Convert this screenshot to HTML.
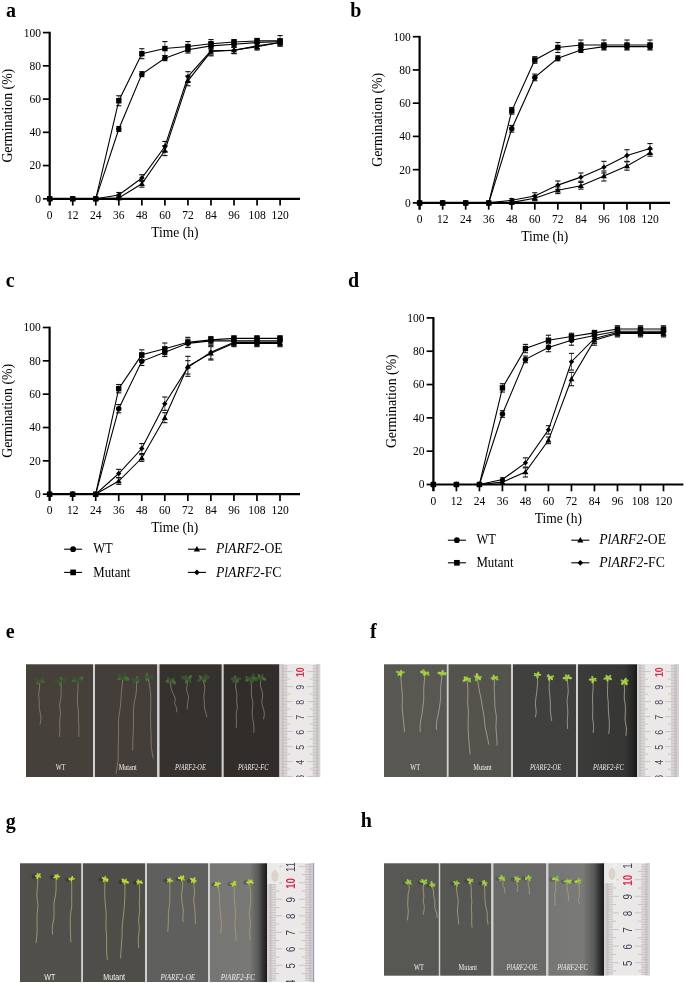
<!DOCTYPE html>
<html><head><meta charset="utf-8"><style>
html,body{margin:0;padding:0;background:#fff;}
body{width:685px;height:983px;overflow:hidden;}
svg{display:block;will-change:transform;}
.tk,.al,.lg,.pn{font-family:"Liberation Serif",serif;fill:#000;}
.tk{font-size:11.5px;}
.al{font-size:13.5px;}
.lg{font-size:13.5px;}
.pn{font-size:20px;font-weight:bold;}
.pl{font-size:6px;fill:#eee;}
</style></head><body>
<svg width="685" height="983" viewBox="0 0 685 983">
<defs><linearGradient id="g1" x1="0" y1="0" x2="1" y2="0"><stop offset="0" stop-color="#3b3b39"/><stop offset="0.8" stop-color="#363634"/><stop offset="0.93" stop-color="#262626"/><stop offset="1" stop-color="#1a1a1a"/></linearGradient><linearGradient id="g2" x1="0" y1="0" x2="1" y2="0"><stop offset="0" stop-color="#767674"/><stop offset="0.7" stop-color="#787876"/><stop offset="0.85" stop-color="#585857"/><stop offset="0.94" stop-color="#2e2e2e"/><stop offset="1" stop-color="#1a1a1a"/></linearGradient><linearGradient id="g3" x1="0" y1="0" x2="1" y2="0"><stop offset="0" stop-color="#767674"/><stop offset="0.62" stop-color="#7a7a78"/><stop offset="0.82" stop-color="#5a5a59"/><stop offset="0.93" stop-color="#2e2e2e"/><stop offset="1" stop-color="#1b1b1b"/></linearGradient></defs>
<text transform="translate(6.0,16.9) scale(1,1.08)" class="pn">a</text>
<text transform="translate(350.2,17.2) scale(1,1.08)" class="pn">b</text>
<text transform="translate(5.800000000000001,286.9) scale(1,1.08)" class="pn">c</text>
<text transform="translate(348.0,286.8) scale(1,1.08)" class="pn">d</text>
<text transform="translate(5.800000000000001,638.0) scale(1,1.08)" class="pn">e</text>
<text transform="translate(369.9,637.8) scale(1,1.08)" class="pn">f</text>
<text transform="translate(5.800000000000001,827.8) scale(1,1.08)" class="pn">g</text>
<text transform="translate(360.79999999999995,827.2) scale(1,1.08)" class="pn">h</text>
<line x1="118.82" y1="126.50" x2="118.82" y2="131.49" stroke="#666" stroke-width="1"/>
<line x1="116.22" y1="126.50" x2="121.42" y2="126.50" stroke="#111" stroke-width="1.1"/>
<line x1="116.22" y1="131.49" x2="121.42" y2="131.49" stroke="#111" stroke-width="1.1"/>
<line x1="141.86" y1="71.66" x2="141.86" y2="76.64" stroke="#666" stroke-width="1"/>
<line x1="139.26" y1="71.66" x2="144.46" y2="71.66" stroke="#111" stroke-width="1.1"/>
<line x1="139.26" y1="76.64" x2="144.46" y2="76.64" stroke="#111" stroke-width="1.1"/>
<line x1="164.90" y1="55.70" x2="164.90" y2="60.69" stroke="#666" stroke-width="1"/>
<line x1="162.30" y1="55.70" x2="167.50" y2="55.70" stroke="#111" stroke-width="1.1"/>
<line x1="162.30" y1="60.69" x2="167.50" y2="60.69" stroke="#111" stroke-width="1.1"/>
<line x1="187.94" y1="46.39" x2="187.94" y2="53.04" stroke="#666" stroke-width="1"/>
<line x1="185.34" y1="46.39" x2="190.54" y2="46.39" stroke="#111" stroke-width="1.1"/>
<line x1="185.34" y1="53.04" x2="190.54" y2="53.04" stroke="#111" stroke-width="1.1"/>
<line x1="210.98" y1="42.57" x2="210.98" y2="49.22" stroke="#666" stroke-width="1"/>
<line x1="208.38" y1="42.57" x2="213.58" y2="42.57" stroke="#111" stroke-width="1.1"/>
<line x1="208.38" y1="49.22" x2="213.58" y2="49.22" stroke="#111" stroke-width="1.1"/>
<line x1="234.02" y1="40.91" x2="234.02" y2="47.56" stroke="#666" stroke-width="1"/>
<line x1="231.42" y1="40.91" x2="236.62" y2="40.91" stroke="#111" stroke-width="1.1"/>
<line x1="231.42" y1="47.56" x2="236.62" y2="47.56" stroke="#111" stroke-width="1.1"/>
<line x1="257.06" y1="40.08" x2="257.06" y2="45.07" stroke="#666" stroke-width="1"/>
<line x1="254.46" y1="40.08" x2="259.66" y2="40.08" stroke="#111" stroke-width="1.1"/>
<line x1="254.46" y1="45.07" x2="259.66" y2="45.07" stroke="#111" stroke-width="1.1"/>
<line x1="280.10" y1="39.25" x2="280.10" y2="44.23" stroke="#666" stroke-width="1"/>
<line x1="277.50" y1="39.25" x2="282.70" y2="39.25" stroke="#111" stroke-width="1.1"/>
<line x1="277.50" y1="44.23" x2="282.70" y2="44.23" stroke="#111" stroke-width="1.1"/>
<line x1="118.82" y1="95.76" x2="118.82" y2="105.73" stroke="#666" stroke-width="1"/>
<line x1="116.22" y1="95.76" x2="121.42" y2="95.76" stroke="#111" stroke-width="1.1"/>
<line x1="116.22" y1="105.73" x2="121.42" y2="105.73" stroke="#111" stroke-width="1.1"/>
<line x1="141.86" y1="48.72" x2="141.86" y2="58.69" stroke="#666" stroke-width="1"/>
<line x1="139.26" y1="48.72" x2="144.46" y2="48.72" stroke="#111" stroke-width="1.1"/>
<line x1="139.26" y1="58.69" x2="144.46" y2="58.69" stroke="#111" stroke-width="1.1"/>
<line x1="164.90" y1="41.57" x2="164.90" y2="55.54" stroke="#666" stroke-width="1"/>
<line x1="162.30" y1="41.57" x2="167.50" y2="41.57" stroke="#111" stroke-width="1.1"/>
<line x1="162.30" y1="55.54" x2="167.50" y2="55.54" stroke="#111" stroke-width="1.1"/>
<line x1="187.94" y1="41.57" x2="187.94" y2="51.55" stroke="#666" stroke-width="1"/>
<line x1="185.34" y1="41.57" x2="190.54" y2="41.57" stroke="#111" stroke-width="1.1"/>
<line x1="185.34" y1="51.55" x2="190.54" y2="51.55" stroke="#111" stroke-width="1.1"/>
<line x1="210.98" y1="39.58" x2="210.98" y2="47.89" stroke="#666" stroke-width="1"/>
<line x1="208.38" y1="39.58" x2="213.58" y2="39.58" stroke="#111" stroke-width="1.1"/>
<line x1="208.38" y1="47.89" x2="213.58" y2="47.89" stroke="#111" stroke-width="1.1"/>
<line x1="234.02" y1="39.58" x2="234.02" y2="44.57" stroke="#666" stroke-width="1"/>
<line x1="231.42" y1="39.58" x2="236.62" y2="39.58" stroke="#111" stroke-width="1.1"/>
<line x1="231.42" y1="44.57" x2="236.62" y2="44.57" stroke="#111" stroke-width="1.1"/>
<line x1="257.06" y1="38.42" x2="257.06" y2="43.40" stroke="#666" stroke-width="1"/>
<line x1="254.46" y1="38.42" x2="259.66" y2="38.42" stroke="#111" stroke-width="1.1"/>
<line x1="254.46" y1="43.40" x2="259.66" y2="43.40" stroke="#111" stroke-width="1.1"/>
<line x1="280.10" y1="35.59" x2="280.10" y2="46.23" stroke="#666" stroke-width="1"/>
<line x1="277.50" y1="35.59" x2="282.70" y2="35.59" stroke="#111" stroke-width="1.1"/>
<line x1="277.50" y1="46.23" x2="282.70" y2="46.23" stroke="#111" stroke-width="1.1"/>
<line x1="118.82" y1="196.31" x2="118.82" y2="199.63" stroke="#666" stroke-width="1"/>
<line x1="116.22" y1="196.31" x2="121.42" y2="196.31" stroke="#111" stroke-width="1.1"/>
<line x1="116.22" y1="199.63" x2="121.42" y2="199.63" stroke="#111" stroke-width="1.1"/>
<line x1="141.86" y1="180.52" x2="141.86" y2="187.17" stroke="#666" stroke-width="1"/>
<line x1="139.26" y1="180.52" x2="144.46" y2="180.52" stroke="#111" stroke-width="1.1"/>
<line x1="139.26" y1="187.17" x2="144.46" y2="187.17" stroke="#111" stroke-width="1.1"/>
<line x1="164.90" y1="145.62" x2="164.90" y2="155.59" stroke="#666" stroke-width="1"/>
<line x1="162.30" y1="145.62" x2="167.50" y2="145.62" stroke="#111" stroke-width="1.1"/>
<line x1="162.30" y1="155.59" x2="167.50" y2="155.59" stroke="#111" stroke-width="1.1"/>
<line x1="187.94" y1="75.81" x2="187.94" y2="85.78" stroke="#666" stroke-width="1"/>
<line x1="185.34" y1="75.81" x2="190.54" y2="75.81" stroke="#111" stroke-width="1.1"/>
<line x1="185.34" y1="85.78" x2="190.54" y2="85.78" stroke="#111" stroke-width="1.1"/>
<line x1="210.98" y1="48.22" x2="210.98" y2="54.87" stroke="#666" stroke-width="1"/>
<line x1="208.38" y1="48.22" x2="213.58" y2="48.22" stroke="#111" stroke-width="1.1"/>
<line x1="208.38" y1="54.87" x2="213.58" y2="54.87" stroke="#111" stroke-width="1.1"/>
<line x1="234.02" y1="46.73" x2="234.02" y2="53.38" stroke="#666" stroke-width="1"/>
<line x1="231.42" y1="46.73" x2="236.62" y2="46.73" stroke="#111" stroke-width="1.1"/>
<line x1="231.42" y1="53.38" x2="236.62" y2="53.38" stroke="#111" stroke-width="1.1"/>
<line x1="257.06" y1="43.40" x2="257.06" y2="50.05" stroke="#666" stroke-width="1"/>
<line x1="254.46" y1="43.40" x2="259.66" y2="43.40" stroke="#111" stroke-width="1.1"/>
<line x1="254.46" y1="50.05" x2="259.66" y2="50.05" stroke="#111" stroke-width="1.1"/>
<line x1="280.10" y1="39.25" x2="280.10" y2="45.90" stroke="#666" stroke-width="1"/>
<line x1="277.50" y1="39.25" x2="282.70" y2="39.25" stroke="#111" stroke-width="1.1"/>
<line x1="277.50" y1="45.90" x2="282.70" y2="45.90" stroke="#111" stroke-width="1.1"/>
<line x1="118.82" y1="192.48" x2="118.82" y2="197.47" stroke="#666" stroke-width="1"/>
<line x1="116.22" y1="192.48" x2="121.42" y2="192.48" stroke="#111" stroke-width="1.1"/>
<line x1="116.22" y1="197.47" x2="121.42" y2="197.47" stroke="#111" stroke-width="1.1"/>
<line x1="141.86" y1="174.70" x2="141.86" y2="181.35" stroke="#666" stroke-width="1"/>
<line x1="139.26" y1="174.70" x2="144.46" y2="174.70" stroke="#111" stroke-width="1.1"/>
<line x1="139.26" y1="181.35" x2="144.46" y2="181.35" stroke="#111" stroke-width="1.1"/>
<line x1="164.90" y1="141.46" x2="164.90" y2="151.43" stroke="#666" stroke-width="1"/>
<line x1="162.30" y1="141.46" x2="167.50" y2="141.46" stroke="#111" stroke-width="1.1"/>
<line x1="162.30" y1="151.43" x2="167.50" y2="151.43" stroke="#111" stroke-width="1.1"/>
<line x1="187.94" y1="71.66" x2="187.94" y2="81.63" stroke="#666" stroke-width="1"/>
<line x1="185.34" y1="71.66" x2="190.54" y2="71.66" stroke="#111" stroke-width="1.1"/>
<line x1="185.34" y1="81.63" x2="190.54" y2="81.63" stroke="#111" stroke-width="1.1"/>
<line x1="210.98" y1="45.90" x2="210.98" y2="55.87" stroke="#666" stroke-width="1"/>
<line x1="208.38" y1="45.90" x2="213.58" y2="45.90" stroke="#111" stroke-width="1.1"/>
<line x1="208.38" y1="55.87" x2="213.58" y2="55.87" stroke="#111" stroke-width="1.1"/>
<line x1="234.02" y1="47.06" x2="234.02" y2="53.71" stroke="#666" stroke-width="1"/>
<line x1="231.42" y1="47.06" x2="236.62" y2="47.06" stroke="#111" stroke-width="1.1"/>
<line x1="231.42" y1="53.71" x2="236.62" y2="53.71" stroke="#111" stroke-width="1.1"/>
<line x1="257.06" y1="42.57" x2="257.06" y2="49.22" stroke="#666" stroke-width="1"/>
<line x1="254.46" y1="42.57" x2="259.66" y2="42.57" stroke="#111" stroke-width="1.1"/>
<line x1="254.46" y1="49.22" x2="259.66" y2="49.22" stroke="#111" stroke-width="1.1"/>
<line x1="280.10" y1="40.08" x2="280.10" y2="45.07" stroke="#666" stroke-width="1"/>
<line x1="277.50" y1="40.08" x2="282.70" y2="40.08" stroke="#111" stroke-width="1.1"/>
<line x1="277.50" y1="45.07" x2="282.70" y2="45.07" stroke="#111" stroke-width="1.1"/>
<polyline points="49.70,198.80 72.74,198.80 95.78,198.80 118.82,129.00 141.86,74.15 164.90,58.19 187.94,49.72 210.98,45.90 234.02,44.23 257.06,42.57 280.10,41.74" fill="none" stroke="#000" stroke-width="1.1"/>
<polyline points="49.70,198.80 72.74,198.80 95.78,198.80 118.82,100.74 141.86,53.71 164.90,48.56 187.94,46.56 210.98,43.74 234.02,42.07 257.06,40.91 280.10,40.91" fill="none" stroke="#000" stroke-width="1.1"/>
<polyline points="49.70,198.80 72.74,198.80 95.78,198.80 118.82,197.97 141.86,183.84 164.90,150.60 187.94,80.80 210.98,51.55 234.02,50.05 257.06,46.73 280.10,42.57" fill="none" stroke="#000" stroke-width="1.1"/>
<polyline points="49.70,198.80 72.74,198.80 95.78,198.80 118.82,194.98 141.86,178.03 164.90,146.45 187.94,76.64 210.98,50.88 234.02,50.38 257.06,45.90 280.10,42.57" fill="none" stroke="#000" stroke-width="1.1"/>
<circle cx="49.70" cy="198.80" r="2.75"/>
<circle cx="72.74" cy="198.80" r="2.75"/>
<circle cx="95.78" cy="198.80" r="2.75"/>
<circle cx="118.82" cy="129.00" r="2.75"/>
<circle cx="141.86" cy="74.15" r="2.75"/>
<circle cx="164.90" cy="58.19" r="2.75"/>
<circle cx="187.94" cy="49.72" r="2.75"/>
<circle cx="210.98" cy="45.90" r="2.75"/>
<circle cx="234.02" cy="44.23" r="2.75"/>
<circle cx="257.06" cy="42.57" r="2.75"/>
<circle cx="280.10" cy="41.74" r="2.75"/>
<rect x="47.00" y="196.10" width="5.40" height="5.40"/>
<rect x="70.04" y="196.10" width="5.40" height="5.40"/>
<rect x="93.08" y="196.10" width="5.40" height="5.40"/>
<rect x="116.12" y="98.04" width="5.40" height="5.40"/>
<rect x="139.16" y="51.01" width="5.40" height="5.40"/>
<rect x="162.20" y="45.86" width="5.40" height="5.40"/>
<rect x="185.24" y="43.86" width="5.40" height="5.40"/>
<rect x="208.28" y="41.04" width="5.40" height="5.40"/>
<rect x="231.32" y="39.37" width="5.40" height="5.40"/>
<rect x="254.36" y="38.21" width="5.40" height="5.40"/>
<rect x="277.40" y="38.21" width="5.40" height="5.40"/>
<path d="M49.70 195.80L52.70 201.05L46.70 201.05Z"/>
<path d="M72.74 195.80L75.74 201.05L69.74 201.05Z"/>
<path d="M95.78 195.80L98.78 201.05L92.78 201.05Z"/>
<path d="M118.82 194.97L121.82 200.22L115.82 200.22Z"/>
<path d="M141.86 180.84L144.86 186.09L138.86 186.09Z"/>
<path d="M164.90 147.60L167.90 152.85L161.90 152.85Z"/>
<path d="M187.94 77.80L190.94 83.05L184.94 83.05Z"/>
<path d="M210.98 48.55L213.98 53.80L207.98 53.80Z"/>
<path d="M234.02 47.05L237.02 52.30L231.02 52.30Z"/>
<path d="M257.06 43.73L260.06 48.98L254.06 48.98Z"/>
<path d="M280.10 39.57L283.10 44.82L277.10 44.82Z"/>
<path d="M49.70 196.10L52.40 198.80L49.70 201.50L47.00 198.80Z"/>
<path d="M72.74 196.10L75.44 198.80L72.74 201.50L70.04 198.80Z"/>
<path d="M95.78 196.10L98.48 198.80L95.78 201.50L93.08 198.80Z"/>
<path d="M118.82 192.28L121.52 194.98L118.82 197.68L116.12 194.98Z"/>
<path d="M141.86 175.33L144.56 178.03L141.86 180.72L139.16 178.03Z"/>
<path d="M164.90 143.75L167.60 146.45L164.90 149.15L162.20 146.45Z"/>
<path d="M187.94 73.94L190.64 76.64L187.94 79.34L185.24 76.64Z"/>
<path d="M210.98 48.18L213.68 50.88L210.98 53.58L208.28 50.88Z"/>
<path d="M234.02 47.68L236.72 50.38L234.02 53.08L231.32 50.38Z"/>
<path d="M257.06 43.20L259.76 45.90L257.06 48.60L254.36 45.90Z"/>
<path d="M280.10 39.87L282.80 42.57L280.10 45.27L277.40 42.57Z"/>
<line x1="49.70" y1="31.80" x2="49.70" y2="205.30" stroke="#000" stroke-width="2.2"/>
<line x1="48.70" y1="198.80" x2="300.00" y2="198.80" stroke="#000" stroke-width="2.2"/>
<line x1="42.90" y1="198.80" x2="49.70" y2="198.80" stroke="#000" stroke-width="1.7"/>
<text x="40.90" y="202.70" text-anchor="end" class="tk">0</text>
<line x1="42.90" y1="165.56" x2="49.70" y2="165.56" stroke="#000" stroke-width="1.7"/>
<text x="40.90" y="169.46" text-anchor="end" class="tk">20</text>
<line x1="42.90" y1="132.32" x2="49.70" y2="132.32" stroke="#000" stroke-width="1.7"/>
<text x="40.90" y="136.22" text-anchor="end" class="tk">40</text>
<line x1="42.90" y1="99.08" x2="49.70" y2="99.08" stroke="#000" stroke-width="1.7"/>
<text x="40.90" y="102.98" text-anchor="end" class="tk">60</text>
<line x1="42.90" y1="65.84" x2="49.70" y2="65.84" stroke="#000" stroke-width="1.7"/>
<text x="40.90" y="69.74" text-anchor="end" class="tk">80</text>
<line x1="42.90" y1="32.60" x2="49.70" y2="32.60" stroke="#000" stroke-width="1.7"/>
<text x="40.90" y="36.50" text-anchor="end" class="tk">100</text>
<line x1="49.70" y1="198.80" x2="49.70" y2="205.60" stroke="#000" stroke-width="1.7"/>
<text x="49.70" y="218.80" text-anchor="middle" class="tk">0</text>
<line x1="72.74" y1="198.80" x2="72.74" y2="205.60" stroke="#000" stroke-width="1.7"/>
<text x="72.74" y="218.80" text-anchor="middle" class="tk">12</text>
<line x1="95.78" y1="198.80" x2="95.78" y2="205.60" stroke="#000" stroke-width="1.7"/>
<text x="95.78" y="218.80" text-anchor="middle" class="tk">24</text>
<line x1="118.82" y1="198.80" x2="118.82" y2="205.60" stroke="#000" stroke-width="1.7"/>
<text x="118.82" y="218.80" text-anchor="middle" class="tk">36</text>
<line x1="141.86" y1="198.80" x2="141.86" y2="205.60" stroke="#000" stroke-width="1.7"/>
<text x="141.86" y="218.80" text-anchor="middle" class="tk">48</text>
<line x1="164.90" y1="198.80" x2="164.90" y2="205.60" stroke="#000" stroke-width="1.7"/>
<text x="164.90" y="218.80" text-anchor="middle" class="tk">60</text>
<line x1="187.94" y1="198.80" x2="187.94" y2="205.60" stroke="#000" stroke-width="1.7"/>
<text x="187.94" y="218.80" text-anchor="middle" class="tk">72</text>
<line x1="210.98" y1="198.80" x2="210.98" y2="205.60" stroke="#000" stroke-width="1.7"/>
<text x="210.98" y="218.80" text-anchor="middle" class="tk">84</text>
<line x1="234.02" y1="198.80" x2="234.02" y2="205.60" stroke="#000" stroke-width="1.7"/>
<text x="234.02" y="218.80" text-anchor="middle" class="tk">96</text>
<line x1="257.06" y1="198.80" x2="257.06" y2="205.60" stroke="#000" stroke-width="1.7"/>
<text x="257.06" y="218.80" text-anchor="middle" class="tk">108</text>
<line x1="280.10" y1="198.80" x2="280.10" y2="205.60" stroke="#000" stroke-width="1.7"/>
<text x="280.10" y="218.80" text-anchor="middle" class="tk">120</text>
<text transform="translate(174.85,236.80) scale(1,1.05)" text-anchor="middle" class="al">Time (h)</text>
<text transform="translate(12.20,115.70) rotate(-90) scale(1,1.07)" text-anchor="middle" class="al" style="font-size:13.8px">Germination (%)</text>
<line x1="511.76" y1="125.45" x2="511.76" y2="132.10" stroke="#666" stroke-width="1"/>
<line x1="509.16" y1="125.45" x2="514.36" y2="125.45" stroke="#111" stroke-width="1.1"/>
<line x1="509.16" y1="132.10" x2="514.36" y2="132.10" stroke="#111" stroke-width="1.1"/>
<line x1="534.80" y1="74.09" x2="534.80" y2="80.74" stroke="#666" stroke-width="1"/>
<line x1="532.20" y1="74.09" x2="537.40" y2="74.09" stroke="#111" stroke-width="1.1"/>
<line x1="532.20" y1="80.74" x2="537.40" y2="80.74" stroke="#111" stroke-width="1.1"/>
<line x1="557.84" y1="55.81" x2="557.84" y2="60.80" stroke="#666" stroke-width="1"/>
<line x1="555.24" y1="55.81" x2="560.44" y2="55.81" stroke="#111" stroke-width="1.1"/>
<line x1="555.24" y1="60.80" x2="560.44" y2="60.80" stroke="#111" stroke-width="1.1"/>
<line x1="580.88" y1="47.50" x2="580.88" y2="52.49" stroke="#666" stroke-width="1"/>
<line x1="578.28" y1="47.50" x2="583.48" y2="47.50" stroke="#111" stroke-width="1.1"/>
<line x1="578.28" y1="52.49" x2="583.48" y2="52.49" stroke="#111" stroke-width="1.1"/>
<line x1="603.92" y1="44.18" x2="603.92" y2="49.17" stroke="#666" stroke-width="1"/>
<line x1="601.32" y1="44.18" x2="606.52" y2="44.18" stroke="#111" stroke-width="1.1"/>
<line x1="601.32" y1="49.17" x2="606.52" y2="49.17" stroke="#111" stroke-width="1.1"/>
<line x1="626.96" y1="44.18" x2="626.96" y2="49.17" stroke="#666" stroke-width="1"/>
<line x1="624.36" y1="44.18" x2="629.56" y2="44.18" stroke="#111" stroke-width="1.1"/>
<line x1="624.36" y1="49.17" x2="629.56" y2="49.17" stroke="#111" stroke-width="1.1"/>
<line x1="650.00" y1="44.18" x2="650.00" y2="49.17" stroke="#666" stroke-width="1"/>
<line x1="647.40" y1="44.18" x2="652.60" y2="44.18" stroke="#111" stroke-width="1.1"/>
<line x1="647.40" y1="49.17" x2="652.60" y2="49.17" stroke="#111" stroke-width="1.1"/>
<line x1="511.76" y1="107.50" x2="511.76" y2="114.15" stroke="#666" stroke-width="1"/>
<line x1="509.16" y1="107.50" x2="514.36" y2="107.50" stroke="#111" stroke-width="1.1"/>
<line x1="509.16" y1="114.15" x2="514.36" y2="114.15" stroke="#111" stroke-width="1.1"/>
<line x1="534.80" y1="56.64" x2="534.80" y2="63.29" stroke="#666" stroke-width="1"/>
<line x1="532.20" y1="56.64" x2="537.40" y2="56.64" stroke="#111" stroke-width="1.1"/>
<line x1="532.20" y1="63.29" x2="537.40" y2="63.29" stroke="#111" stroke-width="1.1"/>
<line x1="557.84" y1="42.52" x2="557.84" y2="52.49" stroke="#666" stroke-width="1"/>
<line x1="555.24" y1="42.52" x2="560.44" y2="42.52" stroke="#111" stroke-width="1.1"/>
<line x1="555.24" y1="52.49" x2="560.44" y2="52.49" stroke="#111" stroke-width="1.1"/>
<line x1="580.88" y1="40.02" x2="580.88" y2="50.00" stroke="#666" stroke-width="1"/>
<line x1="578.28" y1="40.02" x2="583.48" y2="40.02" stroke="#111" stroke-width="1.1"/>
<line x1="578.28" y1="50.00" x2="583.48" y2="50.00" stroke="#111" stroke-width="1.1"/>
<line x1="603.92" y1="40.02" x2="603.92" y2="50.00" stroke="#666" stroke-width="1"/>
<line x1="601.32" y1="40.02" x2="606.52" y2="40.02" stroke="#111" stroke-width="1.1"/>
<line x1="601.32" y1="50.00" x2="606.52" y2="50.00" stroke="#111" stroke-width="1.1"/>
<line x1="626.96" y1="40.02" x2="626.96" y2="50.00" stroke="#666" stroke-width="1"/>
<line x1="624.36" y1="40.02" x2="629.56" y2="40.02" stroke="#111" stroke-width="1.1"/>
<line x1="624.36" y1="50.00" x2="629.56" y2="50.00" stroke="#111" stroke-width="1.1"/>
<line x1="650.00" y1="40.02" x2="650.00" y2="50.00" stroke="#666" stroke-width="1"/>
<line x1="647.40" y1="40.02" x2="652.60" y2="40.02" stroke="#111" stroke-width="1.1"/>
<line x1="647.40" y1="50.00" x2="652.60" y2="50.00" stroke="#111" stroke-width="1.1"/>
<line x1="511.76" y1="200.74" x2="511.76" y2="204.06" stroke="#666" stroke-width="1"/>
<line x1="509.16" y1="200.74" x2="514.36" y2="200.74" stroke="#111" stroke-width="1.1"/>
<line x1="509.16" y1="204.06" x2="514.36" y2="204.06" stroke="#111" stroke-width="1.1"/>
<line x1="534.80" y1="195.75" x2="534.80" y2="200.74" stroke="#666" stroke-width="1"/>
<line x1="532.20" y1="195.75" x2="537.40" y2="195.75" stroke="#111" stroke-width="1.1"/>
<line x1="532.20" y1="200.74" x2="537.40" y2="200.74" stroke="#111" stroke-width="1.1"/>
<line x1="557.84" y1="186.94" x2="557.84" y2="193.59" stroke="#666" stroke-width="1"/>
<line x1="555.24" y1="186.94" x2="560.44" y2="186.94" stroke="#111" stroke-width="1.1"/>
<line x1="555.24" y1="193.59" x2="560.44" y2="193.59" stroke="#111" stroke-width="1.1"/>
<line x1="580.88" y1="182.46" x2="580.88" y2="189.11" stroke="#666" stroke-width="1"/>
<line x1="578.28" y1="182.46" x2="583.48" y2="182.46" stroke="#111" stroke-width="1.1"/>
<line x1="578.28" y1="189.11" x2="583.48" y2="189.11" stroke="#111" stroke-width="1.1"/>
<line x1="603.92" y1="170.99" x2="603.92" y2="180.96" stroke="#666" stroke-width="1"/>
<line x1="601.32" y1="170.99" x2="606.52" y2="170.99" stroke="#111" stroke-width="1.1"/>
<line x1="601.32" y1="180.96" x2="606.52" y2="180.96" stroke="#111" stroke-width="1.1"/>
<line x1="626.96" y1="161.85" x2="626.96" y2="170.16" stroke="#666" stroke-width="1"/>
<line x1="624.36" y1="161.85" x2="629.56" y2="161.85" stroke="#111" stroke-width="1.1"/>
<line x1="624.36" y1="170.16" x2="629.56" y2="170.16" stroke="#111" stroke-width="1.1"/>
<line x1="650.00" y1="149.55" x2="650.00" y2="156.20" stroke="#666" stroke-width="1"/>
<line x1="647.40" y1="149.55" x2="652.60" y2="149.55" stroke="#111" stroke-width="1.1"/>
<line x1="647.40" y1="156.20" x2="652.60" y2="156.20" stroke="#111" stroke-width="1.1"/>
<line x1="511.76" y1="198.58" x2="511.76" y2="201.90" stroke="#666" stroke-width="1"/>
<line x1="509.16" y1="198.58" x2="514.36" y2="198.58" stroke="#111" stroke-width="1.1"/>
<line x1="509.16" y1="201.90" x2="514.36" y2="201.90" stroke="#111" stroke-width="1.1"/>
<line x1="534.80" y1="192.76" x2="534.80" y2="199.41" stroke="#666" stroke-width="1"/>
<line x1="532.20" y1="192.76" x2="537.40" y2="192.76" stroke="#111" stroke-width="1.1"/>
<line x1="532.20" y1="199.41" x2="537.40" y2="199.41" stroke="#111" stroke-width="1.1"/>
<line x1="557.84" y1="180.96" x2="557.84" y2="189.27" stroke="#666" stroke-width="1"/>
<line x1="555.24" y1="180.96" x2="560.44" y2="180.96" stroke="#111" stroke-width="1.1"/>
<line x1="555.24" y1="189.27" x2="560.44" y2="189.27" stroke="#111" stroke-width="1.1"/>
<line x1="580.88" y1="172.98" x2="580.88" y2="181.29" stroke="#666" stroke-width="1"/>
<line x1="578.28" y1="172.98" x2="583.48" y2="172.98" stroke="#111" stroke-width="1.1"/>
<line x1="578.28" y1="181.29" x2="583.48" y2="181.29" stroke="#111" stroke-width="1.1"/>
<line x1="603.92" y1="161.35" x2="603.92" y2="172.98" stroke="#666" stroke-width="1"/>
<line x1="601.32" y1="161.35" x2="606.52" y2="161.35" stroke="#111" stroke-width="1.1"/>
<line x1="601.32" y1="172.98" x2="606.52" y2="172.98" stroke="#111" stroke-width="1.1"/>
<line x1="626.96" y1="149.72" x2="626.96" y2="161.35" stroke="#666" stroke-width="1"/>
<line x1="624.36" y1="149.72" x2="629.56" y2="149.72" stroke="#111" stroke-width="1.1"/>
<line x1="624.36" y1="161.35" x2="629.56" y2="161.35" stroke="#111" stroke-width="1.1"/>
<line x1="650.00" y1="143.57" x2="650.00" y2="153.54" stroke="#666" stroke-width="1"/>
<line x1="647.40" y1="143.57" x2="652.60" y2="143.57" stroke="#111" stroke-width="1.1"/>
<line x1="647.40" y1="153.54" x2="652.60" y2="153.54" stroke="#111" stroke-width="1.1"/>
<polyline points="419.60,202.90 442.64,202.90 465.68,202.90 488.72,202.90 511.76,128.77 534.80,77.42 557.84,58.31 580.88,50.00 603.92,46.67 626.96,46.67 650.00,46.67" fill="none" stroke="#000" stroke-width="1.1"/>
<polyline points="419.60,202.90 442.64,202.90 465.68,202.90 488.72,202.90 511.76,110.83 534.80,59.97 557.84,47.50 580.88,45.01 603.92,45.01 626.96,45.01 650.00,45.01" fill="none" stroke="#000" stroke-width="1.1"/>
<polyline points="419.60,202.90 442.64,202.90 465.68,202.90 488.72,202.90 511.76,202.40 534.80,198.25 557.84,190.27 580.88,185.78 603.92,175.98 626.96,166.00 650.00,152.87" fill="none" stroke="#000" stroke-width="1.1"/>
<polyline points="419.60,202.90 442.64,202.90 465.68,202.90 488.72,202.90 511.76,200.24 534.80,196.09 557.84,185.12 580.88,177.14 603.92,167.17 626.96,155.53 650.00,148.55" fill="none" stroke="#000" stroke-width="1.1"/>
<circle cx="419.60" cy="202.90" r="2.75"/>
<circle cx="442.64" cy="202.90" r="2.75"/>
<circle cx="465.68" cy="202.90" r="2.75"/>
<circle cx="488.72" cy="202.90" r="2.75"/>
<circle cx="511.76" cy="128.77" r="2.75"/>
<circle cx="534.80" cy="77.42" r="2.75"/>
<circle cx="557.84" cy="58.31" r="2.75"/>
<circle cx="580.88" cy="50.00" r="2.75"/>
<circle cx="603.92" cy="46.67" r="2.75"/>
<circle cx="626.96" cy="46.67" r="2.75"/>
<circle cx="650.00" cy="46.67" r="2.75"/>
<rect x="416.90" y="200.20" width="5.40" height="5.40"/>
<rect x="439.94" y="200.20" width="5.40" height="5.40"/>
<rect x="462.98" y="200.20" width="5.40" height="5.40"/>
<rect x="486.02" y="200.20" width="5.40" height="5.40"/>
<rect x="509.06" y="108.13" width="5.40" height="5.40"/>
<rect x="532.10" y="57.27" width="5.40" height="5.40"/>
<rect x="555.14" y="44.80" width="5.40" height="5.40"/>
<rect x="578.18" y="42.31" width="5.40" height="5.40"/>
<rect x="601.22" y="42.31" width="5.40" height="5.40"/>
<rect x="624.26" y="42.31" width="5.40" height="5.40"/>
<rect x="647.30" y="42.31" width="5.40" height="5.40"/>
<path d="M419.60 199.90L422.60 205.15L416.60 205.15Z"/>
<path d="M442.64 199.90L445.64 205.15L439.64 205.15Z"/>
<path d="M465.68 199.90L468.68 205.15L462.68 205.15Z"/>
<path d="M488.72 199.90L491.72 205.15L485.72 205.15Z"/>
<path d="M511.76 199.40L514.76 204.65L508.76 204.65Z"/>
<path d="M534.80 195.25L537.80 200.50L531.80 200.50Z"/>
<path d="M557.84 187.27L560.84 192.52L554.84 192.52Z"/>
<path d="M580.88 182.78L583.88 188.03L577.88 188.03Z"/>
<path d="M603.92 172.98L606.92 178.23L600.92 178.23Z"/>
<path d="M626.96 163.00L629.96 168.25L623.96 168.25Z"/>
<path d="M650.00 149.87L653.00 155.12L647.00 155.12Z"/>
<path d="M419.60 200.20L422.30 202.90L419.60 205.60L416.90 202.90Z"/>
<path d="M442.64 200.20L445.34 202.90L442.64 205.60L439.94 202.90Z"/>
<path d="M465.68 200.20L468.38 202.90L465.68 205.60L462.98 202.90Z"/>
<path d="M488.72 200.20L491.42 202.90L488.72 205.60L486.02 202.90Z"/>
<path d="M511.76 197.54L514.46 200.24L511.76 202.94L509.06 200.24Z"/>
<path d="M534.80 193.39L537.50 196.09L534.80 198.79L532.10 196.09Z"/>
<path d="M557.84 182.42L560.54 185.12L557.84 187.82L555.14 185.12Z"/>
<path d="M580.88 174.44L583.58 177.14L580.88 179.84L578.18 177.14Z"/>
<path d="M603.92 164.47L606.62 167.17L603.92 169.87L601.22 167.17Z"/>
<path d="M626.96 152.83L629.66 155.53L626.96 158.23L624.26 155.53Z"/>
<path d="M650.00 145.85L652.70 148.55L650.00 151.25L647.30 148.55Z"/>
<line x1="419.60" y1="35.90" x2="419.60" y2="209.40" stroke="#000" stroke-width="2.2"/>
<line x1="418.60" y1="202.90" x2="670.00" y2="202.90" stroke="#000" stroke-width="2.2"/>
<line x1="412.80" y1="202.90" x2="419.60" y2="202.90" stroke="#000" stroke-width="1.7"/>
<text x="410.80" y="206.80" text-anchor="end" class="tk">0</text>
<line x1="412.80" y1="169.66" x2="419.60" y2="169.66" stroke="#000" stroke-width="1.7"/>
<text x="410.80" y="173.56" text-anchor="end" class="tk">20</text>
<line x1="412.80" y1="136.42" x2="419.60" y2="136.42" stroke="#000" stroke-width="1.7"/>
<text x="410.80" y="140.32" text-anchor="end" class="tk">40</text>
<line x1="412.80" y1="103.18" x2="419.60" y2="103.18" stroke="#000" stroke-width="1.7"/>
<text x="410.80" y="107.08" text-anchor="end" class="tk">60</text>
<line x1="412.80" y1="69.94" x2="419.60" y2="69.94" stroke="#000" stroke-width="1.7"/>
<text x="410.80" y="73.84" text-anchor="end" class="tk">80</text>
<line x1="412.80" y1="36.70" x2="419.60" y2="36.70" stroke="#000" stroke-width="1.7"/>
<text x="410.80" y="40.60" text-anchor="end" class="tk">100</text>
<line x1="419.60" y1="202.90" x2="419.60" y2="209.70" stroke="#000" stroke-width="1.7"/>
<text x="419.60" y="222.90" text-anchor="middle" class="tk">0</text>
<line x1="442.64" y1="202.90" x2="442.64" y2="209.70" stroke="#000" stroke-width="1.7"/>
<text x="442.64" y="222.90" text-anchor="middle" class="tk">12</text>
<line x1="465.68" y1="202.90" x2="465.68" y2="209.70" stroke="#000" stroke-width="1.7"/>
<text x="465.68" y="222.90" text-anchor="middle" class="tk">24</text>
<line x1="488.72" y1="202.90" x2="488.72" y2="209.70" stroke="#000" stroke-width="1.7"/>
<text x="488.72" y="222.90" text-anchor="middle" class="tk">36</text>
<line x1="511.76" y1="202.90" x2="511.76" y2="209.70" stroke="#000" stroke-width="1.7"/>
<text x="511.76" y="222.90" text-anchor="middle" class="tk">48</text>
<line x1="534.80" y1="202.90" x2="534.80" y2="209.70" stroke="#000" stroke-width="1.7"/>
<text x="534.80" y="222.90" text-anchor="middle" class="tk">60</text>
<line x1="557.84" y1="202.90" x2="557.84" y2="209.70" stroke="#000" stroke-width="1.7"/>
<text x="557.84" y="222.90" text-anchor="middle" class="tk">72</text>
<line x1="580.88" y1="202.90" x2="580.88" y2="209.70" stroke="#000" stroke-width="1.7"/>
<text x="580.88" y="222.90" text-anchor="middle" class="tk">84</text>
<line x1="603.92" y1="202.90" x2="603.92" y2="209.70" stroke="#000" stroke-width="1.7"/>
<text x="603.92" y="222.90" text-anchor="middle" class="tk">96</text>
<line x1="626.96" y1="202.90" x2="626.96" y2="209.70" stroke="#000" stroke-width="1.7"/>
<text x="626.96" y="222.90" text-anchor="middle" class="tk">108</text>
<line x1="650.00" y1="202.90" x2="650.00" y2="209.70" stroke="#000" stroke-width="1.7"/>
<text x="650.00" y="222.90" text-anchor="middle" class="tk">120</text>
<text transform="translate(544.80,240.90) scale(1,1.05)" text-anchor="middle" class="al">Time (h)</text>
<text transform="translate(382.10,119.80) rotate(-90) scale(1,1.07)" text-anchor="middle" class="al" style="font-size:13.8px">Germination (%)</text>
<line x1="118.72" y1="404.52" x2="118.72" y2="412.85" stroke="#666" stroke-width="1"/>
<line x1="116.12" y1="404.52" x2="121.32" y2="404.52" stroke="#111" stroke-width="1.1"/>
<line x1="116.12" y1="412.85" x2="121.32" y2="412.85" stroke="#111" stroke-width="1.1"/>
<line x1="141.76" y1="357.17" x2="141.76" y2="365.51" stroke="#666" stroke-width="1"/>
<line x1="139.16" y1="357.17" x2="144.36" y2="357.17" stroke="#111" stroke-width="1.1"/>
<line x1="139.16" y1="365.51" x2="144.36" y2="365.51" stroke="#111" stroke-width="1.1"/>
<line x1="164.80" y1="348.17" x2="164.80" y2="356.51" stroke="#666" stroke-width="1"/>
<line x1="162.20" y1="348.17" x2="167.40" y2="348.17" stroke="#111" stroke-width="1.1"/>
<line x1="162.20" y1="356.51" x2="167.40" y2="356.51" stroke="#111" stroke-width="1.1"/>
<line x1="187.84" y1="339.17" x2="187.84" y2="347.50" stroke="#666" stroke-width="1"/>
<line x1="185.24" y1="339.17" x2="190.44" y2="339.17" stroke="#111" stroke-width="1.1"/>
<line x1="185.24" y1="347.50" x2="190.44" y2="347.50" stroke="#111" stroke-width="1.1"/>
<line x1="210.88" y1="337.50" x2="210.88" y2="344.17" stroke="#666" stroke-width="1"/>
<line x1="208.28" y1="337.50" x2="213.48" y2="337.50" stroke="#111" stroke-width="1.1"/>
<line x1="208.28" y1="344.17" x2="213.48" y2="344.17" stroke="#111" stroke-width="1.1"/>
<line x1="233.92" y1="337.50" x2="233.92" y2="344.17" stroke="#666" stroke-width="1"/>
<line x1="231.32" y1="337.50" x2="236.52" y2="337.50" stroke="#111" stroke-width="1.1"/>
<line x1="231.32" y1="344.17" x2="236.52" y2="344.17" stroke="#111" stroke-width="1.1"/>
<line x1="256.96" y1="337.50" x2="256.96" y2="344.17" stroke="#666" stroke-width="1"/>
<line x1="254.36" y1="337.50" x2="259.56" y2="337.50" stroke="#111" stroke-width="1.1"/>
<line x1="254.36" y1="344.17" x2="259.56" y2="344.17" stroke="#111" stroke-width="1.1"/>
<line x1="280.00" y1="337.50" x2="280.00" y2="344.17" stroke="#666" stroke-width="1"/>
<line x1="277.40" y1="337.50" x2="282.60" y2="337.50" stroke="#111" stroke-width="1.1"/>
<line x1="277.40" y1="344.17" x2="282.60" y2="344.17" stroke="#111" stroke-width="1.1"/>
<line x1="118.72" y1="384.51" x2="118.72" y2="392.85" stroke="#666" stroke-width="1"/>
<line x1="116.12" y1="384.51" x2="121.32" y2="384.51" stroke="#111" stroke-width="1.1"/>
<line x1="116.12" y1="392.85" x2="121.32" y2="392.85" stroke="#111" stroke-width="1.1"/>
<line x1="141.76" y1="349.84" x2="141.76" y2="359.84" stroke="#666" stroke-width="1"/>
<line x1="139.16" y1="349.84" x2="144.36" y2="349.84" stroke="#111" stroke-width="1.1"/>
<line x1="139.16" y1="359.84" x2="144.36" y2="359.84" stroke="#111" stroke-width="1.1"/>
<line x1="164.80" y1="343.00" x2="164.80" y2="354.67" stroke="#666" stroke-width="1"/>
<line x1="162.20" y1="343.00" x2="167.40" y2="343.00" stroke="#111" stroke-width="1.1"/>
<line x1="162.20" y1="354.67" x2="167.40" y2="354.67" stroke="#111" stroke-width="1.1"/>
<line x1="187.84" y1="337.34" x2="187.84" y2="347.34" stroke="#666" stroke-width="1"/>
<line x1="185.24" y1="337.34" x2="190.44" y2="337.34" stroke="#111" stroke-width="1.1"/>
<line x1="185.24" y1="347.34" x2="190.44" y2="347.34" stroke="#111" stroke-width="1.1"/>
<line x1="210.88" y1="336.50" x2="210.88" y2="343.17" stroke="#666" stroke-width="1"/>
<line x1="208.28" y1="336.50" x2="213.48" y2="336.50" stroke="#111" stroke-width="1.1"/>
<line x1="208.28" y1="343.17" x2="213.48" y2="343.17" stroke="#111" stroke-width="1.1"/>
<line x1="233.92" y1="335.83" x2="233.92" y2="340.84" stroke="#666" stroke-width="1"/>
<line x1="231.32" y1="335.83" x2="236.52" y2="335.83" stroke="#111" stroke-width="1.1"/>
<line x1="231.32" y1="340.84" x2="236.52" y2="340.84" stroke="#111" stroke-width="1.1"/>
<line x1="256.96" y1="335.83" x2="256.96" y2="340.84" stroke="#666" stroke-width="1"/>
<line x1="254.36" y1="335.83" x2="259.56" y2="335.83" stroke="#111" stroke-width="1.1"/>
<line x1="254.36" y1="340.84" x2="259.56" y2="340.84" stroke="#111" stroke-width="1.1"/>
<line x1="280.00" y1="335.83" x2="280.00" y2="340.84" stroke="#666" stroke-width="1"/>
<line x1="277.40" y1="335.83" x2="282.60" y2="335.83" stroke="#111" stroke-width="1.1"/>
<line x1="277.40" y1="340.84" x2="282.60" y2="340.84" stroke="#111" stroke-width="1.1"/>
<line x1="118.72" y1="477.70" x2="118.72" y2="484.36" stroke="#666" stroke-width="1"/>
<line x1="116.12" y1="477.70" x2="121.32" y2="477.70" stroke="#111" stroke-width="1.1"/>
<line x1="116.12" y1="484.36" x2="121.32" y2="484.36" stroke="#111" stroke-width="1.1"/>
<line x1="141.76" y1="454.69" x2="141.76" y2="461.36" stroke="#666" stroke-width="1"/>
<line x1="139.16" y1="454.69" x2="144.36" y2="454.69" stroke="#111" stroke-width="1.1"/>
<line x1="139.16" y1="461.36" x2="144.36" y2="461.36" stroke="#111" stroke-width="1.1"/>
<line x1="164.80" y1="412.68" x2="164.80" y2="422.69" stroke="#666" stroke-width="1"/>
<line x1="162.20" y1="412.68" x2="167.40" y2="412.68" stroke="#111" stroke-width="1.1"/>
<line x1="162.20" y1="422.69" x2="167.40" y2="422.69" stroke="#111" stroke-width="1.1"/>
<line x1="187.84" y1="356.34" x2="187.84" y2="376.34" stroke="#666" stroke-width="1"/>
<line x1="185.24" y1="356.34" x2="190.44" y2="356.34" stroke="#111" stroke-width="1.1"/>
<line x1="185.24" y1="376.34" x2="190.44" y2="376.34" stroke="#111" stroke-width="1.1"/>
<line x1="210.88" y1="346.67" x2="210.88" y2="360.01" stroke="#666" stroke-width="1"/>
<line x1="208.28" y1="346.67" x2="213.48" y2="346.67" stroke="#111" stroke-width="1.1"/>
<line x1="208.28" y1="360.01" x2="213.48" y2="360.01" stroke="#111" stroke-width="1.1"/>
<line x1="233.92" y1="340.00" x2="233.92" y2="346.67" stroke="#666" stroke-width="1"/>
<line x1="231.32" y1="340.00" x2="236.52" y2="340.00" stroke="#111" stroke-width="1.1"/>
<line x1="231.32" y1="346.67" x2="236.52" y2="346.67" stroke="#111" stroke-width="1.1"/>
<line x1="256.96" y1="340.00" x2="256.96" y2="346.67" stroke="#666" stroke-width="1"/>
<line x1="254.36" y1="340.00" x2="259.56" y2="340.00" stroke="#111" stroke-width="1.1"/>
<line x1="254.36" y1="346.67" x2="259.56" y2="346.67" stroke="#111" stroke-width="1.1"/>
<line x1="280.00" y1="340.00" x2="280.00" y2="346.67" stroke="#666" stroke-width="1"/>
<line x1="277.40" y1="340.00" x2="282.60" y2="340.00" stroke="#111" stroke-width="1.1"/>
<line x1="277.40" y1="346.67" x2="282.60" y2="346.67" stroke="#111" stroke-width="1.1"/>
<line x1="118.72" y1="469.36" x2="118.72" y2="477.70" stroke="#666" stroke-width="1"/>
<line x1="116.12" y1="469.36" x2="121.32" y2="469.36" stroke="#111" stroke-width="1.1"/>
<line x1="116.12" y1="477.70" x2="121.32" y2="477.70" stroke="#111" stroke-width="1.1"/>
<line x1="141.76" y1="443.52" x2="141.76" y2="453.53" stroke="#666" stroke-width="1"/>
<line x1="139.16" y1="443.52" x2="144.36" y2="443.52" stroke="#111" stroke-width="1.1"/>
<line x1="139.16" y1="453.53" x2="144.36" y2="453.53" stroke="#111" stroke-width="1.1"/>
<line x1="164.80" y1="397.01" x2="164.80" y2="410.35" stroke="#666" stroke-width="1"/>
<line x1="162.20" y1="397.01" x2="167.40" y2="397.01" stroke="#111" stroke-width="1.1"/>
<line x1="162.20" y1="410.35" x2="167.40" y2="410.35" stroke="#111" stroke-width="1.1"/>
<line x1="187.84" y1="360.67" x2="187.84" y2="374.01" stroke="#666" stroke-width="1"/>
<line x1="185.24" y1="360.67" x2="190.44" y2="360.67" stroke="#111" stroke-width="1.1"/>
<line x1="185.24" y1="374.01" x2="190.44" y2="374.01" stroke="#111" stroke-width="1.1"/>
<line x1="210.88" y1="345.67" x2="210.88" y2="359.01" stroke="#666" stroke-width="1"/>
<line x1="208.28" y1="345.67" x2="213.48" y2="345.67" stroke="#111" stroke-width="1.1"/>
<line x1="208.28" y1="359.01" x2="213.48" y2="359.01" stroke="#111" stroke-width="1.1"/>
<line x1="233.92" y1="339.00" x2="233.92" y2="345.67" stroke="#666" stroke-width="1"/>
<line x1="231.32" y1="339.00" x2="236.52" y2="339.00" stroke="#111" stroke-width="1.1"/>
<line x1="231.32" y1="345.67" x2="236.52" y2="345.67" stroke="#111" stroke-width="1.1"/>
<line x1="256.96" y1="339.00" x2="256.96" y2="345.67" stroke="#666" stroke-width="1"/>
<line x1="254.36" y1="339.00" x2="259.56" y2="339.00" stroke="#111" stroke-width="1.1"/>
<line x1="254.36" y1="345.67" x2="259.56" y2="345.67" stroke="#111" stroke-width="1.1"/>
<line x1="280.00" y1="339.00" x2="280.00" y2="345.67" stroke="#666" stroke-width="1"/>
<line x1="277.40" y1="339.00" x2="282.60" y2="339.00" stroke="#111" stroke-width="1.1"/>
<line x1="277.40" y1="345.67" x2="282.60" y2="345.67" stroke="#111" stroke-width="1.1"/>
<polyline points="49.60,494.20 72.64,494.20 95.68,494.20 118.72,408.68 141.76,361.34 164.80,352.34 187.84,343.34 210.88,340.84 233.92,340.84 256.96,340.84 280.00,340.84" fill="none" stroke="#000" stroke-width="1.1"/>
<polyline points="49.60,494.20 72.64,494.20 95.68,494.20 118.72,388.68 141.76,354.84 164.80,348.84 187.84,342.34 210.88,339.84 233.92,338.34 256.96,338.34 280.00,338.34" fill="none" stroke="#000" stroke-width="1.1"/>
<polyline points="49.60,494.20 72.64,494.20 95.68,494.20 118.72,481.03 141.76,458.03 164.80,417.68 187.84,366.34 210.88,353.34 233.92,343.34 256.96,343.34 280.00,343.34" fill="none" stroke="#000" stroke-width="1.1"/>
<polyline points="49.60,494.20 72.64,494.20 95.68,494.20 118.72,473.53 141.76,448.52 164.80,403.68 187.84,367.34 210.88,352.34 233.92,342.34 256.96,342.34 280.00,342.34" fill="none" stroke="#000" stroke-width="1.1"/>
<circle cx="49.60" cy="494.20" r="2.75"/>
<circle cx="72.64" cy="494.20" r="2.75"/>
<circle cx="95.68" cy="494.20" r="2.75"/>
<circle cx="118.72" cy="408.68" r="2.75"/>
<circle cx="141.76" cy="361.34" r="2.75"/>
<circle cx="164.80" cy="352.34" r="2.75"/>
<circle cx="187.84" cy="343.34" r="2.75"/>
<circle cx="210.88" cy="340.84" r="2.75"/>
<circle cx="233.92" cy="340.84" r="2.75"/>
<circle cx="256.96" cy="340.84" r="2.75"/>
<circle cx="280.00" cy="340.84" r="2.75"/>
<rect x="46.90" y="491.50" width="5.40" height="5.40"/>
<rect x="69.94" y="491.50" width="5.40" height="5.40"/>
<rect x="92.98" y="491.50" width="5.40" height="5.40"/>
<rect x="116.02" y="385.98" width="5.40" height="5.40"/>
<rect x="139.06" y="352.14" width="5.40" height="5.40"/>
<rect x="162.10" y="346.14" width="5.40" height="5.40"/>
<rect x="185.14" y="339.64" width="5.40" height="5.40"/>
<rect x="208.18" y="337.14" width="5.40" height="5.40"/>
<rect x="231.22" y="335.64" width="5.40" height="5.40"/>
<rect x="254.26" y="335.64" width="5.40" height="5.40"/>
<rect x="277.30" y="335.64" width="5.40" height="5.40"/>
<path d="M49.60 491.20L52.60 496.45L46.60 496.45Z"/>
<path d="M72.64 491.20L75.64 496.45L69.64 496.45Z"/>
<path d="M95.68 491.20L98.68 496.45L92.68 496.45Z"/>
<path d="M118.72 478.03L121.72 483.28L115.72 483.28Z"/>
<path d="M141.76 455.03L144.76 460.28L138.76 460.28Z"/>
<path d="M164.80 414.68L167.80 419.93L161.80 419.93Z"/>
<path d="M187.84 363.34L190.84 368.59L184.84 368.59Z"/>
<path d="M210.88 350.34L213.88 355.59L207.88 355.59Z"/>
<path d="M233.92 340.34L236.92 345.59L230.92 345.59Z"/>
<path d="M256.96 340.34L259.96 345.59L253.96 345.59Z"/>
<path d="M280.00 340.34L283.00 345.59L277.00 345.59Z"/>
<path d="M49.60 491.50L52.30 494.20L49.60 496.90L46.90 494.20Z"/>
<path d="M72.64 491.50L75.34 494.20L72.64 496.90L69.94 494.20Z"/>
<path d="M95.68 491.50L98.38 494.20L95.68 496.90L92.98 494.20Z"/>
<path d="M118.72 470.83L121.42 473.53L118.72 476.23L116.02 473.53Z"/>
<path d="M141.76 445.82L144.46 448.52L141.76 451.22L139.06 448.52Z"/>
<path d="M164.80 400.98L167.50 403.68L164.80 406.38L162.10 403.68Z"/>
<path d="M187.84 364.64L190.54 367.34L187.84 370.04L185.14 367.34Z"/>
<path d="M210.88 349.64L213.58 352.34L210.88 355.04L208.18 352.34Z"/>
<path d="M233.92 339.64L236.62 342.34L233.92 345.04L231.22 342.34Z"/>
<path d="M256.96 339.64L259.66 342.34L256.96 345.04L254.26 342.34Z"/>
<path d="M280.00 339.64L282.70 342.34L280.00 345.04L277.30 342.34Z"/>
<line x1="49.60" y1="326.70" x2="49.60" y2="500.70" stroke="#000" stroke-width="2.2"/>
<line x1="48.60" y1="494.20" x2="300.00" y2="494.20" stroke="#000" stroke-width="2.2"/>
<line x1="42.80" y1="494.20" x2="49.60" y2="494.20" stroke="#000" stroke-width="1.7"/>
<text x="40.80" y="498.10" text-anchor="end" class="tk">0</text>
<line x1="42.80" y1="460.86" x2="49.60" y2="460.86" stroke="#000" stroke-width="1.7"/>
<text x="40.80" y="464.76" text-anchor="end" class="tk">20</text>
<line x1="42.80" y1="427.52" x2="49.60" y2="427.52" stroke="#000" stroke-width="1.7"/>
<text x="40.80" y="431.42" text-anchor="end" class="tk">40</text>
<line x1="42.80" y1="394.18" x2="49.60" y2="394.18" stroke="#000" stroke-width="1.7"/>
<text x="40.80" y="398.08" text-anchor="end" class="tk">60</text>
<line x1="42.80" y1="360.84" x2="49.60" y2="360.84" stroke="#000" stroke-width="1.7"/>
<text x="40.80" y="364.74" text-anchor="end" class="tk">80</text>
<line x1="42.80" y1="327.50" x2="49.60" y2="327.50" stroke="#000" stroke-width="1.7"/>
<text x="40.80" y="331.40" text-anchor="end" class="tk">100</text>
<line x1="49.60" y1="494.20" x2="49.60" y2="501.00" stroke="#000" stroke-width="1.7"/>
<text x="49.60" y="514.20" text-anchor="middle" class="tk">0</text>
<line x1="72.64" y1="494.20" x2="72.64" y2="501.00" stroke="#000" stroke-width="1.7"/>
<text x="72.64" y="514.20" text-anchor="middle" class="tk">12</text>
<line x1="95.68" y1="494.20" x2="95.68" y2="501.00" stroke="#000" stroke-width="1.7"/>
<text x="95.68" y="514.20" text-anchor="middle" class="tk">24</text>
<line x1="118.72" y1="494.20" x2="118.72" y2="501.00" stroke="#000" stroke-width="1.7"/>
<text x="118.72" y="514.20" text-anchor="middle" class="tk">36</text>
<line x1="141.76" y1="494.20" x2="141.76" y2="501.00" stroke="#000" stroke-width="1.7"/>
<text x="141.76" y="514.20" text-anchor="middle" class="tk">48</text>
<line x1="164.80" y1="494.20" x2="164.80" y2="501.00" stroke="#000" stroke-width="1.7"/>
<text x="164.80" y="514.20" text-anchor="middle" class="tk">60</text>
<line x1="187.84" y1="494.20" x2="187.84" y2="501.00" stroke="#000" stroke-width="1.7"/>
<text x="187.84" y="514.20" text-anchor="middle" class="tk">72</text>
<line x1="210.88" y1="494.20" x2="210.88" y2="501.00" stroke="#000" stroke-width="1.7"/>
<text x="210.88" y="514.20" text-anchor="middle" class="tk">84</text>
<line x1="233.92" y1="494.20" x2="233.92" y2="501.00" stroke="#000" stroke-width="1.7"/>
<text x="233.92" y="514.20" text-anchor="middle" class="tk">96</text>
<line x1="256.96" y1="494.20" x2="256.96" y2="501.00" stroke="#000" stroke-width="1.7"/>
<text x="256.96" y="514.20" text-anchor="middle" class="tk">108</text>
<line x1="280.00" y1="494.20" x2="280.00" y2="501.00" stroke="#000" stroke-width="1.7"/>
<text x="280.00" y="514.20" text-anchor="middle" class="tk">120</text>
<text transform="translate(174.80,532.20) scale(1,1.05)" text-anchor="middle" class="al">Time (h)</text>
<text transform="translate(12.10,410.85) rotate(-90) scale(1,1.07)" text-anchor="middle" class="al" style="font-size:13.8px">Germination (%)</text>
<line x1="502.43" y1="410.70" x2="502.43" y2="417.36" stroke="#666" stroke-width="1"/>
<line x1="499.83" y1="410.70" x2="505.03" y2="410.70" stroke="#111" stroke-width="1.1"/>
<line x1="499.83" y1="417.36" x2="505.03" y2="417.36" stroke="#111" stroke-width="1.1"/>
<line x1="525.44" y1="356.05" x2="525.44" y2="362.72" stroke="#666" stroke-width="1"/>
<line x1="522.84" y1="356.05" x2="528.04" y2="356.05" stroke="#111" stroke-width="1.1"/>
<line x1="522.84" y1="362.72" x2="528.04" y2="362.72" stroke="#111" stroke-width="1.1"/>
<line x1="548.45" y1="343.39" x2="548.45" y2="351.72" stroke="#666" stroke-width="1"/>
<line x1="545.85" y1="343.39" x2="551.05" y2="343.39" stroke="#111" stroke-width="1.1"/>
<line x1="545.85" y1="351.72" x2="551.05" y2="351.72" stroke="#111" stroke-width="1.1"/>
<line x1="571.46" y1="335.23" x2="571.46" y2="345.22" stroke="#666" stroke-width="1"/>
<line x1="568.86" y1="335.23" x2="574.06" y2="335.23" stroke="#111" stroke-width="1.1"/>
<line x1="568.86" y1="345.22" x2="574.06" y2="345.22" stroke="#111" stroke-width="1.1"/>
<line x1="594.47" y1="332.23" x2="594.47" y2="338.89" stroke="#666" stroke-width="1"/>
<line x1="591.87" y1="332.23" x2="597.07" y2="332.23" stroke="#111" stroke-width="1.1"/>
<line x1="591.87" y1="338.89" x2="597.07" y2="338.89" stroke="#111" stroke-width="1.1"/>
<line x1="617.48" y1="327.90" x2="617.48" y2="334.56" stroke="#666" stroke-width="1"/>
<line x1="614.88" y1="327.90" x2="620.08" y2="327.90" stroke="#111" stroke-width="1.1"/>
<line x1="614.88" y1="334.56" x2="620.08" y2="334.56" stroke="#111" stroke-width="1.1"/>
<line x1="640.49" y1="327.90" x2="640.49" y2="334.56" stroke="#666" stroke-width="1"/>
<line x1="637.89" y1="327.90" x2="643.09" y2="327.90" stroke="#111" stroke-width="1.1"/>
<line x1="637.89" y1="334.56" x2="643.09" y2="334.56" stroke="#111" stroke-width="1.1"/>
<line x1="663.50" y1="327.90" x2="663.50" y2="334.56" stroke="#666" stroke-width="1"/>
<line x1="660.90" y1="327.90" x2="666.10" y2="327.90" stroke="#111" stroke-width="1.1"/>
<line x1="660.90" y1="334.56" x2="666.10" y2="334.56" stroke="#111" stroke-width="1.1"/>
<line x1="502.43" y1="383.71" x2="502.43" y2="392.04" stroke="#666" stroke-width="1"/>
<line x1="499.83" y1="383.71" x2="505.03" y2="383.71" stroke="#111" stroke-width="1.1"/>
<line x1="499.83" y1="392.04" x2="505.03" y2="392.04" stroke="#111" stroke-width="1.1"/>
<line x1="525.44" y1="344.39" x2="525.44" y2="352.72" stroke="#666" stroke-width="1"/>
<line x1="522.84" y1="344.39" x2="528.04" y2="344.39" stroke="#111" stroke-width="1.1"/>
<line x1="522.84" y1="352.72" x2="528.04" y2="352.72" stroke="#111" stroke-width="1.1"/>
<line x1="548.45" y1="335.23" x2="548.45" y2="345.22" stroke="#666" stroke-width="1"/>
<line x1="545.85" y1="335.23" x2="551.05" y2="335.23" stroke="#111" stroke-width="1.1"/>
<line x1="545.85" y1="345.22" x2="551.05" y2="345.22" stroke="#111" stroke-width="1.1"/>
<line x1="571.46" y1="333.23" x2="571.46" y2="339.89" stroke="#666" stroke-width="1"/>
<line x1="568.86" y1="333.23" x2="574.06" y2="333.23" stroke="#111" stroke-width="1.1"/>
<line x1="568.86" y1="339.89" x2="574.06" y2="339.89" stroke="#111" stroke-width="1.1"/>
<line x1="594.47" y1="330.39" x2="594.47" y2="335.39" stroke="#666" stroke-width="1"/>
<line x1="591.87" y1="330.39" x2="597.07" y2="330.39" stroke="#111" stroke-width="1.1"/>
<line x1="591.87" y1="335.39" x2="597.07" y2="335.39" stroke="#111" stroke-width="1.1"/>
<line x1="617.48" y1="325.73" x2="617.48" y2="332.39" stroke="#666" stroke-width="1"/>
<line x1="614.88" y1="325.73" x2="620.08" y2="325.73" stroke="#111" stroke-width="1.1"/>
<line x1="614.88" y1="332.39" x2="620.08" y2="332.39" stroke="#111" stroke-width="1.1"/>
<line x1="640.49" y1="325.73" x2="640.49" y2="332.39" stroke="#666" stroke-width="1"/>
<line x1="637.89" y1="325.73" x2="643.09" y2="325.73" stroke="#111" stroke-width="1.1"/>
<line x1="637.89" y1="332.39" x2="643.09" y2="332.39" stroke="#111" stroke-width="1.1"/>
<line x1="663.50" y1="325.73" x2="663.50" y2="332.39" stroke="#666" stroke-width="1"/>
<line x1="660.90" y1="325.73" x2="666.10" y2="325.73" stroke="#111" stroke-width="1.1"/>
<line x1="660.90" y1="332.39" x2="666.10" y2="332.39" stroke="#111" stroke-width="1.1"/>
<line x1="502.43" y1="480.50" x2="502.43" y2="483.83" stroke="#666" stroke-width="1"/>
<line x1="499.83" y1="480.50" x2="505.03" y2="480.50" stroke="#111" stroke-width="1.1"/>
<line x1="499.83" y1="483.83" x2="505.03" y2="483.83" stroke="#111" stroke-width="1.1"/>
<line x1="525.44" y1="467.01" x2="525.44" y2="477.00" stroke="#666" stroke-width="1"/>
<line x1="522.84" y1="467.01" x2="528.04" y2="467.01" stroke="#111" stroke-width="1.1"/>
<line x1="522.84" y1="477.00" x2="528.04" y2="477.00" stroke="#111" stroke-width="1.1"/>
<line x1="548.45" y1="437.02" x2="548.45" y2="443.68" stroke="#666" stroke-width="1"/>
<line x1="545.85" y1="437.02" x2="551.05" y2="437.02" stroke="#111" stroke-width="1.1"/>
<line x1="545.85" y1="443.68" x2="551.05" y2="443.68" stroke="#111" stroke-width="1.1"/>
<line x1="571.46" y1="372.38" x2="571.46" y2="385.71" stroke="#666" stroke-width="1"/>
<line x1="568.86" y1="372.38" x2="574.06" y2="372.38" stroke="#111" stroke-width="1.1"/>
<line x1="568.86" y1="385.71" x2="574.06" y2="385.71" stroke="#111" stroke-width="1.1"/>
<line x1="594.47" y1="335.23" x2="594.47" y2="345.22" stroke="#666" stroke-width="1"/>
<line x1="591.87" y1="335.23" x2="597.07" y2="335.23" stroke="#111" stroke-width="1.1"/>
<line x1="591.87" y1="345.22" x2="597.07" y2="345.22" stroke="#111" stroke-width="1.1"/>
<line x1="617.48" y1="330.23" x2="617.48" y2="336.89" stroke="#666" stroke-width="1"/>
<line x1="614.88" y1="330.23" x2="620.08" y2="330.23" stroke="#111" stroke-width="1.1"/>
<line x1="614.88" y1="336.89" x2="620.08" y2="336.89" stroke="#111" stroke-width="1.1"/>
<line x1="640.49" y1="330.23" x2="640.49" y2="336.89" stroke="#666" stroke-width="1"/>
<line x1="637.89" y1="330.23" x2="643.09" y2="330.23" stroke="#111" stroke-width="1.1"/>
<line x1="637.89" y1="336.89" x2="643.09" y2="336.89" stroke="#111" stroke-width="1.1"/>
<line x1="663.50" y1="330.23" x2="663.50" y2="336.89" stroke="#666" stroke-width="1"/>
<line x1="660.90" y1="330.23" x2="666.10" y2="330.23" stroke="#111" stroke-width="1.1"/>
<line x1="660.90" y1="336.89" x2="666.10" y2="336.89" stroke="#111" stroke-width="1.1"/>
<line x1="502.43" y1="477.84" x2="502.43" y2="481.17" stroke="#666" stroke-width="1"/>
<line x1="499.83" y1="477.84" x2="505.03" y2="477.84" stroke="#111" stroke-width="1.1"/>
<line x1="499.83" y1="481.17" x2="505.03" y2="481.17" stroke="#111" stroke-width="1.1"/>
<line x1="525.44" y1="457.84" x2="525.44" y2="467.84" stroke="#666" stroke-width="1"/>
<line x1="522.84" y1="457.84" x2="528.04" y2="457.84" stroke="#111" stroke-width="1.1"/>
<line x1="522.84" y1="467.84" x2="528.04" y2="467.84" stroke="#111" stroke-width="1.1"/>
<line x1="548.45" y1="425.69" x2="548.45" y2="434.02" stroke="#666" stroke-width="1"/>
<line x1="545.85" y1="425.69" x2="551.05" y2="425.69" stroke="#111" stroke-width="1.1"/>
<line x1="545.85" y1="434.02" x2="551.05" y2="434.02" stroke="#111" stroke-width="1.1"/>
<line x1="571.46" y1="353.39" x2="571.46" y2="370.05" stroke="#666" stroke-width="1"/>
<line x1="568.86" y1="353.39" x2="574.06" y2="353.39" stroke="#111" stroke-width="1.1"/>
<line x1="568.86" y1="370.05" x2="574.06" y2="370.05" stroke="#111" stroke-width="1.1"/>
<line x1="594.47" y1="333.39" x2="594.47" y2="343.39" stroke="#666" stroke-width="1"/>
<line x1="591.87" y1="333.39" x2="597.07" y2="333.39" stroke="#111" stroke-width="1.1"/>
<line x1="591.87" y1="343.39" x2="597.07" y2="343.39" stroke="#111" stroke-width="1.1"/>
<line x1="617.48" y1="329.23" x2="617.48" y2="335.89" stroke="#666" stroke-width="1"/>
<line x1="614.88" y1="329.23" x2="620.08" y2="329.23" stroke="#111" stroke-width="1.1"/>
<line x1="614.88" y1="335.89" x2="620.08" y2="335.89" stroke="#111" stroke-width="1.1"/>
<line x1="640.49" y1="329.23" x2="640.49" y2="335.89" stroke="#666" stroke-width="1"/>
<line x1="637.89" y1="329.23" x2="643.09" y2="329.23" stroke="#111" stroke-width="1.1"/>
<line x1="637.89" y1="335.89" x2="643.09" y2="335.89" stroke="#111" stroke-width="1.1"/>
<line x1="663.50" y1="329.23" x2="663.50" y2="335.89" stroke="#666" stroke-width="1"/>
<line x1="660.90" y1="329.23" x2="666.10" y2="329.23" stroke="#111" stroke-width="1.1"/>
<line x1="660.90" y1="335.89" x2="666.10" y2="335.89" stroke="#111" stroke-width="1.1"/>
<polyline points="433.40,484.50 456.41,484.50 479.42,484.50 502.43,414.03 525.44,359.38 548.45,347.55 571.46,340.22 594.47,335.56 617.48,331.23 640.49,331.23 663.50,331.23" fill="none" stroke="#000" stroke-width="1.1"/>
<polyline points="433.40,484.50 456.41,484.50 479.42,484.50 502.43,387.87 525.44,348.55 548.45,340.22 571.46,336.56 594.47,332.89 617.48,329.06 640.49,329.06 663.50,329.06" fill="none" stroke="#000" stroke-width="1.1"/>
<polyline points="433.40,484.50 456.41,484.50 479.42,484.50 502.43,482.17 525.44,472.00 548.45,440.35 571.46,379.04 594.47,340.22 617.48,333.56 640.49,333.56 663.50,333.56" fill="none" stroke="#000" stroke-width="1.1"/>
<polyline points="433.40,484.50 456.41,484.50 479.42,484.50 502.43,479.50 525.44,462.84 548.45,429.86 571.46,361.72 594.47,338.39 617.48,332.56 640.49,332.56 663.50,332.56" fill="none" stroke="#000" stroke-width="1.1"/>
<circle cx="433.40" cy="484.50" r="2.75"/>
<circle cx="456.41" cy="484.50" r="2.75"/>
<circle cx="479.42" cy="484.50" r="2.75"/>
<circle cx="502.43" cy="414.03" r="2.75"/>
<circle cx="525.44" cy="359.38" r="2.75"/>
<circle cx="548.45" cy="347.55" r="2.75"/>
<circle cx="571.46" cy="340.22" r="2.75"/>
<circle cx="594.47" cy="335.56" r="2.75"/>
<circle cx="617.48" cy="331.23" r="2.75"/>
<circle cx="640.49" cy="331.23" r="2.75"/>
<circle cx="663.50" cy="331.23" r="2.75"/>
<rect x="430.70" y="481.80" width="5.40" height="5.40"/>
<rect x="453.71" y="481.80" width="5.40" height="5.40"/>
<rect x="476.72" y="481.80" width="5.40" height="5.40"/>
<rect x="499.73" y="385.17" width="5.40" height="5.40"/>
<rect x="522.74" y="345.85" width="5.40" height="5.40"/>
<rect x="545.75" y="337.52" width="5.40" height="5.40"/>
<rect x="568.76" y="333.86" width="5.40" height="5.40"/>
<rect x="591.77" y="330.19" width="5.40" height="5.40"/>
<rect x="614.78" y="326.36" width="5.40" height="5.40"/>
<rect x="637.79" y="326.36" width="5.40" height="5.40"/>
<rect x="660.80" y="326.36" width="5.40" height="5.40"/>
<path d="M433.40 481.50L436.40 486.75L430.40 486.75Z"/>
<path d="M456.41 481.50L459.41 486.75L453.41 486.75Z"/>
<path d="M479.42 481.50L482.42 486.75L476.42 486.75Z"/>
<path d="M502.43 479.17L505.43 484.42L499.43 484.42Z"/>
<path d="M525.44 469.00L528.44 474.25L522.44 474.25Z"/>
<path d="M548.45 437.35L551.45 442.60L545.45 442.60Z"/>
<path d="M571.46 376.04L574.46 381.29L568.46 381.29Z"/>
<path d="M594.47 337.22L597.47 342.47L591.47 342.47Z"/>
<path d="M617.48 330.56L620.48 335.81L614.48 335.81Z"/>
<path d="M640.49 330.56L643.49 335.81L637.49 335.81Z"/>
<path d="M663.50 330.56L666.50 335.81L660.50 335.81Z"/>
<path d="M433.40 481.80L436.10 484.50L433.40 487.20L430.70 484.50Z"/>
<path d="M456.41 481.80L459.11 484.50L456.41 487.20L453.71 484.50Z"/>
<path d="M479.42 481.80L482.12 484.50L479.42 487.20L476.72 484.50Z"/>
<path d="M502.43 476.80L505.13 479.50L502.43 482.20L499.73 479.50Z"/>
<path d="M525.44 460.14L528.14 462.84L525.44 465.54L522.74 462.84Z"/>
<path d="M548.45 427.16L551.15 429.86L548.45 432.56L545.75 429.86Z"/>
<path d="M571.46 359.02L574.16 361.72L571.46 364.42L568.76 361.72Z"/>
<path d="M594.47 335.69L597.17 338.39L594.47 341.09L591.77 338.39Z"/>
<path d="M617.48 329.86L620.18 332.56L617.48 335.26L614.78 332.56Z"/>
<path d="M640.49 329.86L643.19 332.56L640.49 335.26L637.79 332.56Z"/>
<path d="M663.50 329.86L666.20 332.56L663.50 335.26L660.80 332.56Z"/>
<line x1="433.40" y1="317.10" x2="433.40" y2="491.00" stroke="#000" stroke-width="2.2"/>
<line x1="432.40" y1="484.50" x2="683.40" y2="484.50" stroke="#000" stroke-width="2.2"/>
<line x1="426.60" y1="484.50" x2="433.40" y2="484.50" stroke="#000" stroke-width="1.7"/>
<text x="424.60" y="488.40" text-anchor="end" class="tk">0</text>
<line x1="426.60" y1="451.18" x2="433.40" y2="451.18" stroke="#000" stroke-width="1.7"/>
<text x="424.60" y="455.08" text-anchor="end" class="tk">20</text>
<line x1="426.60" y1="417.86" x2="433.40" y2="417.86" stroke="#000" stroke-width="1.7"/>
<text x="424.60" y="421.76" text-anchor="end" class="tk">40</text>
<line x1="426.60" y1="384.54" x2="433.40" y2="384.54" stroke="#000" stroke-width="1.7"/>
<text x="424.60" y="388.44" text-anchor="end" class="tk">60</text>
<line x1="426.60" y1="351.22" x2="433.40" y2="351.22" stroke="#000" stroke-width="1.7"/>
<text x="424.60" y="355.12" text-anchor="end" class="tk">80</text>
<line x1="426.60" y1="317.90" x2="433.40" y2="317.90" stroke="#000" stroke-width="1.7"/>
<text x="424.60" y="321.80" text-anchor="end" class="tk">100</text>
<line x1="433.40" y1="484.50" x2="433.40" y2="491.30" stroke="#000" stroke-width="1.7"/>
<text x="433.40" y="504.50" text-anchor="middle" class="tk">0</text>
<line x1="456.41" y1="484.50" x2="456.41" y2="491.30" stroke="#000" stroke-width="1.7"/>
<text x="456.41" y="504.50" text-anchor="middle" class="tk">12</text>
<line x1="479.42" y1="484.50" x2="479.42" y2="491.30" stroke="#000" stroke-width="1.7"/>
<text x="479.42" y="504.50" text-anchor="middle" class="tk">24</text>
<line x1="502.43" y1="484.50" x2="502.43" y2="491.30" stroke="#000" stroke-width="1.7"/>
<text x="502.43" y="504.50" text-anchor="middle" class="tk">36</text>
<line x1="525.44" y1="484.50" x2="525.44" y2="491.30" stroke="#000" stroke-width="1.7"/>
<text x="525.44" y="504.50" text-anchor="middle" class="tk">48</text>
<line x1="548.45" y1="484.50" x2="548.45" y2="491.30" stroke="#000" stroke-width="1.7"/>
<text x="548.45" y="504.50" text-anchor="middle" class="tk">60</text>
<line x1="571.46" y1="484.50" x2="571.46" y2="491.30" stroke="#000" stroke-width="1.7"/>
<text x="571.46" y="504.50" text-anchor="middle" class="tk">72</text>
<line x1="594.47" y1="484.50" x2="594.47" y2="491.30" stroke="#000" stroke-width="1.7"/>
<text x="594.47" y="504.50" text-anchor="middle" class="tk">84</text>
<line x1="617.48" y1="484.50" x2="617.48" y2="491.30" stroke="#000" stroke-width="1.7"/>
<text x="617.48" y="504.50" text-anchor="middle" class="tk">96</text>
<line x1="640.49" y1="484.50" x2="640.49" y2="491.30" stroke="#000" stroke-width="1.7"/>
<text x="640.49" y="504.50" text-anchor="middle" class="tk">108</text>
<line x1="663.50" y1="484.50" x2="663.50" y2="491.30" stroke="#000" stroke-width="1.7"/>
<text x="663.50" y="504.50" text-anchor="middle" class="tk">120</text>
<text transform="translate(558.40,522.50) scale(1,1.05)" text-anchor="middle" class="al">Time (h)</text>
<text transform="translate(395.90,401.20) rotate(-90) scale(1,1.07)" text-anchor="middle" class="al" style="font-size:13.8px">Germination (%)</text>
<line x1="64.10" y1="549.20" x2="82.10" y2="549.20" stroke="#000" stroke-width="1.1"/>
<circle cx="73.10" cy="549.20" r="2.89"/>
<text transform="translate(93.20,553.30) scale(1,1.06)" class="lg" textLength="19.5" lengthAdjust="spacingAndGlyphs">WT</text>
<line x1="64.10" y1="572.40" x2="82.10" y2="572.40" stroke="#000" stroke-width="1.1"/>
<rect x="70.27" y="569.56" width="5.67" height="5.67"/>
<text transform="translate(93.20,576.50) scale(1,1.06)" class="lg" textLength="37.2" lengthAdjust="spacingAndGlyphs">Mutant</text>
<line x1="187.90" y1="549.20" x2="205.90" y2="549.20" stroke="#000" stroke-width="1.1"/>
<path d="M196.90 546.05L200.05 551.56L193.75 551.56Z"/>
<text transform="translate(215.90,553.30) scale(1,1.06)" class="lg" textLength="66.8" lengthAdjust="spacingAndGlyphs"><tspan font-style="italic">PlARF2</tspan>-OE</text>
<line x1="187.90" y1="572.40" x2="205.90" y2="572.40" stroke="#000" stroke-width="1.1"/>
<path d="M196.90 569.56L199.74 572.40L196.90 575.24L194.06 572.40Z"/>
<text transform="translate(215.90,576.50) scale(1,1.06)" class="lg" textLength="65.6" lengthAdjust="spacingAndGlyphs"><tspan font-style="italic">PlARF2</tspan>-FC</text>
<line x1="447.90" y1="540.20" x2="465.90" y2="540.20" stroke="#000" stroke-width="1.1"/>
<circle cx="456.90" cy="540.20" r="2.89"/>
<text transform="translate(476.40,544.30) scale(1,1.06)" class="lg" textLength="19.5" lengthAdjust="spacingAndGlyphs">WT</text>
<line x1="447.90" y1="562.80" x2="465.90" y2="562.80" stroke="#000" stroke-width="1.1"/>
<rect x="454.06" y="559.96" width="5.67" height="5.67"/>
<text transform="translate(476.40,566.90) scale(1,1.06)" class="lg" textLength="37.2" lengthAdjust="spacingAndGlyphs">Mutant</text>
<line x1="571.30" y1="540.20" x2="589.30" y2="540.20" stroke="#000" stroke-width="1.1"/>
<path d="M580.30 537.05L583.45 542.56L577.15 542.56Z"/>
<text transform="translate(599.20,544.30) scale(1,1.06)" class="lg" textLength="66.8" lengthAdjust="spacingAndGlyphs"><tspan font-style="italic">PlARF2</tspan>-OE</text>
<line x1="571.30" y1="562.80" x2="589.30" y2="562.80" stroke="#000" stroke-width="1.1"/>
<path d="M580.30 559.96L583.13 562.80L580.30 565.63L577.46 562.80Z"/>
<text transform="translate(599.20,566.90) scale(1,1.06)" class="lg" textLength="65.6" lengthAdjust="spacingAndGlyphs"><tspan font-style="italic">PlARF2</tspan>-FC</text>
<rect x="26.00" y="664.00" width="67.00" height="113.00" fill="#46403b"/>
<rect x="95.00" y="664.00" width="62.30" height="113.00" fill="#443e3a"/>
<rect x="159.30" y="664.00" width="62.50" height="113.00" fill="#34312e"/>
<rect x="223.40" y="664.00" width="56.10" height="113.00" fill="#302d2b"/>
<rect x="93.00" y="664.00" width="2.00" height="113.00" fill="#d0d0d0"/>
<rect x="157.30" y="664.00" width="2.00" height="113.00" fill="#d0d0d0"/>
<rect x="221.80" y="664.00" width="1.60" height="113.00" fill="#d0d0d0"/>
<rect x="26.00" y="664.00" width="253.50" height="0.8" fill="#ffffff" opacity="0.35"/>
<path d="M39.70 682.90 Q39.65 688.77 39.02 691.71 Q38.39 694.64 38.95 697.58 Q39.51 700.51 39.20 703.45 Q38.89 706.39 39.48 709.32 Q40.08 712.26 40.70 715.19 Q41.32 718.13 40.66 721.06 L40.00 724.00" fill="none" stroke="#8e826e" stroke-width="0.8" stroke-linejoin="round" stroke-linecap="round"/>
<ellipse cx="42.10" cy="679.59" rx="3.01" ry="1.69" fill="#3a5430" transform="rotate(305.0 42.10 679.59)"/>
<ellipse cx="42.54" cy="681.53" rx="2.05" ry="1.15" fill="#4c6a3c" transform="rotate(365.1 42.54 681.53)"/>
<ellipse cx="40.65" cy="682.82" rx="2.06" ry="1.15" fill="#3a5430" transform="rotate(430.6 40.65 682.82)"/>
<ellipse cx="37.86" cy="682.71" rx="2.23" ry="1.25" fill="#4c6a3c" transform="rotate(486.6 37.86 682.71)"/>
<ellipse cx="36.94" cy="680.28" rx="2.51" ry="1.41" fill="#3a5430" transform="rotate(577.6 36.94 680.28)"/>
<circle cx="39.70" cy="681.40" r="1.53" fill="#3a5430"/>
<path d="M61.30 682.40 Q60.96 690.11 61.10 693.97 Q61.25 697.83 60.14 701.69 Q59.04 705.54 60.08 709.40 Q61.13 713.26 60.19 717.11 Q59.26 720.97 59.68 724.83 Q60.10 728.69 59.80 732.54 L59.50 736.40" fill="none" stroke="#8e826e" stroke-width="0.8" stroke-linejoin="round" stroke-linecap="round"/>
<ellipse cx="64.26" cy="681.81" rx="2.47" ry="1.38" fill="#3a5430" transform="rotate(30.1 64.26 681.81)"/>
<ellipse cx="60.46" cy="683.01" rx="2.94" ry="1.65" fill="#4c6a3c" transform="rotate(101.9 60.46 683.01)"/>
<ellipse cx="57.20" cy="680.87" rx="2.96" ry="1.66" fill="#3a5430" transform="rotate(180.8 57.20 680.87)"/>
<ellipse cx="61.11" cy="679.12" rx="2.44" ry="1.36" fill="#4c6a3c" transform="rotate(266.7 61.11 679.12)"/>
<ellipse cx="64.24" cy="679.95" rx="2.48" ry="1.39" fill="#3a5430" transform="rotate(328.4 64.24 679.95)"/>
<circle cx="61.30" cy="680.90" r="1.53" fill="#3a5430"/>
<path d="M78.10 681.50 Q78.04 689.34 77.65 693.26 Q77.25 697.19 77.44 701.11 Q77.62 705.03 78.08 708.95 Q78.55 712.87 78.54 716.79 Q78.54 720.71 78.75 724.64 Q78.95 728.56 78.88 732.48 L78.80 736.40" fill="none" stroke="#8e826e" stroke-width="0.8" stroke-linejoin="round" stroke-linecap="round"/>
<ellipse cx="77.40" cy="681.69" rx="2.36" ry="1.32" fill="#3a5430" transform="rotate(102.4 77.40 681.69)"/>
<ellipse cx="74.45" cy="680.43" rx="2.70" ry="1.51" fill="#4c6a3c" transform="rotate(167.4 74.45 680.43)"/>
<ellipse cx="74.80" cy="678.74" rx="2.94" ry="1.65" fill="#3a5430" transform="rotate(215.8 74.80 678.74)"/>
<ellipse cx="81.05" cy="678.76" rx="2.72" ry="1.52" fill="#4c6a3c" transform="rotate(321.5 81.05 678.76)"/>
<ellipse cx="80.94" cy="680.53" rx="2.17" ry="1.22" fill="#3a5430" transform="rotate(379.5 80.94 680.53)"/>
<circle cx="78.10" cy="680.00" r="1.53" fill="#3a5430"/>
<path d="M122.80 679.20 Q121.27 692.67 121.00 699.41 Q120.73 706.14 119.44 712.88 Q118.15 719.61 118.47 726.35 Q118.78 733.09 118.43 739.82 Q118.07 746.56 118.26 753.29 Q118.44 760.03 117.22 766.76 L116.00 773.50" fill="none" stroke="#8e826e" stroke-width="0.8" stroke-linejoin="round" stroke-linecap="round"/>
<ellipse cx="124.83" cy="675.85" rx="2.91" ry="1.63" fill="#3a5430" transform="rotate(300.1 124.83 675.85)"/>
<ellipse cx="126.67" cy="678.60" rx="3.05" ry="1.71" fill="#4c6a3c" transform="rotate(383.8 126.67 678.60)"/>
<ellipse cx="123.98" cy="679.24" rx="2.27" ry="1.27" fill="#3a5430" transform="rotate(427.9 123.98 679.24)"/>
<ellipse cx="119.74" cy="678.56" rx="2.50" ry="1.40" fill="#4c6a3c" transform="rotate(511.9 119.74 678.56)"/>
<ellipse cx="120.03" cy="676.13" rx="2.93" ry="1.64" fill="#3a5430" transform="rotate(587.0 120.03 676.13)"/>
<circle cx="122.80" cy="677.70" r="1.53" fill="#3a5430"/>
<path d="M136.50 681.10 Q137.04 690.94 135.70 695.86 Q134.35 700.79 133.82 705.71 Q133.28 710.63 133.45 715.55 Q133.62 720.47 133.44 725.39 Q133.27 730.31 133.08 735.24 Q132.90 740.16 132.75 745.08 L132.60 750.00" fill="none" stroke="#8e826e" stroke-width="0.8" stroke-linejoin="round" stroke-linecap="round"/>
<ellipse cx="133.41" cy="679.04" rx="2.36" ry="1.32" fill="#3a5430" transform="rotate(198.9 133.41 679.04)"/>
<ellipse cx="136.99" cy="678.03" rx="2.17" ry="1.22" fill="#4c6a3c" transform="rotate(279.3 136.99 678.03)"/>
<ellipse cx="139.76" cy="679.77" rx="2.36" ry="1.32" fill="#3a5430" transform="rotate(365.6 139.76 679.77)"/>
<ellipse cx="137.49" cy="681.22" rx="2.32" ry="1.30" fill="#4c6a3c" transform="rotate(432.2 137.49 681.22)"/>
<ellipse cx="134.55" cy="681.42" rx="2.85" ry="1.59" fill="#3a5430" transform="rotate(479.5 134.55 681.42)"/>
<circle cx="136.50" cy="679.60" r="1.53" fill="#3a5430"/>
<path d="M148.30 678.20 Q150.37 689.60 150.70 695.30 Q151.03 701.00 150.78 706.70 Q150.53 712.40 150.54 718.10 Q150.55 723.80 150.89 729.50 Q151.23 735.20 151.10 740.90 Q150.98 746.60 152.09 752.30 L153.20 758.00" fill="none" stroke="#8e826e" stroke-width="0.8" stroke-linejoin="round" stroke-linecap="round"/>
<ellipse cx="151.20" cy="677.68" rx="2.48" ry="1.39" fill="#3a5430" transform="rotate(32.6 151.20 677.68)"/>
<ellipse cx="146.89" cy="678.61" rx="2.80" ry="1.57" fill="#4c6a3c" transform="rotate(111.3 146.89 678.61)"/>
<ellipse cx="145.43" cy="676.29" rx="2.14" ry="1.20" fill="#3a5430" transform="rotate(195.0 145.43 676.29)"/>
<ellipse cx="147.31" cy="675.03" rx="2.38" ry="1.34" fill="#4c6a3c" transform="rotate(252.5 147.31 675.03)"/>
<ellipse cx="151.47" cy="676.05" rx="2.45" ry="1.37" fill="#3a5430" transform="rotate(338.9 151.47 676.05)"/>
<circle cx="148.30" cy="676.70" r="1.53" fill="#3a5430"/>
<path d="M170.70 682.10 Q170.61 686.36 171.15 688.49 Q171.70 690.61 172.72 692.74 Q173.74 694.87 174.76 697.00 Q175.78 699.13 174.86 701.26 Q173.94 703.39 175.44 705.51 Q176.95 707.64 176.77 709.77 L176.60 711.90" fill="none" stroke="#8e826e" stroke-width="0.8" stroke-linejoin="round" stroke-linecap="round"/>
<ellipse cx="172.86" cy="679.42" rx="2.23" ry="1.25" fill="#3a5430" transform="rotate(314.1 172.86 679.42)"/>
<ellipse cx="173.75" cy="681.91" rx="2.84" ry="1.59" fill="#4c6a3c" transform="rotate(399.1 173.75 681.91)"/>
<ellipse cx="168.85" cy="682.01" rx="2.34" ry="1.31" fill="#3a5430" transform="rotate(484.6 168.85 682.01)"/>
<ellipse cx="167.53" cy="680.94" rx="2.33" ry="1.31" fill="#4c6a3c" transform="rotate(528.7 167.53 680.94)"/>
<ellipse cx="168.60" cy="679.19" rx="2.45" ry="1.37" fill="#3a5430" transform="rotate(591.9 168.60 679.19)"/>
<circle cx="170.70" cy="680.60" r="1.53" fill="#3a5430"/>
<path d="M187.30 680.20 Q187.54 684.31 186.97 686.37 Q186.41 688.43 186.73 690.49 Q187.06 692.54 187.93 694.60 Q188.79 696.66 188.41 698.71 Q188.04 700.77 187.70 702.83 Q187.36 704.89 187.33 706.94 L187.30 709.00" fill="none" stroke="#8e826e" stroke-width="0.8" stroke-linejoin="round" stroke-linecap="round"/>
<ellipse cx="186.16" cy="677.08" rx="2.35" ry="1.32" fill="#3a5430" transform="rotate(249.6 186.16 677.08)"/>
<ellipse cx="189.99" cy="677.29" rx="2.73" ry="1.53" fill="#4c6a3c" transform="rotate(315.2 189.99 677.29)"/>
<ellipse cx="189.47" cy="680.38" rx="2.77" ry="1.55" fill="#3a5430" transform="rotate(415.6 189.47 680.38)"/>
<ellipse cx="186.64" cy="680.75" rx="2.83" ry="1.59" fill="#4c6a3c" transform="rotate(459.6 186.64 680.75)"/>
<ellipse cx="183.58" cy="677.76" rx="2.97" ry="1.67" fill="#3a5430" transform="rotate(565.5 183.58 677.76)"/>
<circle cx="187.30" cy="678.70" r="1.53" fill="#3a5430"/>
<path d="M203.00 680.20 Q204.78 685.43 204.82 688.04 Q204.86 690.66 204.23 693.27 Q203.59 695.89 204.01 698.50 Q204.42 701.11 204.30 703.73 Q204.17 706.34 204.80 708.96 Q205.43 711.57 206.16 714.19 L206.90 716.80" fill="none" stroke="#8e826e" stroke-width="0.8" stroke-linejoin="round" stroke-linecap="round"/>
<ellipse cx="206.81" cy="678.01" rx="2.91" ry="1.63" fill="#3a5430" transform="rotate(341.2 206.81 678.01)"/>
<ellipse cx="204.54" cy="680.31" rx="2.46" ry="1.38" fill="#4c6a3c" transform="rotate(423.2 204.54 680.31)"/>
<ellipse cx="199.59" cy="679.81" rx="2.89" ry="1.62" fill="#3a5430" transform="rotate(508.4 199.59 679.81)"/>
<ellipse cx="200.69" cy="677.37" rx="2.47" ry="1.38" fill="#4c6a3c" transform="rotate(587.5 200.69 677.37)"/>
<ellipse cx="205.18" cy="676.84" rx="2.99" ry="1.67" fill="#3a5430" transform="rotate(661.8 205.18 676.84)"/>
<circle cx="203.00" cy="678.70" r="1.53" fill="#3a5430"/>
<path d="M236.20 680.20 Q235.00 686.97 236.16 690.36 Q237.31 693.74 236.81 697.13 Q236.31 700.51 237.03 703.90 Q237.75 707.29 236.82 710.67 Q235.89 714.06 236.25 717.44 Q236.61 720.83 236.41 724.21 L236.20 727.60" fill="none" stroke="#8e826e" stroke-width="0.8" stroke-linejoin="round" stroke-linecap="round"/>
<ellipse cx="232.85" cy="678.58" rx="2.42" ry="1.36" fill="#3a5430" transform="rotate(183.8 232.85 678.58)"/>
<ellipse cx="235.27" cy="677.23" rx="2.11" ry="1.18" fill="#4c6a3c" transform="rotate(251.5 235.27 677.23)"/>
<ellipse cx="239.27" cy="678.63" rx="2.22" ry="1.24" fill="#3a5430" transform="rotate(357.4 239.27 678.63)"/>
<ellipse cx="237.31" cy="680.33" rx="2.36" ry="1.32" fill="#4c6a3c" transform="rotate(430.1 237.31 680.33)"/>
<ellipse cx="234.15" cy="680.44" rx="2.79" ry="1.56" fill="#3a5430" transform="rotate(481.9 234.15 680.44)"/>
<circle cx="236.20" cy="678.70" r="1.53" fill="#3a5430"/>
<path d="M250.90 680.20 Q251.92 687.67 251.37 691.41 Q250.81 695.14 252.09 698.88 Q253.37 702.61 252.73 706.35 Q252.08 710.09 252.19 713.82 Q252.30 717.56 253.16 721.29 Q254.03 725.03 253.92 728.76 L253.80 732.50" fill="none" stroke="#8e826e" stroke-width="0.8" stroke-linejoin="round" stroke-linecap="round"/>
<ellipse cx="252.77" cy="676.71" rx="3.03" ry="1.69" fill="#3a5430" transform="rotate(296.4 252.77 676.71)"/>
<ellipse cx="254.83" cy="678.69" rx="2.84" ry="1.59" fill="#4c6a3c" transform="rotate(359.6 254.83 678.69)"/>
<ellipse cx="252.47" cy="680.39" rx="2.57" ry="1.44" fill="#3a5430" transform="rotate(423.9 252.47 680.39)"/>
<ellipse cx="247.75" cy="679.62" rx="2.60" ry="1.46" fill="#4c6a3c" transform="rotate(511.1 247.75 679.62)"/>
<ellipse cx="247.51" cy="677.76" rx="2.76" ry="1.55" fill="#3a5430" transform="rotate(567.7 247.51 677.76)"/>
<circle cx="250.90" cy="678.70" r="1.53" fill="#3a5430"/>
<path d="M260.70 679.20 Q259.83 684.86 260.90 687.69 Q261.97 690.51 262.46 693.34 Q262.95 696.17 262.21 699.00 Q261.48 701.83 262.23 704.66 Q262.97 707.49 263.81 710.31 Q264.66 713.14 264.13 715.97 L263.60 718.80" fill="none" stroke="#8e826e" stroke-width="0.8" stroke-linejoin="round" stroke-linecap="round"/>
<ellipse cx="257.16" cy="678.91" rx="3.04" ry="1.70" fill="#3a5430" transform="rotate(147.1 257.16 678.91)"/>
<ellipse cx="259.33" cy="676.15" rx="2.33" ry="1.30" fill="#4c6a3c" transform="rotate(245.0 259.33 676.15)"/>
<ellipse cx="262.07" cy="676.09" rx="2.41" ry="1.35" fill="#3a5430" transform="rotate(294.3 262.07 676.09)"/>
<ellipse cx="263.86" cy="678.72" rx="2.67" ry="1.50" fill="#4c6a3c" transform="rotate(391.5 263.86 678.72)"/>
<ellipse cx="260.77" cy="679.33" rx="2.22" ry="1.24" fill="#3a5430" transform="rotate(448.7 260.77 679.33)"/>
<circle cx="260.70" cy="677.70" r="1.53" fill="#3a5430"/>
<text transform="translate(60.60,770.30) scale(1,1.15)" text-anchor="middle" style="font-size:6.3px;font-family:'Liberation Serif';fill:#eeeeee">WT</text>
<text transform="translate(127.70,770.30) scale(1,1.15)" text-anchor="middle" style="font-size:6.3px;font-family:'Liberation Serif';fill:#eeeeee">Mutant</text>
<text transform="translate(190.40,770.30) scale(1,1.15)" text-anchor="middle" style="font-size:6.3px;font-family:'Liberation Serif';fill:#eeeeee"><tspan font-style="italic">PlARF2-OE</tspan></text>
<text transform="translate(253.20,770.30) scale(1,1.15)" text-anchor="middle" style="font-size:6.3px;font-family:'Liberation Serif';fill:#eeeeee"><tspan font-style="italic">PlARF2-FC</tspan></text>
<clipPath id="rc279664"><rect x="279.50" y="664.00" width="41.00" height="113.00"/></clipPath><g clip-path="url(#rc279664)">
<rect x="279.50" y="664.00" width="41.00" height="113.00" fill="#ebe8e8"/>
<rect x="279.50" y="664.00" width="4.10" height="113.00" fill="#d6d2d3"/>
<rect x="315.99" y="664.00" width="4.51" height="113.00" fill="#d6d2d3"/>
<line x1="281.55" y1="776.60" x2="292.62" y2="776.60" stroke="#aaa4a6" stroke-width="0.55"/>
<line x1="318.45" y1="776.60" x2="307.38" y2="776.60" stroke="#aaa4a6" stroke-width="0.55"/>
<line x1="281.55" y1="775.10" x2="287.29" y2="775.10" stroke="#aaa4a6" stroke-width="0.55"/>
<line x1="318.45" y1="775.10" x2="312.71" y2="775.10" stroke="#aaa4a6" stroke-width="0.55"/>
<line x1="281.55" y1="773.60" x2="287.29" y2="773.60" stroke="#aaa4a6" stroke-width="0.55"/>
<line x1="318.45" y1="773.60" x2="312.71" y2="773.60" stroke="#aaa4a6" stroke-width="0.55"/>
<line x1="281.55" y1="772.10" x2="287.29" y2="772.10" stroke="#aaa4a6" stroke-width="0.55"/>
<line x1="318.45" y1="772.10" x2="312.71" y2="772.10" stroke="#aaa4a6" stroke-width="0.55"/>
<line x1="281.55" y1="770.60" x2="287.29" y2="770.60" stroke="#aaa4a6" stroke-width="0.55"/>
<line x1="318.45" y1="770.60" x2="312.71" y2="770.60" stroke="#aaa4a6" stroke-width="0.55"/>
<line x1="281.55" y1="769.10" x2="290.16" y2="769.10" stroke="#aaa4a6" stroke-width="0.55"/>
<line x1="318.45" y1="769.10" x2="309.84" y2="769.10" stroke="#aaa4a6" stroke-width="0.55"/>
<line x1="281.55" y1="767.60" x2="287.29" y2="767.60" stroke="#aaa4a6" stroke-width="0.55"/>
<line x1="318.45" y1="767.60" x2="312.71" y2="767.60" stroke="#aaa4a6" stroke-width="0.55"/>
<line x1="281.55" y1="766.10" x2="287.29" y2="766.10" stroke="#aaa4a6" stroke-width="0.55"/>
<line x1="318.45" y1="766.10" x2="312.71" y2="766.10" stroke="#aaa4a6" stroke-width="0.55"/>
<line x1="281.55" y1="764.60" x2="287.29" y2="764.60" stroke="#aaa4a6" stroke-width="0.55"/>
<line x1="318.45" y1="764.60" x2="312.71" y2="764.60" stroke="#aaa4a6" stroke-width="0.55"/>
<line x1="281.55" y1="763.10" x2="287.29" y2="763.10" stroke="#aaa4a6" stroke-width="0.55"/>
<line x1="318.45" y1="763.10" x2="312.71" y2="763.10" stroke="#aaa4a6" stroke-width="0.55"/>
<line x1="281.55" y1="761.60" x2="292.62" y2="761.60" stroke="#aaa4a6" stroke-width="0.55"/>
<line x1="318.45" y1="761.60" x2="307.38" y2="761.60" stroke="#aaa4a6" stroke-width="0.55"/>
<line x1="281.55" y1="760.10" x2="287.29" y2="760.10" stroke="#aaa4a6" stroke-width="0.55"/>
<line x1="318.45" y1="760.10" x2="312.71" y2="760.10" stroke="#aaa4a6" stroke-width="0.55"/>
<line x1="281.55" y1="758.60" x2="287.29" y2="758.60" stroke="#aaa4a6" stroke-width="0.55"/>
<line x1="318.45" y1="758.60" x2="312.71" y2="758.60" stroke="#aaa4a6" stroke-width="0.55"/>
<line x1="281.55" y1="757.10" x2="287.29" y2="757.10" stroke="#aaa4a6" stroke-width="0.55"/>
<line x1="318.45" y1="757.10" x2="312.71" y2="757.10" stroke="#aaa4a6" stroke-width="0.55"/>
<line x1="281.55" y1="755.60" x2="287.29" y2="755.60" stroke="#aaa4a6" stroke-width="0.55"/>
<line x1="318.45" y1="755.60" x2="312.71" y2="755.60" stroke="#aaa4a6" stroke-width="0.55"/>
<line x1="281.55" y1="754.10" x2="290.16" y2="754.10" stroke="#aaa4a6" stroke-width="0.55"/>
<line x1="318.45" y1="754.10" x2="309.84" y2="754.10" stroke="#aaa4a6" stroke-width="0.55"/>
<line x1="281.55" y1="752.60" x2="287.29" y2="752.60" stroke="#aaa4a6" stroke-width="0.55"/>
<line x1="318.45" y1="752.60" x2="312.71" y2="752.60" stroke="#aaa4a6" stroke-width="0.55"/>
<line x1="281.55" y1="751.10" x2="287.29" y2="751.10" stroke="#aaa4a6" stroke-width="0.55"/>
<line x1="318.45" y1="751.10" x2="312.71" y2="751.10" stroke="#aaa4a6" stroke-width="0.55"/>
<line x1="281.55" y1="749.60" x2="287.29" y2="749.60" stroke="#aaa4a6" stroke-width="0.55"/>
<line x1="318.45" y1="749.60" x2="312.71" y2="749.60" stroke="#aaa4a6" stroke-width="0.55"/>
<line x1="281.55" y1="748.10" x2="287.29" y2="748.10" stroke="#aaa4a6" stroke-width="0.55"/>
<line x1="318.45" y1="748.10" x2="312.71" y2="748.10" stroke="#aaa4a6" stroke-width="0.55"/>
<line x1="281.55" y1="746.60" x2="292.62" y2="746.60" stroke="#aaa4a6" stroke-width="0.55"/>
<line x1="318.45" y1="746.60" x2="307.38" y2="746.60" stroke="#aaa4a6" stroke-width="0.55"/>
<line x1="281.55" y1="745.10" x2="287.29" y2="745.10" stroke="#aaa4a6" stroke-width="0.55"/>
<line x1="318.45" y1="745.10" x2="312.71" y2="745.10" stroke="#aaa4a6" stroke-width="0.55"/>
<line x1="281.55" y1="743.60" x2="287.29" y2="743.60" stroke="#aaa4a6" stroke-width="0.55"/>
<line x1="318.45" y1="743.60" x2="312.71" y2="743.60" stroke="#aaa4a6" stroke-width="0.55"/>
<line x1="281.55" y1="742.10" x2="287.29" y2="742.10" stroke="#aaa4a6" stroke-width="0.55"/>
<line x1="318.45" y1="742.10" x2="312.71" y2="742.10" stroke="#aaa4a6" stroke-width="0.55"/>
<line x1="281.55" y1="740.60" x2="287.29" y2="740.60" stroke="#aaa4a6" stroke-width="0.55"/>
<line x1="318.45" y1="740.60" x2="312.71" y2="740.60" stroke="#aaa4a6" stroke-width="0.55"/>
<line x1="281.55" y1="739.10" x2="290.16" y2="739.10" stroke="#aaa4a6" stroke-width="0.55"/>
<line x1="318.45" y1="739.10" x2="309.84" y2="739.10" stroke="#aaa4a6" stroke-width="0.55"/>
<line x1="281.55" y1="737.60" x2="287.29" y2="737.60" stroke="#aaa4a6" stroke-width="0.55"/>
<line x1="318.45" y1="737.60" x2="312.71" y2="737.60" stroke="#aaa4a6" stroke-width="0.55"/>
<line x1="281.55" y1="736.10" x2="287.29" y2="736.10" stroke="#aaa4a6" stroke-width="0.55"/>
<line x1="318.45" y1="736.10" x2="312.71" y2="736.10" stroke="#aaa4a6" stroke-width="0.55"/>
<line x1="281.55" y1="734.60" x2="287.29" y2="734.60" stroke="#aaa4a6" stroke-width="0.55"/>
<line x1="318.45" y1="734.60" x2="312.71" y2="734.60" stroke="#aaa4a6" stroke-width="0.55"/>
<line x1="281.55" y1="733.10" x2="287.29" y2="733.10" stroke="#aaa4a6" stroke-width="0.55"/>
<line x1="318.45" y1="733.10" x2="312.71" y2="733.10" stroke="#aaa4a6" stroke-width="0.55"/>
<line x1="281.55" y1="731.60" x2="292.62" y2="731.60" stroke="#aaa4a6" stroke-width="0.55"/>
<line x1="318.45" y1="731.60" x2="307.38" y2="731.60" stroke="#aaa4a6" stroke-width="0.55"/>
<line x1="281.55" y1="730.10" x2="287.29" y2="730.10" stroke="#aaa4a6" stroke-width="0.55"/>
<line x1="318.45" y1="730.10" x2="312.71" y2="730.10" stroke="#aaa4a6" stroke-width="0.55"/>
<line x1="281.55" y1="728.60" x2="287.29" y2="728.60" stroke="#aaa4a6" stroke-width="0.55"/>
<line x1="318.45" y1="728.60" x2="312.71" y2="728.60" stroke="#aaa4a6" stroke-width="0.55"/>
<line x1="281.55" y1="727.10" x2="287.29" y2="727.10" stroke="#aaa4a6" stroke-width="0.55"/>
<line x1="318.45" y1="727.10" x2="312.71" y2="727.10" stroke="#aaa4a6" stroke-width="0.55"/>
<line x1="281.55" y1="725.60" x2="287.29" y2="725.60" stroke="#aaa4a6" stroke-width="0.55"/>
<line x1="318.45" y1="725.60" x2="312.71" y2="725.60" stroke="#aaa4a6" stroke-width="0.55"/>
<line x1="281.55" y1="724.10" x2="290.16" y2="724.10" stroke="#aaa4a6" stroke-width="0.55"/>
<line x1="318.45" y1="724.10" x2="309.84" y2="724.10" stroke="#aaa4a6" stroke-width="0.55"/>
<line x1="281.55" y1="722.60" x2="287.29" y2="722.60" stroke="#aaa4a6" stroke-width="0.55"/>
<line x1="318.45" y1="722.60" x2="312.71" y2="722.60" stroke="#aaa4a6" stroke-width="0.55"/>
<line x1="281.55" y1="721.10" x2="287.29" y2="721.10" stroke="#aaa4a6" stroke-width="0.55"/>
<line x1="318.45" y1="721.10" x2="312.71" y2="721.10" stroke="#aaa4a6" stroke-width="0.55"/>
<line x1="281.55" y1="719.60" x2="287.29" y2="719.60" stroke="#aaa4a6" stroke-width="0.55"/>
<line x1="318.45" y1="719.60" x2="312.71" y2="719.60" stroke="#aaa4a6" stroke-width="0.55"/>
<line x1="281.55" y1="718.10" x2="287.29" y2="718.10" stroke="#aaa4a6" stroke-width="0.55"/>
<line x1="318.45" y1="718.10" x2="312.71" y2="718.10" stroke="#aaa4a6" stroke-width="0.55"/>
<line x1="281.55" y1="716.60" x2="292.62" y2="716.60" stroke="#aaa4a6" stroke-width="0.55"/>
<line x1="318.45" y1="716.60" x2="307.38" y2="716.60" stroke="#aaa4a6" stroke-width="0.55"/>
<line x1="281.55" y1="715.10" x2="287.29" y2="715.10" stroke="#aaa4a6" stroke-width="0.55"/>
<line x1="318.45" y1="715.10" x2="312.71" y2="715.10" stroke="#aaa4a6" stroke-width="0.55"/>
<line x1="281.55" y1="713.60" x2="287.29" y2="713.60" stroke="#aaa4a6" stroke-width="0.55"/>
<line x1="318.45" y1="713.60" x2="312.71" y2="713.60" stroke="#aaa4a6" stroke-width="0.55"/>
<line x1="281.55" y1="712.10" x2="287.29" y2="712.10" stroke="#aaa4a6" stroke-width="0.55"/>
<line x1="318.45" y1="712.10" x2="312.71" y2="712.10" stroke="#aaa4a6" stroke-width="0.55"/>
<line x1="281.55" y1="710.60" x2="287.29" y2="710.60" stroke="#aaa4a6" stroke-width="0.55"/>
<line x1="318.45" y1="710.60" x2="312.71" y2="710.60" stroke="#aaa4a6" stroke-width="0.55"/>
<line x1="281.55" y1="709.10" x2="290.16" y2="709.10" stroke="#aaa4a6" stroke-width="0.55"/>
<line x1="318.45" y1="709.10" x2="309.84" y2="709.10" stroke="#aaa4a6" stroke-width="0.55"/>
<line x1="281.55" y1="707.60" x2="287.29" y2="707.60" stroke="#aaa4a6" stroke-width="0.55"/>
<line x1="318.45" y1="707.60" x2="312.71" y2="707.60" stroke="#aaa4a6" stroke-width="0.55"/>
<line x1="281.55" y1="706.10" x2="287.29" y2="706.10" stroke="#aaa4a6" stroke-width="0.55"/>
<line x1="318.45" y1="706.10" x2="312.71" y2="706.10" stroke="#aaa4a6" stroke-width="0.55"/>
<line x1="281.55" y1="704.60" x2="287.29" y2="704.60" stroke="#aaa4a6" stroke-width="0.55"/>
<line x1="318.45" y1="704.60" x2="312.71" y2="704.60" stroke="#aaa4a6" stroke-width="0.55"/>
<line x1="281.55" y1="703.10" x2="287.29" y2="703.10" stroke="#aaa4a6" stroke-width="0.55"/>
<line x1="318.45" y1="703.10" x2="312.71" y2="703.10" stroke="#aaa4a6" stroke-width="0.55"/>
<line x1="281.55" y1="701.60" x2="292.62" y2="701.60" stroke="#aaa4a6" stroke-width="0.55"/>
<line x1="318.45" y1="701.60" x2="307.38" y2="701.60" stroke="#aaa4a6" stroke-width="0.55"/>
<line x1="281.55" y1="700.10" x2="287.29" y2="700.10" stroke="#aaa4a6" stroke-width="0.55"/>
<line x1="318.45" y1="700.10" x2="312.71" y2="700.10" stroke="#aaa4a6" stroke-width="0.55"/>
<line x1="281.55" y1="698.60" x2="287.29" y2="698.60" stroke="#aaa4a6" stroke-width="0.55"/>
<line x1="318.45" y1="698.60" x2="312.71" y2="698.60" stroke="#aaa4a6" stroke-width="0.55"/>
<line x1="281.55" y1="697.10" x2="287.29" y2="697.10" stroke="#aaa4a6" stroke-width="0.55"/>
<line x1="318.45" y1="697.10" x2="312.71" y2="697.10" stroke="#aaa4a6" stroke-width="0.55"/>
<line x1="281.55" y1="695.60" x2="287.29" y2="695.60" stroke="#aaa4a6" stroke-width="0.55"/>
<line x1="318.45" y1="695.60" x2="312.71" y2="695.60" stroke="#aaa4a6" stroke-width="0.55"/>
<line x1="281.55" y1="694.10" x2="290.16" y2="694.10" stroke="#aaa4a6" stroke-width="0.55"/>
<line x1="318.45" y1="694.10" x2="309.84" y2="694.10" stroke="#aaa4a6" stroke-width="0.55"/>
<line x1="281.55" y1="692.60" x2="287.29" y2="692.60" stroke="#aaa4a6" stroke-width="0.55"/>
<line x1="318.45" y1="692.60" x2="312.71" y2="692.60" stroke="#aaa4a6" stroke-width="0.55"/>
<line x1="281.55" y1="691.10" x2="287.29" y2="691.10" stroke="#aaa4a6" stroke-width="0.55"/>
<line x1="318.45" y1="691.10" x2="312.71" y2="691.10" stroke="#aaa4a6" stroke-width="0.55"/>
<line x1="281.55" y1="689.60" x2="287.29" y2="689.60" stroke="#aaa4a6" stroke-width="0.55"/>
<line x1="318.45" y1="689.60" x2="312.71" y2="689.60" stroke="#aaa4a6" stroke-width="0.55"/>
<line x1="281.55" y1="688.10" x2="287.29" y2="688.10" stroke="#aaa4a6" stroke-width="0.55"/>
<line x1="318.45" y1="688.10" x2="312.71" y2="688.10" stroke="#aaa4a6" stroke-width="0.55"/>
<line x1="281.55" y1="686.60" x2="292.62" y2="686.60" stroke="#aaa4a6" stroke-width="0.55"/>
<line x1="318.45" y1="686.60" x2="307.38" y2="686.60" stroke="#aaa4a6" stroke-width="0.55"/>
<line x1="281.55" y1="685.10" x2="287.29" y2="685.10" stroke="#aaa4a6" stroke-width="0.55"/>
<line x1="318.45" y1="685.10" x2="312.71" y2="685.10" stroke="#aaa4a6" stroke-width="0.55"/>
<line x1="281.55" y1="683.60" x2="287.29" y2="683.60" stroke="#aaa4a6" stroke-width="0.55"/>
<line x1="318.45" y1="683.60" x2="312.71" y2="683.60" stroke="#aaa4a6" stroke-width="0.55"/>
<line x1="281.55" y1="682.10" x2="287.29" y2="682.10" stroke="#aaa4a6" stroke-width="0.55"/>
<line x1="318.45" y1="682.10" x2="312.71" y2="682.10" stroke="#aaa4a6" stroke-width="0.55"/>
<line x1="281.55" y1="680.60" x2="287.29" y2="680.60" stroke="#aaa4a6" stroke-width="0.55"/>
<line x1="318.45" y1="680.60" x2="312.71" y2="680.60" stroke="#aaa4a6" stroke-width="0.55"/>
<line x1="281.55" y1="679.10" x2="290.16" y2="679.10" stroke="#aaa4a6" stroke-width="0.55"/>
<line x1="318.45" y1="679.10" x2="309.84" y2="679.10" stroke="#aaa4a6" stroke-width="0.55"/>
<line x1="281.55" y1="677.60" x2="287.29" y2="677.60" stroke="#aaa4a6" stroke-width="0.55"/>
<line x1="318.45" y1="677.60" x2="312.71" y2="677.60" stroke="#aaa4a6" stroke-width="0.55"/>
<line x1="281.55" y1="676.10" x2="287.29" y2="676.10" stroke="#aaa4a6" stroke-width="0.55"/>
<line x1="318.45" y1="676.10" x2="312.71" y2="676.10" stroke="#aaa4a6" stroke-width="0.55"/>
<line x1="281.55" y1="674.60" x2="287.29" y2="674.60" stroke="#aaa4a6" stroke-width="0.55"/>
<line x1="318.45" y1="674.60" x2="312.71" y2="674.60" stroke="#aaa4a6" stroke-width="0.55"/>
<line x1="281.55" y1="673.10" x2="287.29" y2="673.10" stroke="#aaa4a6" stroke-width="0.55"/>
<line x1="318.45" y1="673.10" x2="312.71" y2="673.10" stroke="#aaa4a6" stroke-width="0.55"/>
<line x1="281.55" y1="671.60" x2="292.62" y2="671.60" stroke="#aaa4a6" stroke-width="0.55"/>
<line x1="318.45" y1="671.60" x2="307.38" y2="671.60" stroke="#aaa4a6" stroke-width="0.55"/>
<line x1="281.55" y1="670.10" x2="287.29" y2="670.10" stroke="#aaa4a6" stroke-width="0.55"/>
<line x1="318.45" y1="670.10" x2="312.71" y2="670.10" stroke="#aaa4a6" stroke-width="0.55"/>
<line x1="281.55" y1="668.60" x2="287.29" y2="668.60" stroke="#aaa4a6" stroke-width="0.55"/>
<line x1="318.45" y1="668.60" x2="312.71" y2="668.60" stroke="#aaa4a6" stroke-width="0.55"/>
<line x1="281.55" y1="667.10" x2="287.29" y2="667.10" stroke="#aaa4a6" stroke-width="0.55"/>
<line x1="318.45" y1="667.10" x2="312.71" y2="667.10" stroke="#aaa4a6" stroke-width="0.55"/>
<line x1="281.55" y1="665.60" x2="287.29" y2="665.60" stroke="#aaa4a6" stroke-width="0.55"/>
<line x1="318.45" y1="665.60" x2="312.71" y2="665.60" stroke="#aaa4a6" stroke-width="0.55"/>
<text transform="translate(300.50,777.20) rotate(-90) scale(0.8,1)" text-anchor="middle" dy="3.96" style="font-size:11.0px;font-family:'Liberation Sans',sans-serif;font-weight:normal;fill:#48425a">3</text>
<text transform="translate(300.50,762.20) rotate(-90) scale(0.8,1)" text-anchor="middle" dy="3.96" style="font-size:11.0px;font-family:'Liberation Sans',sans-serif;font-weight:normal;fill:#48425a">4</text>
<text transform="translate(300.50,747.20) rotate(-90) scale(0.8,1)" text-anchor="middle" dy="3.96" style="font-size:11.0px;font-family:'Liberation Sans',sans-serif;font-weight:normal;fill:#48425a">5</text>
<text transform="translate(300.50,732.20) rotate(-90) scale(0.8,1)" text-anchor="middle" dy="3.96" style="font-size:11.0px;font-family:'Liberation Sans',sans-serif;font-weight:normal;fill:#48425a">6</text>
<text transform="translate(300.50,717.20) rotate(-90) scale(0.8,1)" text-anchor="middle" dy="3.96" style="font-size:11.0px;font-family:'Liberation Sans',sans-serif;font-weight:normal;fill:#48425a">7</text>
<text transform="translate(300.50,702.20) rotate(-90) scale(0.8,1)" text-anchor="middle" dy="3.96" style="font-size:11.0px;font-family:'Liberation Sans',sans-serif;font-weight:normal;fill:#48425a">8</text>
<text transform="translate(300.50,687.20) rotate(-90) scale(0.8,1)" text-anchor="middle" dy="3.96" style="font-size:11.0px;font-family:'Liberation Sans',sans-serif;font-weight:normal;fill:#48425a">9</text>
<text transform="translate(300.50,672.20) rotate(-90) scale(0.8,1)" text-anchor="middle" dy="3.96" style="font-size:11.0px;font-family:'Liberation Sans',sans-serif;font-weight:bold;fill:#d82c50">10</text>
</g>
<rect x="384.00" y="664.00" width="62.90" height="113.00" fill="#585752"/>
<rect x="448.30" y="664.00" width="63.00" height="113.00" fill="#54534e"/>
<rect x="513.00" y="664.00" width="63.20" height="113.00" fill="#40403e"/>
<rect x="578.00" y="664.00" width="59.00" height="113.00" fill="url(#g1)"/>
<rect x="446.90" y="664.00" width="1.40" height="113.00" fill="#d0d0d0"/>
<rect x="511.30" y="664.00" width="1.70" height="113.00" fill="#d0d0d0"/>
<rect x="576.20" y="664.00" width="1.80" height="113.00" fill="#d0d0d0"/>
<rect x="384.00" y="664.00" width="253.00" height="0.8" fill="#ffffff" opacity="0.35"/>
<path d="M400.60 674.30 Q401.30 682.47 401.64 686.56 Q401.98 690.64 402.25 694.73 Q402.51 698.81 402.26 702.90 Q402.01 706.99 402.42 711.07 Q402.83 715.16 403.35 719.24 Q403.87 723.33 404.18 727.41 L404.50 731.50" fill="none" stroke="#b0a898" stroke-width="0.8" stroke-linejoin="round" stroke-linecap="round"/>
<ellipse cx="399.06" cy="674.02" rx="2.12" ry="1.19" fill="#a6d04a" transform="rotate(128.2 399.06 674.02)"/>
<ellipse cx="398.09" cy="672.24" rx="2.27" ry="1.27" fill="#8cc036" transform="rotate(199.6 398.09 672.24)"/>
<ellipse cx="400.95" cy="671.48" rx="1.82" ry="1.02" fill="#a6d04a" transform="rotate(279.3 400.95 671.48)"/>
<ellipse cx="402.92" cy="672.43" rx="2.04" ry="1.14" fill="#8cc036" transform="rotate(345.7 402.92 672.43)"/>
<ellipse cx="400.77" cy="674.38" rx="2.16" ry="1.21" fill="#a6d04a" transform="rotate(446.0 400.77 674.38)"/>
<circle cx="400.60" cy="672.80" r="1.26" fill="#a6d04a"/>
<path d="M425.10 674.30 Q424.11 682.47 423.85 686.56 Q423.59 690.64 423.78 694.73 Q423.98 698.81 423.40 702.90 Q422.82 706.99 422.35 711.07 Q421.88 715.16 420.97 719.24 Q420.06 723.33 420.13 727.41 L420.20 731.50" fill="none" stroke="#b0a898" stroke-width="0.8" stroke-linejoin="round" stroke-linecap="round"/>
<ellipse cx="422.40" cy="672.21" rx="2.44" ry="1.37" fill="#a6d04a" transform="rotate(199.3 422.40 672.21)"/>
<ellipse cx="423.87" cy="671.27" rx="2.34" ry="1.31" fill="#8cc036" transform="rotate(243.4 423.87 671.27)"/>
<ellipse cx="427.34" cy="672.64" rx="1.92" ry="1.08" fill="#a6d04a" transform="rotate(353.5 427.34 672.64)"/>
<ellipse cx="427.45" cy="673.79" rx="2.42" ry="1.35" fill="#8cc036" transform="rotate(394.1 427.45 673.79)"/>
<ellipse cx="424.46" cy="674.28" rx="2.10" ry="1.17" fill="#a6d04a" transform="rotate(465.1 424.46 674.28)"/>
<circle cx="425.10" cy="672.80" r="1.26" fill="#a6d04a"/>
<path d="M442.30 674.90 Q441.00 682.70 440.70 686.60 Q440.40 690.50 440.58 694.40 Q440.76 698.30 440.17 702.20 Q439.59 706.10 439.04 710.00 Q438.50 713.90 437.41 717.80 Q436.33 721.70 436.37 725.60 L436.40 729.50" fill="none" stroke="#b0a898" stroke-width="0.8" stroke-linejoin="round" stroke-linecap="round"/>
<ellipse cx="442.60" cy="671.82" rx="2.17" ry="1.22" fill="#a6d04a" transform="rotate(276.8 442.60 671.82)"/>
<ellipse cx="444.85" cy="673.24" rx="2.18" ry="1.22" fill="#8cc036" transform="rotate(354.3 444.85 673.24)"/>
<ellipse cx="444.28" cy="674.10" rx="1.94" ry="1.09" fill="#a6d04a" transform="rotate(389.6 444.28 674.10)"/>
<ellipse cx="441.49" cy="674.61" rx="1.79" ry="1.00" fill="#8cc036" transform="rotate(472.8 441.49 674.61)"/>
<ellipse cx="439.64" cy="673.11" rx="2.30" ry="1.29" fill="#a6d04a" transform="rotate(549.9 439.64 673.11)"/>
<circle cx="442.30" cy="673.40" r="1.26" fill="#a6d04a"/>
<path d="M467.10 680.80 Q468.44 691.26 467.89 696.49 Q467.34 701.71 467.99 706.94 Q468.65 712.17 468.29 717.40 Q467.94 722.63 468.12 727.86 Q468.30 733.09 468.70 738.31 Q469.10 743.54 469.60 748.77 L470.10 754.00" fill="none" stroke="#b0a898" stroke-width="0.8" stroke-linejoin="round" stroke-linecap="round"/>
<ellipse cx="465.34" cy="678.08" rx="2.24" ry="1.25" fill="#a6d04a" transform="rotate(227.9 465.34 678.08)"/>
<ellipse cx="467.05" cy="677.96" rx="1.82" ry="1.02" fill="#8cc036" transform="rotate(268.6 467.05 677.96)"/>
<ellipse cx="469.24" cy="678.99" rx="1.87" ry="1.05" fill="#a6d04a" transform="rotate(346.9 469.24 678.99)"/>
<ellipse cx="469.14" cy="680.55" rx="2.44" ry="1.37" fill="#8cc036" transform="rotate(404.4 469.14 680.55)"/>
<ellipse cx="464.65" cy="680.13" rx="2.37" ry="1.33" fill="#a6d04a" transform="rotate(511.6 464.65 680.13)"/>
<circle cx="467.10" cy="679.30" r="1.26" fill="#a6d04a"/>
<path d="M477.50 678.80 Q478.63 688.14 479.80 692.81 Q480.96 697.49 481.58 702.16 Q482.19 706.83 483.22 711.50 Q484.25 716.17 484.49 720.84 Q484.73 725.51 485.86 730.19 Q486.99 734.86 487.84 739.53 L488.70 744.20" fill="none" stroke="#b0a898" stroke-width="0.8" stroke-linejoin="round" stroke-linecap="round"/>
<ellipse cx="477.13" cy="675.51" rx="2.46" ry="1.38" fill="#a6d04a" transform="rotate(262.6 477.13 675.51)"/>
<ellipse cx="479.96" cy="677.22" rx="2.10" ry="1.18" fill="#8cc036" transform="rotate(356.9 479.96 677.22)"/>
<ellipse cx="479.27" cy="678.48" rx="2.21" ry="1.24" fill="#a6d04a" transform="rotate(406.9 479.27 678.48)"/>
<ellipse cx="476.41" cy="678.94" rx="2.42" ry="1.36" fill="#8cc036" transform="rotate(472.5 476.41 678.94)"/>
<ellipse cx="475.71" cy="676.68" rx="1.75" ry="0.98" fill="#a6d04a" transform="rotate(569.1 475.71 676.68)"/>
<circle cx="477.50" cy="677.30" r="1.26" fill="#a6d04a"/>
<path d="M494.50 679.20 Q493.99 688.63 494.37 693.34 Q494.75 698.06 494.72 702.77 Q494.68 707.49 495.73 712.20 Q496.78 716.91 496.22 721.63 Q495.65 726.34 496.19 731.06 Q496.73 735.77 496.92 740.49 L497.10 745.20" fill="none" stroke="#b0a898" stroke-width="0.8" stroke-linejoin="round" stroke-linecap="round"/>
<ellipse cx="496.43" cy="677.21" rx="1.77" ry="0.99" fill="#a6d04a" transform="rotate(338.0 496.43 677.21)"/>
<ellipse cx="496.61" cy="678.74" rx="2.29" ry="1.28" fill="#8cc036" transform="rotate(398.3 496.61 678.74)"/>
<ellipse cx="493.12" cy="678.72" rx="1.83" ry="1.02" fill="#a6d04a" transform="rotate(490.2 493.12 678.72)"/>
<ellipse cx="492.33" cy="677.84" rx="1.86" ry="1.04" fill="#8cc036" transform="rotate(534.1 492.33 677.84)"/>
<ellipse cx="493.77" cy="676.41" rx="1.86" ry="1.04" fill="#a6d04a" transform="rotate(610.4 493.77 676.41)"/>
<circle cx="494.50" cy="677.70" r="1.26" fill="#a6d04a"/>
<path d="M537.40 676.30 Q537.84 682.09 537.47 684.98 Q537.09 687.87 536.82 690.76 Q536.56 693.66 536.14 696.55 Q535.73 699.44 535.46 702.34 Q535.18 705.23 535.84 708.12 Q536.49 711.01 536.00 713.91 L535.50 716.80" fill="none" stroke="#b0a898" stroke-width="0.8" stroke-linejoin="round" stroke-linecap="round"/>
<ellipse cx="539.54" cy="674.81" rx="1.83" ry="1.02" fill="#a6d04a" transform="rotate(0.4 539.54 674.81)"/>
<ellipse cx="537.42" cy="676.53" rx="2.36" ry="1.32" fill="#8cc036" transform="rotate(89.5 537.42 676.53)"/>
<ellipse cx="535.44" cy="675.14" rx="1.74" ry="0.97" fill="#a6d04a" transform="rotate(164.5 535.44 675.14)"/>
<ellipse cx="535.53" cy="674.06" rx="1.89" ry="1.06" fill="#8cc036" transform="rotate(212.2 535.53 674.06)"/>
<ellipse cx="538.07" cy="673.37" rx="2.03" ry="1.14" fill="#a6d04a" transform="rotate(286.3 538.07 673.37)"/>
<circle cx="537.40" cy="674.80" r="1.26" fill="#a6d04a"/>
<path d="M549.70 678.80 Q549.00 684.79 549.16 687.78 Q549.31 690.77 549.65 693.76 Q549.99 696.76 550.19 699.75 Q550.39 702.74 550.34 705.74 Q550.29 708.73 550.49 711.72 Q550.69 714.71 551.20 717.71 L551.70 720.70" fill="none" stroke="#b0a898" stroke-width="0.8" stroke-linejoin="round" stroke-linecap="round"/>
<ellipse cx="549.08" cy="678.73" rx="2.01" ry="1.13" fill="#a6d04a" transform="rotate(105.2 549.08 678.73)"/>
<ellipse cx="548.08" cy="676.58" rx="1.69" ry="0.95" fill="#8cc036" transform="rotate(215.3 548.08 676.58)"/>
<ellipse cx="548.70" cy="675.99" rx="1.98" ry="1.11" fill="#a6d04a" transform="rotate(244.6 548.70 675.99)"/>
<ellipse cx="552.13" cy="676.71" rx="2.22" ry="1.25" fill="#8cc036" transform="rotate(338.7 552.13 676.71)"/>
<ellipse cx="551.38" cy="678.39" rx="2.07" ry="1.16" fill="#a6d04a" transform="rotate(406.1 551.38 678.39)"/>
<circle cx="549.70" cy="677.30" r="1.26" fill="#a6d04a"/>
<path d="M567.30 679.20 Q567.95 686.26 568.18 689.79 Q568.41 693.31 567.56 696.84 Q566.71 700.37 567.18 703.90 Q567.66 707.43 567.76 710.96 Q567.87 714.49 567.50 718.01 Q567.13 721.54 567.41 725.07 L567.70 728.60" fill="none" stroke="#b0a898" stroke-width="0.8" stroke-linejoin="round" stroke-linecap="round"/>
<ellipse cx="569.91" cy="677.98" rx="2.26" ry="1.26" fill="#a6d04a" transform="rotate(9.6 569.91 677.98)"/>
<ellipse cx="566.62" cy="679.21" rx="2.14" ry="1.20" fill="#8cc036" transform="rotate(105.8 566.62 679.21)"/>
<ellipse cx="564.79" cy="677.99" rx="2.18" ry="1.22" fill="#a6d04a" transform="rotate(169.5 564.79 677.99)"/>
<ellipse cx="566.37" cy="676.21" rx="2.18" ry="1.22" fill="#8cc036" transform="rotate(248.6 566.37 676.21)"/>
<ellipse cx="568.31" cy="676.37" rx="2.01" ry="1.13" fill="#a6d04a" transform="rotate(295.2 568.31 676.37)"/>
<circle cx="567.30" cy="677.70" r="1.26" fill="#a6d04a"/>
<path d="M593.20 681.10 Q593.22 688.44 592.83 692.11 Q592.44 695.79 592.53 699.46 Q592.63 703.13 592.78 706.80 Q592.94 710.47 592.62 714.14 Q592.31 717.81 593.09 721.49 Q593.87 725.16 593.54 728.83 L593.20 732.50" fill="none" stroke="#b0a898" stroke-width="0.8" stroke-linejoin="round" stroke-linecap="round"/>
<ellipse cx="590.74" cy="679.58" rx="2.10" ry="1.18" fill="#a6d04a" transform="rotate(180.8 590.74 679.58)"/>
<ellipse cx="592.53" cy="677.98" rx="2.28" ry="1.28" fill="#8cc036" transform="rotate(255.6 592.53 677.98)"/>
<ellipse cx="595.01" cy="679.05" rx="1.72" ry="0.96" fill="#a6d04a" transform="rotate(334.1 595.01 679.05)"/>
<ellipse cx="595.06" cy="680.21" rx="1.79" ry="1.00" fill="#8cc036" transform="rotate(387.6 595.06 680.21)"/>
<ellipse cx="592.73" cy="681.26" rx="2.30" ry="1.29" fill="#a6d04a" transform="rotate(460.1 592.73 681.26)"/>
<circle cx="593.20" cy="679.60" r="1.26" fill="#a6d04a"/>
<path d="M607.80 679.20 Q607.71 686.94 607.50 690.81 Q607.29 694.69 607.86 698.56 Q608.43 702.43 608.33 706.30 Q608.24 710.17 608.64 714.04 Q609.04 717.91 609.28 721.79 Q609.51 725.66 609.16 729.53 L608.80 733.40" fill="none" stroke="#b0a898" stroke-width="0.8" stroke-linejoin="round" stroke-linecap="round"/>
<ellipse cx="607.53" cy="679.35" rx="2.26" ry="1.27" fill="#a6d04a" transform="rotate(95.9 607.53 679.35)"/>
<ellipse cx="605.40" cy="678.31" rx="2.21" ry="1.24" fill="#8cc036" transform="rotate(158.0 605.40 678.31)"/>
<ellipse cx="606.81" cy="676.47" rx="1.88" ry="1.05" fill="#a6d04a" transform="rotate(243.4 606.81 676.47)"/>
<ellipse cx="609.58" cy="676.61" rx="2.13" ry="1.19" fill="#8cc036" transform="rotate(315.6 609.58 676.61)"/>
<ellipse cx="609.99" cy="678.53" rx="2.18" ry="1.22" fill="#a6d04a" transform="rotate(391.1 609.99 678.53)"/>
<circle cx="607.80" cy="677.70" r="1.26" fill="#a6d04a"/>
<path d="M624.10 683.10 Q624.85 690.57 624.35 694.31 Q623.85 698.04 624.73 701.78 Q625.61 705.51 625.46 709.25 Q625.31 712.99 625.09 716.72 Q624.86 720.46 625.76 724.19 Q626.66 727.93 626.33 731.66 L626.00 735.40" fill="none" stroke="#b0a898" stroke-width="0.8" stroke-linejoin="round" stroke-linecap="round"/>
<ellipse cx="622.67" cy="682.98" rx="2.24" ry="1.25" fill="#a6d04a" transform="rotate(123.0 622.67 682.98)"/>
<ellipse cx="622.26" cy="680.79" rx="1.92" ry="1.07" fill="#8cc036" transform="rotate(215.0 622.26 680.79)"/>
<ellipse cx="625.26" cy="680.02" rx="2.37" ry="1.33" fill="#a6d04a" transform="rotate(294.6 625.26 680.02)"/>
<ellipse cx="626.56" cy="680.97" rx="2.27" ry="1.27" fill="#8cc036" transform="rotate(337.6 626.56 680.97)"/>
<ellipse cx="625.94" cy="683.04" rx="2.51" ry="1.41" fill="#a6d04a" transform="rotate(411.4 625.94 683.04)"/>
<circle cx="624.10" cy="681.60" r="1.26" fill="#a6d04a"/>
<text transform="translate(415.20,770.30) scale(1,1.15)" text-anchor="middle" style="font-size:6.4px;font-family:'Liberation Serif';fill:#eeeeee">WT</text>
<text transform="translate(482.50,770.30) scale(1,1.15)" text-anchor="middle" style="font-size:6.4px;font-family:'Liberation Serif';fill:#eeeeee">Mutant</text>
<text transform="translate(545.50,770.30) scale(1,1.15)" text-anchor="middle" style="font-size:6.4px;font-family:'Liberation Serif';fill:#eeeeee"><tspan font-style="italic">PlARF2-OE</tspan></text>
<text transform="translate(608.40,770.30) scale(1,1.15)" text-anchor="middle" style="font-size:6.4px;font-family:'Liberation Serif';fill:#eeeeee"><tspan font-style="italic">PlARF2-FC</tspan></text>
<clipPath id="rc637664"><rect x="637.00" y="664.00" width="42.00" height="113.00"/></clipPath><g clip-path="url(#rc637664)">
<rect x="637.00" y="664.00" width="42.00" height="113.00" fill="#ebe8e8"/>
<rect x="637.00" y="664.00" width="4.20" height="113.00" fill="#d6d2d3"/>
<rect x="674.38" y="664.00" width="4.62" height="113.00" fill="#d6d2d3"/>
<line x1="639.10" y1="776.60" x2="650.44" y2="776.60" stroke="#aaa4a6" stroke-width="0.55"/>
<line x1="676.90" y1="776.60" x2="665.56" y2="776.60" stroke="#aaa4a6" stroke-width="0.55"/>
<line x1="639.10" y1="775.10" x2="644.98" y2="775.10" stroke="#aaa4a6" stroke-width="0.55"/>
<line x1="676.90" y1="775.10" x2="671.02" y2="775.10" stroke="#aaa4a6" stroke-width="0.55"/>
<line x1="639.10" y1="773.60" x2="644.98" y2="773.60" stroke="#aaa4a6" stroke-width="0.55"/>
<line x1="676.90" y1="773.60" x2="671.02" y2="773.60" stroke="#aaa4a6" stroke-width="0.55"/>
<line x1="639.10" y1="772.10" x2="644.98" y2="772.10" stroke="#aaa4a6" stroke-width="0.55"/>
<line x1="676.90" y1="772.10" x2="671.02" y2="772.10" stroke="#aaa4a6" stroke-width="0.55"/>
<line x1="639.10" y1="770.60" x2="644.98" y2="770.60" stroke="#aaa4a6" stroke-width="0.55"/>
<line x1="676.90" y1="770.60" x2="671.02" y2="770.60" stroke="#aaa4a6" stroke-width="0.55"/>
<line x1="639.10" y1="769.10" x2="647.92" y2="769.10" stroke="#aaa4a6" stroke-width="0.55"/>
<line x1="676.90" y1="769.10" x2="668.08" y2="769.10" stroke="#aaa4a6" stroke-width="0.55"/>
<line x1="639.10" y1="767.60" x2="644.98" y2="767.60" stroke="#aaa4a6" stroke-width="0.55"/>
<line x1="676.90" y1="767.60" x2="671.02" y2="767.60" stroke="#aaa4a6" stroke-width="0.55"/>
<line x1="639.10" y1="766.10" x2="644.98" y2="766.10" stroke="#aaa4a6" stroke-width="0.55"/>
<line x1="676.90" y1="766.10" x2="671.02" y2="766.10" stroke="#aaa4a6" stroke-width="0.55"/>
<line x1="639.10" y1="764.60" x2="644.98" y2="764.60" stroke="#aaa4a6" stroke-width="0.55"/>
<line x1="676.90" y1="764.60" x2="671.02" y2="764.60" stroke="#aaa4a6" stroke-width="0.55"/>
<line x1="639.10" y1="763.10" x2="644.98" y2="763.10" stroke="#aaa4a6" stroke-width="0.55"/>
<line x1="676.90" y1="763.10" x2="671.02" y2="763.10" stroke="#aaa4a6" stroke-width="0.55"/>
<line x1="639.10" y1="761.60" x2="650.44" y2="761.60" stroke="#aaa4a6" stroke-width="0.55"/>
<line x1="676.90" y1="761.60" x2="665.56" y2="761.60" stroke="#aaa4a6" stroke-width="0.55"/>
<line x1="639.10" y1="760.10" x2="644.98" y2="760.10" stroke="#aaa4a6" stroke-width="0.55"/>
<line x1="676.90" y1="760.10" x2="671.02" y2="760.10" stroke="#aaa4a6" stroke-width="0.55"/>
<line x1="639.10" y1="758.60" x2="644.98" y2="758.60" stroke="#aaa4a6" stroke-width="0.55"/>
<line x1="676.90" y1="758.60" x2="671.02" y2="758.60" stroke="#aaa4a6" stroke-width="0.55"/>
<line x1="639.10" y1="757.10" x2="644.98" y2="757.10" stroke="#aaa4a6" stroke-width="0.55"/>
<line x1="676.90" y1="757.10" x2="671.02" y2="757.10" stroke="#aaa4a6" stroke-width="0.55"/>
<line x1="639.10" y1="755.60" x2="644.98" y2="755.60" stroke="#aaa4a6" stroke-width="0.55"/>
<line x1="676.90" y1="755.60" x2="671.02" y2="755.60" stroke="#aaa4a6" stroke-width="0.55"/>
<line x1="639.10" y1="754.10" x2="647.92" y2="754.10" stroke="#aaa4a6" stroke-width="0.55"/>
<line x1="676.90" y1="754.10" x2="668.08" y2="754.10" stroke="#aaa4a6" stroke-width="0.55"/>
<line x1="639.10" y1="752.60" x2="644.98" y2="752.60" stroke="#aaa4a6" stroke-width="0.55"/>
<line x1="676.90" y1="752.60" x2="671.02" y2="752.60" stroke="#aaa4a6" stroke-width="0.55"/>
<line x1="639.10" y1="751.10" x2="644.98" y2="751.10" stroke="#aaa4a6" stroke-width="0.55"/>
<line x1="676.90" y1="751.10" x2="671.02" y2="751.10" stroke="#aaa4a6" stroke-width="0.55"/>
<line x1="639.10" y1="749.60" x2="644.98" y2="749.60" stroke="#aaa4a6" stroke-width="0.55"/>
<line x1="676.90" y1="749.60" x2="671.02" y2="749.60" stroke="#aaa4a6" stroke-width="0.55"/>
<line x1="639.10" y1="748.10" x2="644.98" y2="748.10" stroke="#aaa4a6" stroke-width="0.55"/>
<line x1="676.90" y1="748.10" x2="671.02" y2="748.10" stroke="#aaa4a6" stroke-width="0.55"/>
<line x1="639.10" y1="746.60" x2="650.44" y2="746.60" stroke="#aaa4a6" stroke-width="0.55"/>
<line x1="676.90" y1="746.60" x2="665.56" y2="746.60" stroke="#aaa4a6" stroke-width="0.55"/>
<line x1="639.10" y1="745.10" x2="644.98" y2="745.10" stroke="#aaa4a6" stroke-width="0.55"/>
<line x1="676.90" y1="745.10" x2="671.02" y2="745.10" stroke="#aaa4a6" stroke-width="0.55"/>
<line x1="639.10" y1="743.60" x2="644.98" y2="743.60" stroke="#aaa4a6" stroke-width="0.55"/>
<line x1="676.90" y1="743.60" x2="671.02" y2="743.60" stroke="#aaa4a6" stroke-width="0.55"/>
<line x1="639.10" y1="742.10" x2="644.98" y2="742.10" stroke="#aaa4a6" stroke-width="0.55"/>
<line x1="676.90" y1="742.10" x2="671.02" y2="742.10" stroke="#aaa4a6" stroke-width="0.55"/>
<line x1="639.10" y1="740.60" x2="644.98" y2="740.60" stroke="#aaa4a6" stroke-width="0.55"/>
<line x1="676.90" y1="740.60" x2="671.02" y2="740.60" stroke="#aaa4a6" stroke-width="0.55"/>
<line x1="639.10" y1="739.10" x2="647.92" y2="739.10" stroke="#aaa4a6" stroke-width="0.55"/>
<line x1="676.90" y1="739.10" x2="668.08" y2="739.10" stroke="#aaa4a6" stroke-width="0.55"/>
<line x1="639.10" y1="737.60" x2="644.98" y2="737.60" stroke="#aaa4a6" stroke-width="0.55"/>
<line x1="676.90" y1="737.60" x2="671.02" y2="737.60" stroke="#aaa4a6" stroke-width="0.55"/>
<line x1="639.10" y1="736.10" x2="644.98" y2="736.10" stroke="#aaa4a6" stroke-width="0.55"/>
<line x1="676.90" y1="736.10" x2="671.02" y2="736.10" stroke="#aaa4a6" stroke-width="0.55"/>
<line x1="639.10" y1="734.60" x2="644.98" y2="734.60" stroke="#aaa4a6" stroke-width="0.55"/>
<line x1="676.90" y1="734.60" x2="671.02" y2="734.60" stroke="#aaa4a6" stroke-width="0.55"/>
<line x1="639.10" y1="733.10" x2="644.98" y2="733.10" stroke="#aaa4a6" stroke-width="0.55"/>
<line x1="676.90" y1="733.10" x2="671.02" y2="733.10" stroke="#aaa4a6" stroke-width="0.55"/>
<line x1="639.10" y1="731.60" x2="650.44" y2="731.60" stroke="#aaa4a6" stroke-width="0.55"/>
<line x1="676.90" y1="731.60" x2="665.56" y2="731.60" stroke="#aaa4a6" stroke-width="0.55"/>
<line x1="639.10" y1="730.10" x2="644.98" y2="730.10" stroke="#aaa4a6" stroke-width="0.55"/>
<line x1="676.90" y1="730.10" x2="671.02" y2="730.10" stroke="#aaa4a6" stroke-width="0.55"/>
<line x1="639.10" y1="728.60" x2="644.98" y2="728.60" stroke="#aaa4a6" stroke-width="0.55"/>
<line x1="676.90" y1="728.60" x2="671.02" y2="728.60" stroke="#aaa4a6" stroke-width="0.55"/>
<line x1="639.10" y1="727.10" x2="644.98" y2="727.10" stroke="#aaa4a6" stroke-width="0.55"/>
<line x1="676.90" y1="727.10" x2="671.02" y2="727.10" stroke="#aaa4a6" stroke-width="0.55"/>
<line x1="639.10" y1="725.60" x2="644.98" y2="725.60" stroke="#aaa4a6" stroke-width="0.55"/>
<line x1="676.90" y1="725.60" x2="671.02" y2="725.60" stroke="#aaa4a6" stroke-width="0.55"/>
<line x1="639.10" y1="724.10" x2="647.92" y2="724.10" stroke="#aaa4a6" stroke-width="0.55"/>
<line x1="676.90" y1="724.10" x2="668.08" y2="724.10" stroke="#aaa4a6" stroke-width="0.55"/>
<line x1="639.10" y1="722.60" x2="644.98" y2="722.60" stroke="#aaa4a6" stroke-width="0.55"/>
<line x1="676.90" y1="722.60" x2="671.02" y2="722.60" stroke="#aaa4a6" stroke-width="0.55"/>
<line x1="639.10" y1="721.10" x2="644.98" y2="721.10" stroke="#aaa4a6" stroke-width="0.55"/>
<line x1="676.90" y1="721.10" x2="671.02" y2="721.10" stroke="#aaa4a6" stroke-width="0.55"/>
<line x1="639.10" y1="719.60" x2="644.98" y2="719.60" stroke="#aaa4a6" stroke-width="0.55"/>
<line x1="676.90" y1="719.60" x2="671.02" y2="719.60" stroke="#aaa4a6" stroke-width="0.55"/>
<line x1="639.10" y1="718.10" x2="644.98" y2="718.10" stroke="#aaa4a6" stroke-width="0.55"/>
<line x1="676.90" y1="718.10" x2="671.02" y2="718.10" stroke="#aaa4a6" stroke-width="0.55"/>
<line x1="639.10" y1="716.60" x2="650.44" y2="716.60" stroke="#aaa4a6" stroke-width="0.55"/>
<line x1="676.90" y1="716.60" x2="665.56" y2="716.60" stroke="#aaa4a6" stroke-width="0.55"/>
<line x1="639.10" y1="715.10" x2="644.98" y2="715.10" stroke="#aaa4a6" stroke-width="0.55"/>
<line x1="676.90" y1="715.10" x2="671.02" y2="715.10" stroke="#aaa4a6" stroke-width="0.55"/>
<line x1="639.10" y1="713.60" x2="644.98" y2="713.60" stroke="#aaa4a6" stroke-width="0.55"/>
<line x1="676.90" y1="713.60" x2="671.02" y2="713.60" stroke="#aaa4a6" stroke-width="0.55"/>
<line x1="639.10" y1="712.10" x2="644.98" y2="712.10" stroke="#aaa4a6" stroke-width="0.55"/>
<line x1="676.90" y1="712.10" x2="671.02" y2="712.10" stroke="#aaa4a6" stroke-width="0.55"/>
<line x1="639.10" y1="710.60" x2="644.98" y2="710.60" stroke="#aaa4a6" stroke-width="0.55"/>
<line x1="676.90" y1="710.60" x2="671.02" y2="710.60" stroke="#aaa4a6" stroke-width="0.55"/>
<line x1="639.10" y1="709.10" x2="647.92" y2="709.10" stroke="#aaa4a6" stroke-width="0.55"/>
<line x1="676.90" y1="709.10" x2="668.08" y2="709.10" stroke="#aaa4a6" stroke-width="0.55"/>
<line x1="639.10" y1="707.60" x2="644.98" y2="707.60" stroke="#aaa4a6" stroke-width="0.55"/>
<line x1="676.90" y1="707.60" x2="671.02" y2="707.60" stroke="#aaa4a6" stroke-width="0.55"/>
<line x1="639.10" y1="706.10" x2="644.98" y2="706.10" stroke="#aaa4a6" stroke-width="0.55"/>
<line x1="676.90" y1="706.10" x2="671.02" y2="706.10" stroke="#aaa4a6" stroke-width="0.55"/>
<line x1="639.10" y1="704.60" x2="644.98" y2="704.60" stroke="#aaa4a6" stroke-width="0.55"/>
<line x1="676.90" y1="704.60" x2="671.02" y2="704.60" stroke="#aaa4a6" stroke-width="0.55"/>
<line x1="639.10" y1="703.10" x2="644.98" y2="703.10" stroke="#aaa4a6" stroke-width="0.55"/>
<line x1="676.90" y1="703.10" x2="671.02" y2="703.10" stroke="#aaa4a6" stroke-width="0.55"/>
<line x1="639.10" y1="701.60" x2="650.44" y2="701.60" stroke="#aaa4a6" stroke-width="0.55"/>
<line x1="676.90" y1="701.60" x2="665.56" y2="701.60" stroke="#aaa4a6" stroke-width="0.55"/>
<line x1="639.10" y1="700.10" x2="644.98" y2="700.10" stroke="#aaa4a6" stroke-width="0.55"/>
<line x1="676.90" y1="700.10" x2="671.02" y2="700.10" stroke="#aaa4a6" stroke-width="0.55"/>
<line x1="639.10" y1="698.60" x2="644.98" y2="698.60" stroke="#aaa4a6" stroke-width="0.55"/>
<line x1="676.90" y1="698.60" x2="671.02" y2="698.60" stroke="#aaa4a6" stroke-width="0.55"/>
<line x1="639.10" y1="697.10" x2="644.98" y2="697.10" stroke="#aaa4a6" stroke-width="0.55"/>
<line x1="676.90" y1="697.10" x2="671.02" y2="697.10" stroke="#aaa4a6" stroke-width="0.55"/>
<line x1="639.10" y1="695.60" x2="644.98" y2="695.60" stroke="#aaa4a6" stroke-width="0.55"/>
<line x1="676.90" y1="695.60" x2="671.02" y2="695.60" stroke="#aaa4a6" stroke-width="0.55"/>
<line x1="639.10" y1="694.10" x2="647.92" y2="694.10" stroke="#aaa4a6" stroke-width="0.55"/>
<line x1="676.90" y1="694.10" x2="668.08" y2="694.10" stroke="#aaa4a6" stroke-width="0.55"/>
<line x1="639.10" y1="692.60" x2="644.98" y2="692.60" stroke="#aaa4a6" stroke-width="0.55"/>
<line x1="676.90" y1="692.60" x2="671.02" y2="692.60" stroke="#aaa4a6" stroke-width="0.55"/>
<line x1="639.10" y1="691.10" x2="644.98" y2="691.10" stroke="#aaa4a6" stroke-width="0.55"/>
<line x1="676.90" y1="691.10" x2="671.02" y2="691.10" stroke="#aaa4a6" stroke-width="0.55"/>
<line x1="639.10" y1="689.60" x2="644.98" y2="689.60" stroke="#aaa4a6" stroke-width="0.55"/>
<line x1="676.90" y1="689.60" x2="671.02" y2="689.60" stroke="#aaa4a6" stroke-width="0.55"/>
<line x1="639.10" y1="688.10" x2="644.98" y2="688.10" stroke="#aaa4a6" stroke-width="0.55"/>
<line x1="676.90" y1="688.10" x2="671.02" y2="688.10" stroke="#aaa4a6" stroke-width="0.55"/>
<line x1="639.10" y1="686.60" x2="650.44" y2="686.60" stroke="#aaa4a6" stroke-width="0.55"/>
<line x1="676.90" y1="686.60" x2="665.56" y2="686.60" stroke="#aaa4a6" stroke-width="0.55"/>
<line x1="639.10" y1="685.10" x2="644.98" y2="685.10" stroke="#aaa4a6" stroke-width="0.55"/>
<line x1="676.90" y1="685.10" x2="671.02" y2="685.10" stroke="#aaa4a6" stroke-width="0.55"/>
<line x1="639.10" y1="683.60" x2="644.98" y2="683.60" stroke="#aaa4a6" stroke-width="0.55"/>
<line x1="676.90" y1="683.60" x2="671.02" y2="683.60" stroke="#aaa4a6" stroke-width="0.55"/>
<line x1="639.10" y1="682.10" x2="644.98" y2="682.10" stroke="#aaa4a6" stroke-width="0.55"/>
<line x1="676.90" y1="682.10" x2="671.02" y2="682.10" stroke="#aaa4a6" stroke-width="0.55"/>
<line x1="639.10" y1="680.60" x2="644.98" y2="680.60" stroke="#aaa4a6" stroke-width="0.55"/>
<line x1="676.90" y1="680.60" x2="671.02" y2="680.60" stroke="#aaa4a6" stroke-width="0.55"/>
<line x1="639.10" y1="679.10" x2="647.92" y2="679.10" stroke="#aaa4a6" stroke-width="0.55"/>
<line x1="676.90" y1="679.10" x2="668.08" y2="679.10" stroke="#aaa4a6" stroke-width="0.55"/>
<line x1="639.10" y1="677.60" x2="644.98" y2="677.60" stroke="#aaa4a6" stroke-width="0.55"/>
<line x1="676.90" y1="677.60" x2="671.02" y2="677.60" stroke="#aaa4a6" stroke-width="0.55"/>
<line x1="639.10" y1="676.10" x2="644.98" y2="676.10" stroke="#aaa4a6" stroke-width="0.55"/>
<line x1="676.90" y1="676.10" x2="671.02" y2="676.10" stroke="#aaa4a6" stroke-width="0.55"/>
<line x1="639.10" y1="674.60" x2="644.98" y2="674.60" stroke="#aaa4a6" stroke-width="0.55"/>
<line x1="676.90" y1="674.60" x2="671.02" y2="674.60" stroke="#aaa4a6" stroke-width="0.55"/>
<line x1="639.10" y1="673.10" x2="644.98" y2="673.10" stroke="#aaa4a6" stroke-width="0.55"/>
<line x1="676.90" y1="673.10" x2="671.02" y2="673.10" stroke="#aaa4a6" stroke-width="0.55"/>
<line x1="639.10" y1="671.60" x2="650.44" y2="671.60" stroke="#aaa4a6" stroke-width="0.55"/>
<line x1="676.90" y1="671.60" x2="665.56" y2="671.60" stroke="#aaa4a6" stroke-width="0.55"/>
<line x1="639.10" y1="670.10" x2="644.98" y2="670.10" stroke="#aaa4a6" stroke-width="0.55"/>
<line x1="676.90" y1="670.10" x2="671.02" y2="670.10" stroke="#aaa4a6" stroke-width="0.55"/>
<line x1="639.10" y1="668.60" x2="644.98" y2="668.60" stroke="#aaa4a6" stroke-width="0.55"/>
<line x1="676.90" y1="668.60" x2="671.02" y2="668.60" stroke="#aaa4a6" stroke-width="0.55"/>
<line x1="639.10" y1="667.10" x2="644.98" y2="667.10" stroke="#aaa4a6" stroke-width="0.55"/>
<line x1="676.90" y1="667.10" x2="671.02" y2="667.10" stroke="#aaa4a6" stroke-width="0.55"/>
<line x1="639.10" y1="665.60" x2="644.98" y2="665.60" stroke="#aaa4a6" stroke-width="0.55"/>
<line x1="676.90" y1="665.60" x2="671.02" y2="665.60" stroke="#aaa4a6" stroke-width="0.55"/>
<text transform="translate(659.30,777.20) rotate(-90) scale(0.8,1)" text-anchor="middle" dy="3.96" style="font-size:11.0px;font-family:'Liberation Sans',sans-serif;font-weight:normal;fill:#48425a">3</text>
<text transform="translate(659.30,762.20) rotate(-90) scale(0.8,1)" text-anchor="middle" dy="3.96" style="font-size:11.0px;font-family:'Liberation Sans',sans-serif;font-weight:normal;fill:#48425a">4</text>
<text transform="translate(659.30,747.20) rotate(-90) scale(0.8,1)" text-anchor="middle" dy="3.96" style="font-size:11.0px;font-family:'Liberation Sans',sans-serif;font-weight:normal;fill:#48425a">5</text>
<text transform="translate(659.30,732.20) rotate(-90) scale(0.8,1)" text-anchor="middle" dy="3.96" style="font-size:11.0px;font-family:'Liberation Sans',sans-serif;font-weight:normal;fill:#48425a">6</text>
<text transform="translate(659.30,717.20) rotate(-90) scale(0.8,1)" text-anchor="middle" dy="3.96" style="font-size:11.0px;font-family:'Liberation Sans',sans-serif;font-weight:normal;fill:#48425a">7</text>
<text transform="translate(659.30,702.20) rotate(-90) scale(0.8,1)" text-anchor="middle" dy="3.96" style="font-size:11.0px;font-family:'Liberation Sans',sans-serif;font-weight:normal;fill:#48425a">8</text>
<text transform="translate(659.30,687.20) rotate(-90) scale(0.8,1)" text-anchor="middle" dy="3.96" style="font-size:11.0px;font-family:'Liberation Sans',sans-serif;font-weight:normal;fill:#48425a">9</text>
<text transform="translate(659.30,672.20) rotate(-90) scale(0.8,1)" text-anchor="middle" dy="3.96" style="font-size:11.0px;font-family:'Liberation Sans',sans-serif;font-weight:bold;fill:#d82c50">10</text>
</g>
<rect x="20.00" y="863.00" width="61.50" height="119.00" fill="#504f4c"/>
<rect x="83.00" y="863.00" width="62.00" height="119.00" fill="#4e4d4a"/>
<rect x="146.70" y="863.00" width="61.50" height="119.00" fill="#5f5f5d"/>
<rect x="210.00" y="863.00" width="57.00" height="119.00" fill="url(#g2)"/>
<rect x="81.50" y="863.00" width="1.50" height="119.00" fill="#d0d0d0"/>
<rect x="145.00" y="863.00" width="1.70" height="119.00" fill="#d0d0d0"/>
<rect x="208.20" y="863.00" width="1.80" height="119.00" fill="#d0d0d0"/>
<rect x="20.00" y="863.00" width="247.00" height="0.8" fill="#ffffff" opacity="0.35"/>
<ellipse cx="35.50" cy="876.40" rx="4" ry="2.2" fill="#000" opacity="0.25"/>
<path d="M38.00 877.40 Q37.50 886.73 37.01 891.39 Q36.53 896.06 37.45 900.72 Q38.37 905.39 37.58 910.05 Q36.78 914.71 37.01 919.38 Q37.23 924.04 37.17 928.71 Q37.10 933.37 36.60 938.04 L36.10 942.70" fill="none" stroke="#a8986e" stroke-width="0.9" stroke-linejoin="round" stroke-linecap="round"/>
<ellipse cx="36.38" cy="875.88" rx="1.52" ry="0.85" fill="#c4d83c" transform="rotate(181.0 36.38 875.88)"/>
<ellipse cx="37.67" cy="874.55" rx="1.86" ry="1.04" fill="#9cc834" transform="rotate(260.3 37.67 874.55)"/>
<ellipse cx="39.30" cy="874.92" rx="1.81" ry="1.02" fill="#c4d83c" transform="rotate(312.3 39.30 874.92)"/>
<ellipse cx="39.67" cy="876.57" rx="1.81" ry="1.02" fill="#9cc834" transform="rotate(390.4 39.67 876.57)"/>
<ellipse cx="37.40" cy="877.24" rx="1.91" ry="1.07" fill="#c4d83c" transform="rotate(467.2 37.40 877.24)"/>
<circle cx="38.00" cy="875.90" r="1.08" fill="#c4d83c"/>
<ellipse cx="53.60" cy="877.20" rx="4" ry="2.2" fill="#000" opacity="0.25"/>
<path d="M56.10 878.20 Q56.17 886.20 56.00 890.20 Q55.83 894.20 54.91 898.20 Q54.00 902.20 53.95 906.20 Q53.90 910.20 54.07 914.20 Q54.25 918.20 53.13 922.20 Q52.01 926.20 52.31 930.20 L52.60 934.20" fill="none" stroke="#a8986e" stroke-width="0.9" stroke-linejoin="round" stroke-linecap="round"/>
<ellipse cx="55.33" cy="875.75" rx="1.48" ry="0.83" fill="#c4d83c" transform="rotate(240.7 55.33 875.75)"/>
<ellipse cx="57.06" cy="875.48" rx="1.89" ry="1.06" fill="#9cc834" transform="rotate(298.5 57.06 875.48)"/>
<ellipse cx="58.17" cy="876.66" rx="1.94" ry="1.09" fill="#c4d83c" transform="rotate(358.4 58.17 876.66)"/>
<ellipse cx="56.57" cy="878.03" rx="1.87" ry="1.04" fill="#9cc834" transform="rotate(436.2 56.57 878.03)"/>
<ellipse cx="54.68" cy="877.28" rx="1.55" ry="0.87" fill="#c4d83c" transform="rotate(509.4 54.68 877.28)"/>
<circle cx="56.10" cy="876.70" r="1.08" fill="#c4d83c"/>
<ellipse cx="69.10" cy="879.60" rx="4" ry="2.2" fill="#000" opacity="0.25"/>
<path d="M71.60 880.60 Q71.87 889.34 71.74 893.71 Q71.60 898.09 71.77 902.46 Q71.94 906.83 71.06 911.20 Q70.18 915.57 70.25 919.94 Q70.31 924.31 70.35 928.69 Q70.39 933.06 70.65 937.43 L70.90 941.80" fill="none" stroke="#a8986e" stroke-width="0.9" stroke-linejoin="round" stroke-linecap="round"/>
<ellipse cx="70.01" cy="879.41" rx="1.55" ry="0.87" fill="#c4d83c" transform="rotate(164.2 70.01 879.41)"/>
<ellipse cx="69.97" cy="878.57" rx="1.69" ry="0.95" fill="#9cc834" transform="rotate(205.5 69.97 878.57)"/>
<ellipse cx="72.07" cy="877.82" rx="1.80" ry="1.01" fill="#c4d83c" transform="rotate(284.2 72.07 877.82)"/>
<ellipse cx="73.40" cy="878.89" rx="1.71" ry="0.96" fill="#9cc834" transform="rotate(350.1 73.40 878.89)"/>
<ellipse cx="71.46" cy="880.18" rx="1.48" ry="0.83" fill="#c4d83c" transform="rotate(455.2 71.46 880.18)"/>
<circle cx="71.60" cy="879.10" r="1.08" fill="#c4d83c"/>
<ellipse cx="102.50" cy="879.60" rx="4" ry="2.2" fill="#000" opacity="0.25"/>
<path d="M105.00 880.60 Q104.61 891.91 104.83 897.57 Q105.05 903.23 105.77 908.89 Q106.49 914.54 106.07 920.20 Q105.66 925.86 106.24 931.51 Q106.82 937.17 106.60 942.83 Q106.37 948.49 106.84 954.14 L107.30 959.80" fill="none" stroke="#a8986e" stroke-width="0.9" stroke-linejoin="round" stroke-linecap="round"/>
<ellipse cx="106.55" cy="880.24" rx="2.13" ry="1.19" fill="#c4d83c" transform="rotate(46.8 106.55 880.24)"/>
<ellipse cx="104.03" cy="880.40" rx="1.99" ry="1.11" fill="#9cc834" transform="rotate(117.1 104.03 880.40)"/>
<ellipse cx="103.37" cy="878.38" rx="1.82" ry="1.02" fill="#c4d83c" transform="rotate(212.9 103.37 878.38)"/>
<ellipse cx="105.17" cy="877.69" rx="1.93" ry="1.08" fill="#9cc834" transform="rotate(274.9 105.17 877.69)"/>
<ellipse cx="106.84" cy="879.14" rx="1.72" ry="0.97" fill="#c4d83c" transform="rotate(361.9 106.84 879.14)"/>
<circle cx="105.00" cy="879.10" r="1.08" fill="#c4d83c"/>
<ellipse cx="122.50" cy="881.90" rx="4" ry="2.2" fill="#000" opacity="0.25"/>
<path d="M125.00 882.90 Q124.99 893.61 124.74 898.97 Q124.49 904.33 124.00 909.69 Q123.51 915.04 122.79 920.40 Q122.08 925.76 122.11 931.11 Q122.15 936.47 121.69 941.83 Q121.22 947.19 120.91 952.54 L120.60 957.90" fill="none" stroke="#a8986e" stroke-width="0.9" stroke-linejoin="round" stroke-linecap="round"/>
<ellipse cx="123.39" cy="880.30" rx="2.13" ry="1.19" fill="#c4d83c" transform="rotate(224.9 123.39 880.30)"/>
<ellipse cx="125.70" cy="880.19" rx="1.77" ry="0.99" fill="#9cc834" transform="rotate(291.8 125.70 880.19)"/>
<ellipse cx="127.08" cy="882.07" rx="2.15" ry="1.20" fill="#c4d83c" transform="rotate(385.2 127.08 882.07)"/>
<ellipse cx="124.47" cy="882.75" rx="1.91" ry="1.07" fill="#9cc834" transform="rotate(465.1 124.47 882.75)"/>
<ellipse cx="123.23" cy="881.53" rx="1.67" ry="0.94" fill="#c4d83c" transform="rotate(533.9 123.23 881.53)"/>
<circle cx="125.00" cy="881.40" r="1.08" fill="#c4d83c"/>
<ellipse cx="136.70" cy="882.50" rx="4" ry="2.2" fill="#000" opacity="0.25"/>
<path d="M139.20 883.50 Q140.12 892.64 139.57 897.21 Q139.01 901.79 139.55 906.36 Q140.08 910.93 139.12 915.50 Q138.16 920.07 138.95 924.64 Q139.74 929.21 138.89 933.79 Q138.04 938.36 138.32 942.93 L138.60 947.50" fill="none" stroke="#a8986e" stroke-width="0.9" stroke-linejoin="round" stroke-linecap="round"/>
<ellipse cx="138.48" cy="880.86" rx="1.70" ry="0.95" fill="#c4d83c" transform="rotate(246.5 138.48 880.86)"/>
<ellipse cx="140.58" cy="881.44" rx="1.50" ry="0.84" fill="#9cc834" transform="rotate(329.7 140.58 881.44)"/>
<ellipse cx="141.09" cy="882.56" rx="1.93" ry="1.08" fill="#c4d83c" transform="rotate(383.3 141.09 882.56)"/>
<ellipse cx="137.99" cy="883.08" rx="1.86" ry="1.04" fill="#9cc834" transform="rotate(487.6 137.99 883.08)"/>
<ellipse cx="137.59" cy="881.78" rx="1.54" ry="0.86" fill="#c4d83c" transform="rotate(551.4 137.59 881.78)"/>
<circle cx="139.20" cy="882.00" r="1.08" fill="#c4d83c"/>
<ellipse cx="167.20" cy="880.60" rx="4" ry="2.2" fill="#000" opacity="0.25"/>
<path d="M169.70 881.60 Q170.09 888.70 169.88 892.25 Q169.67 895.80 169.86 899.35 Q170.05 902.90 169.30 906.45 Q168.54 910.00 168.44 913.55 Q168.34 917.10 168.32 920.65 Q168.30 924.20 168.05 927.75 L167.80 931.30" fill="none" stroke="#a8986e" stroke-width="0.9" stroke-linejoin="round" stroke-linecap="round"/>
<ellipse cx="169.89" cy="878.99" rx="1.52" ry="0.85" fill="#c4d83c" transform="rotate(276.7 169.89 878.99)"/>
<ellipse cx="171.54" cy="880.65" rx="1.88" ry="1.05" fill="#9cc834" transform="rotate(383.7 171.54 880.65)"/>
<ellipse cx="169.80" cy="881.27" rx="1.59" ry="0.89" fill="#c4d83c" transform="rotate(446.6 169.80 881.27)"/>
<ellipse cx="168.31" cy="881.04" rx="1.83" ry="1.02" fill="#9cc834" transform="rotate(495.4 168.31 881.04)"/>
<ellipse cx="168.32" cy="879.62" rx="1.45" ry="0.81" fill="#c4d83c" transform="rotate(566.7 168.32 879.62)"/>
<circle cx="169.70" cy="880.10" r="1.08" fill="#c4d83c"/>
<ellipse cx="179.50" cy="878.70" rx="4" ry="2.2" fill="#000" opacity="0.25"/>
<path d="M182.00 879.70 Q183.27 885.71 182.45 888.72 Q181.64 891.73 181.65 894.74 Q181.66 897.74 181.85 900.75 Q182.05 903.76 182.88 906.76 Q183.71 909.77 183.26 912.78 Q182.80 915.79 182.90 918.79 L183.00 921.80" fill="none" stroke="#a8986e" stroke-width="0.9" stroke-linejoin="round" stroke-linecap="round"/>
<ellipse cx="179.72" cy="878.04" rx="2.14" ry="1.20" fill="#c4d83c" transform="rotate(185.9 179.72 878.04)"/>
<ellipse cx="181.14" cy="877.03" rx="1.79" ry="1.00" fill="#9cc834" transform="rotate(243.4 181.14 877.03)"/>
<ellipse cx="183.00" cy="877.02" rx="1.87" ry="1.04" fill="#c4d83c" transform="rotate(300.2 183.00 877.02)"/>
<ellipse cx="183.38" cy="879.14" rx="1.82" ry="1.02" fill="#9cc834" transform="rotate(404.7 183.38 879.14)"/>
<ellipse cx="181.69" cy="879.36" rx="1.61" ry="0.90" fill="#c4d83c" transform="rotate(460.3 181.69 879.36)"/>
<circle cx="182.00" cy="878.20" r="1.08" fill="#c4d83c"/>
<ellipse cx="190.90" cy="881.00" rx="4" ry="2.2" fill="#000" opacity="0.25"/>
<path d="M193.40 882.00 Q194.36 887.96 194.61 890.94 Q194.86 893.91 194.06 896.89 Q193.25 899.87 193.87 902.85 Q194.50 905.83 194.74 908.81 Q194.98 911.79 195.14 914.76 Q195.30 917.74 195.30 920.72 L195.30 923.70" fill="none" stroke="#a8986e" stroke-width="0.9" stroke-linejoin="round" stroke-linecap="round"/>
<ellipse cx="194.24" cy="879.16" rx="1.98" ry="1.11" fill="#c4d83c" transform="rotate(293.3 194.24 879.16)"/>
<ellipse cx="195.18" cy="880.74" rx="1.70" ry="0.95" fill="#9cc834" transform="rotate(370.9 195.18 880.74)"/>
<ellipse cx="194.24" cy="881.67" rx="1.78" ry="0.99" fill="#c4d83c" transform="rotate(423.8 194.24 881.67)"/>
<ellipse cx="192.08" cy="881.61" rx="1.95" ry="1.09" fill="#9cc834" transform="rotate(489.5 192.08 881.61)"/>
<ellipse cx="191.76" cy="879.48" rx="2.07" ry="1.16" fill="#c4d83c" transform="rotate(582.0 191.76 879.48)"/>
<circle cx="193.40" cy="880.50" r="1.08" fill="#c4d83c"/>
<ellipse cx="215.60" cy="884.40" rx="4" ry="2.2" fill="#000" opacity="0.25"/>
<path d="M218.10 885.40 Q219.43 892.23 219.39 895.64 Q219.34 899.06 219.68 902.47 Q220.02 905.89 220.16 909.30 Q220.30 912.71 220.65 916.13 Q221.00 919.54 221.33 922.96 Q221.66 926.37 221.28 929.79 L220.90 933.20" fill="none" stroke="#a8986e" stroke-width="0.9" stroke-linejoin="round" stroke-linecap="round"/>
<ellipse cx="216.45" cy="883.18" rx="1.84" ry="1.03" fill="#c4d83c" transform="rotate(212.4 216.45 883.18)"/>
<ellipse cx="218.52" cy="882.84" rx="1.50" ry="0.84" fill="#9cc834" transform="rotate(285.3 218.52 882.84)"/>
<ellipse cx="219.65" cy="883.67" rx="1.49" ry="0.83" fill="#c4d83c" transform="rotate(347.9 219.65 883.67)"/>
<ellipse cx="217.83" cy="885.44" rx="2.11" ry="1.18" fill="#9cc834" transform="rotate(456.8 217.83 885.44)"/>
<ellipse cx="216.05" cy="884.57" rx="2.13" ry="1.19" fill="#c4d83c" transform="rotate(514.7 216.05 884.57)"/>
<circle cx="218.10" cy="883.90" r="1.08" fill="#c4d83c"/>
<ellipse cx="231.70" cy="884.00" rx="4" ry="2.2" fill="#000" opacity="0.25"/>
<path d="M234.20 885.00 Q234.09 892.97 234.31 896.96 Q234.53 900.94 234.93 904.93 Q235.34 908.91 235.47 912.90 Q235.60 916.89 235.09 920.87 Q234.58 924.86 235.20 928.84 Q235.81 932.83 235.95 936.81 L236.10 940.80" fill="none" stroke="#a8986e" stroke-width="0.9" stroke-linejoin="round" stroke-linecap="round"/>
<ellipse cx="233.06" cy="884.77" rx="2.03" ry="1.14" fill="#c4d83c" transform="rotate(121.7 233.06 884.77)"/>
<ellipse cx="231.93" cy="883.61" rx="2.14" ry="1.20" fill="#9cc834" transform="rotate(175.8 231.93 883.61)"/>
<ellipse cx="234.13" cy="882.30" rx="1.64" ry="0.92" fill="#c4d83c" transform="rotate(267.6 234.13 882.30)"/>
<ellipse cx="235.27" cy="882.38" rx="1.82" ry="1.02" fill="#9cc834" transform="rotate(303.5 235.27 882.38)"/>
<ellipse cx="235.16" cy="884.42" rx="1.55" ry="0.87" fill="#c4d83c" transform="rotate(414.2 235.16 884.42)"/>
<circle cx="234.20" cy="883.50" r="1.08" fill="#c4d83c"/>
<ellipse cx="247.30" cy="882.50" rx="4" ry="2.2" fill="#000" opacity="0.25"/>
<path d="M249.80 883.50 Q250.50 891.56 250.73 895.59 Q250.95 899.61 250.41 903.64 Q249.86 907.67 249.38 911.70 Q248.91 915.73 249.92 919.76 Q250.93 923.79 249.99 927.81 Q249.05 931.84 249.67 935.87 L250.30 939.90" fill="none" stroke="#a8986e" stroke-width="0.9" stroke-linejoin="round" stroke-linecap="round"/>
<ellipse cx="251.80" cy="882.41" rx="1.96" ry="1.10" fill="#c4d83c" transform="rotate(16.5 251.80 882.41)"/>
<ellipse cx="248.87" cy="883.16" rx="1.80" ry="1.01" fill="#9cc834" transform="rotate(119.0 248.87 883.16)"/>
<ellipse cx="247.88" cy="882.34" rx="1.86" ry="1.04" fill="#c4d83c" transform="rotate(165.6 247.88 882.34)"/>
<ellipse cx="248.95" cy="880.72" rx="1.92" ry="1.08" fill="#9cc834" transform="rotate(245.4 248.95 880.72)"/>
<ellipse cx="251.09" cy="881.01" rx="1.81" ry="1.02" fill="#c4d83c" transform="rotate(311.7 251.09 881.01)"/>
<circle cx="249.80" cy="882.00" r="1.08" fill="#c4d83c"/>
<text transform="translate(49.70,979.50) scale(1,1.15)" text-anchor="middle" style="font-size:7.1px;font-family:'Liberation Serif';fill:#eeeeee"><tspan style="font-family:'Liberation Sans'">WT</tspan></text>
<text transform="translate(114.20,979.50) scale(1,1.15)" text-anchor="middle" style="font-size:7.1px;font-family:'Liberation Serif';fill:#eeeeee"><tspan style="font-family:'Liberation Sans'">Mutant</tspan></text>
<text transform="translate(177.80,979.50) scale(1,1.15)" text-anchor="middle" style="font-size:7.1px;font-family:'Liberation Serif';fill:#eeeeee"><tspan font-style="italic">PlARF2-OE</tspan></text>
<text transform="translate(237.90,979.50) scale(1,1.15)" text-anchor="middle" style="font-size:7.1px;font-family:'Liberation Serif';fill:#eeeeee"><tspan font-style="italic">PlARF2-FC</tspan></text>
<clipPath id="rc267863"><rect x="267.00" y="863.00" width="47.00" height="119.00"/></clipPath><g clip-path="url(#rc267863)">
<rect x="267.00" y="863.00" width="47.00" height="119.00" fill="#ebe8e8"/>
<rect x="267.00" y="863.00" width="4.70" height="119.00" fill="#d6d2d3"/>
<rect x="308.83" y="863.00" width="5.17" height="119.00" fill="#d6d2d3"/>
<line x1="269.35" y1="980.15" x2="275.93" y2="980.15" stroke="#aaa4a6" stroke-width="0.55"/>
<line x1="311.65" y1="980.15" x2="305.07" y2="980.15" stroke="#aaa4a6" stroke-width="0.55"/>
<line x1="269.35" y1="978.50" x2="275.93" y2="978.50" stroke="#aaa4a6" stroke-width="0.55"/>
<line x1="311.65" y1="978.50" x2="305.07" y2="978.50" stroke="#aaa4a6" stroke-width="0.55"/>
<line x1="269.35" y1="976.85" x2="275.93" y2="976.85" stroke="#aaa4a6" stroke-width="0.55"/>
<line x1="311.65" y1="976.85" x2="305.07" y2="976.85" stroke="#aaa4a6" stroke-width="0.55"/>
<line x1="269.35" y1="975.20" x2="275.93" y2="975.20" stroke="#aaa4a6" stroke-width="0.55"/>
<line x1="311.65" y1="975.20" x2="305.07" y2="975.20" stroke="#aaa4a6" stroke-width="0.55"/>
<line x1="269.35" y1="973.55" x2="279.22" y2="973.55" stroke="#aaa4a6" stroke-width="0.55"/>
<line x1="311.65" y1="973.55" x2="301.78" y2="973.55" stroke="#aaa4a6" stroke-width="0.55"/>
<line x1="269.35" y1="971.90" x2="275.93" y2="971.90" stroke="#aaa4a6" stroke-width="0.55"/>
<line x1="311.65" y1="971.90" x2="305.07" y2="971.90" stroke="#aaa4a6" stroke-width="0.55"/>
<line x1="269.35" y1="970.25" x2="275.93" y2="970.25" stroke="#aaa4a6" stroke-width="0.55"/>
<line x1="311.65" y1="970.25" x2="305.07" y2="970.25" stroke="#aaa4a6" stroke-width="0.55"/>
<line x1="269.35" y1="968.60" x2="275.93" y2="968.60" stroke="#aaa4a6" stroke-width="0.55"/>
<line x1="311.65" y1="968.60" x2="305.07" y2="968.60" stroke="#aaa4a6" stroke-width="0.55"/>
<line x1="269.35" y1="966.95" x2="275.93" y2="966.95" stroke="#aaa4a6" stroke-width="0.55"/>
<line x1="311.65" y1="966.95" x2="305.07" y2="966.95" stroke="#aaa4a6" stroke-width="0.55"/>
<line x1="269.35" y1="965.30" x2="282.04" y2="965.30" stroke="#aaa4a6" stroke-width="0.55"/>
<line x1="311.65" y1="965.30" x2="298.96" y2="965.30" stroke="#aaa4a6" stroke-width="0.55"/>
<line x1="269.35" y1="963.65" x2="275.93" y2="963.65" stroke="#aaa4a6" stroke-width="0.55"/>
<line x1="311.65" y1="963.65" x2="305.07" y2="963.65" stroke="#aaa4a6" stroke-width="0.55"/>
<line x1="269.35" y1="962.00" x2="275.93" y2="962.00" stroke="#aaa4a6" stroke-width="0.55"/>
<line x1="311.65" y1="962.00" x2="305.07" y2="962.00" stroke="#aaa4a6" stroke-width="0.55"/>
<line x1="269.35" y1="960.35" x2="275.93" y2="960.35" stroke="#aaa4a6" stroke-width="0.55"/>
<line x1="311.65" y1="960.35" x2="305.07" y2="960.35" stroke="#aaa4a6" stroke-width="0.55"/>
<line x1="269.35" y1="958.70" x2="275.93" y2="958.70" stroke="#aaa4a6" stroke-width="0.55"/>
<line x1="311.65" y1="958.70" x2="305.07" y2="958.70" stroke="#aaa4a6" stroke-width="0.55"/>
<line x1="269.35" y1="957.05" x2="279.22" y2="957.05" stroke="#aaa4a6" stroke-width="0.55"/>
<line x1="311.65" y1="957.05" x2="301.78" y2="957.05" stroke="#aaa4a6" stroke-width="0.55"/>
<line x1="269.35" y1="955.40" x2="275.93" y2="955.40" stroke="#aaa4a6" stroke-width="0.55"/>
<line x1="311.65" y1="955.40" x2="305.07" y2="955.40" stroke="#aaa4a6" stroke-width="0.55"/>
<line x1="269.35" y1="953.75" x2="275.93" y2="953.75" stroke="#aaa4a6" stroke-width="0.55"/>
<line x1="311.65" y1="953.75" x2="305.07" y2="953.75" stroke="#aaa4a6" stroke-width="0.55"/>
<line x1="269.35" y1="952.10" x2="275.93" y2="952.10" stroke="#aaa4a6" stroke-width="0.55"/>
<line x1="311.65" y1="952.10" x2="305.07" y2="952.10" stroke="#aaa4a6" stroke-width="0.55"/>
<line x1="269.35" y1="950.45" x2="275.93" y2="950.45" stroke="#aaa4a6" stroke-width="0.55"/>
<line x1="311.65" y1="950.45" x2="305.07" y2="950.45" stroke="#aaa4a6" stroke-width="0.55"/>
<line x1="269.35" y1="948.80" x2="282.04" y2="948.80" stroke="#aaa4a6" stroke-width="0.55"/>
<line x1="311.65" y1="948.80" x2="298.96" y2="948.80" stroke="#aaa4a6" stroke-width="0.55"/>
<line x1="269.35" y1="947.15" x2="275.93" y2="947.15" stroke="#aaa4a6" stroke-width="0.55"/>
<line x1="311.65" y1="947.15" x2="305.07" y2="947.15" stroke="#aaa4a6" stroke-width="0.55"/>
<line x1="269.35" y1="945.50" x2="275.93" y2="945.50" stroke="#aaa4a6" stroke-width="0.55"/>
<line x1="311.65" y1="945.50" x2="305.07" y2="945.50" stroke="#aaa4a6" stroke-width="0.55"/>
<line x1="269.35" y1="943.85" x2="275.93" y2="943.85" stroke="#aaa4a6" stroke-width="0.55"/>
<line x1="311.65" y1="943.85" x2="305.07" y2="943.85" stroke="#aaa4a6" stroke-width="0.55"/>
<line x1="269.35" y1="942.20" x2="275.93" y2="942.20" stroke="#aaa4a6" stroke-width="0.55"/>
<line x1="311.65" y1="942.20" x2="305.07" y2="942.20" stroke="#aaa4a6" stroke-width="0.55"/>
<line x1="269.35" y1="940.55" x2="279.22" y2="940.55" stroke="#aaa4a6" stroke-width="0.55"/>
<line x1="311.65" y1="940.55" x2="301.78" y2="940.55" stroke="#aaa4a6" stroke-width="0.55"/>
<line x1="269.35" y1="938.90" x2="275.93" y2="938.90" stroke="#aaa4a6" stroke-width="0.55"/>
<line x1="311.65" y1="938.90" x2="305.07" y2="938.90" stroke="#aaa4a6" stroke-width="0.55"/>
<line x1="269.35" y1="937.25" x2="275.93" y2="937.25" stroke="#aaa4a6" stroke-width="0.55"/>
<line x1="311.65" y1="937.25" x2="305.07" y2="937.25" stroke="#aaa4a6" stroke-width="0.55"/>
<line x1="269.35" y1="935.60" x2="275.93" y2="935.60" stroke="#aaa4a6" stroke-width="0.55"/>
<line x1="311.65" y1="935.60" x2="305.07" y2="935.60" stroke="#aaa4a6" stroke-width="0.55"/>
<line x1="269.35" y1="933.95" x2="275.93" y2="933.95" stroke="#aaa4a6" stroke-width="0.55"/>
<line x1="311.65" y1="933.95" x2="305.07" y2="933.95" stroke="#aaa4a6" stroke-width="0.55"/>
<line x1="269.35" y1="932.30" x2="282.04" y2="932.30" stroke="#aaa4a6" stroke-width="0.55"/>
<line x1="311.65" y1="932.30" x2="298.96" y2="932.30" stroke="#aaa4a6" stroke-width="0.55"/>
<line x1="269.35" y1="930.65" x2="275.93" y2="930.65" stroke="#aaa4a6" stroke-width="0.55"/>
<line x1="311.65" y1="930.65" x2="305.07" y2="930.65" stroke="#aaa4a6" stroke-width="0.55"/>
<line x1="269.35" y1="929.00" x2="275.93" y2="929.00" stroke="#aaa4a6" stroke-width="0.55"/>
<line x1="311.65" y1="929.00" x2="305.07" y2="929.00" stroke="#aaa4a6" stroke-width="0.55"/>
<line x1="269.35" y1="927.35" x2="275.93" y2="927.35" stroke="#aaa4a6" stroke-width="0.55"/>
<line x1="311.65" y1="927.35" x2="305.07" y2="927.35" stroke="#aaa4a6" stroke-width="0.55"/>
<line x1="269.35" y1="925.70" x2="275.93" y2="925.70" stroke="#aaa4a6" stroke-width="0.55"/>
<line x1="311.65" y1="925.70" x2="305.07" y2="925.70" stroke="#aaa4a6" stroke-width="0.55"/>
<line x1="269.35" y1="924.05" x2="279.22" y2="924.05" stroke="#aaa4a6" stroke-width="0.55"/>
<line x1="311.65" y1="924.05" x2="301.78" y2="924.05" stroke="#aaa4a6" stroke-width="0.55"/>
<line x1="269.35" y1="922.40" x2="275.93" y2="922.40" stroke="#aaa4a6" stroke-width="0.55"/>
<line x1="311.65" y1="922.40" x2="305.07" y2="922.40" stroke="#aaa4a6" stroke-width="0.55"/>
<line x1="269.35" y1="920.75" x2="275.93" y2="920.75" stroke="#aaa4a6" stroke-width="0.55"/>
<line x1="311.65" y1="920.75" x2="305.07" y2="920.75" stroke="#aaa4a6" stroke-width="0.55"/>
<line x1="269.35" y1="919.10" x2="275.93" y2="919.10" stroke="#aaa4a6" stroke-width="0.55"/>
<line x1="311.65" y1="919.10" x2="305.07" y2="919.10" stroke="#aaa4a6" stroke-width="0.55"/>
<line x1="269.35" y1="917.45" x2="275.93" y2="917.45" stroke="#aaa4a6" stroke-width="0.55"/>
<line x1="311.65" y1="917.45" x2="305.07" y2="917.45" stroke="#aaa4a6" stroke-width="0.55"/>
<line x1="269.35" y1="915.80" x2="282.04" y2="915.80" stroke="#aaa4a6" stroke-width="0.55"/>
<line x1="311.65" y1="915.80" x2="298.96" y2="915.80" stroke="#aaa4a6" stroke-width="0.55"/>
<line x1="269.35" y1="914.15" x2="275.93" y2="914.15" stroke="#aaa4a6" stroke-width="0.55"/>
<line x1="311.65" y1="914.15" x2="305.07" y2="914.15" stroke="#aaa4a6" stroke-width="0.55"/>
<line x1="269.35" y1="912.50" x2="275.93" y2="912.50" stroke="#aaa4a6" stroke-width="0.55"/>
<line x1="311.65" y1="912.50" x2="305.07" y2="912.50" stroke="#aaa4a6" stroke-width="0.55"/>
<line x1="269.35" y1="910.85" x2="275.93" y2="910.85" stroke="#aaa4a6" stroke-width="0.55"/>
<line x1="311.65" y1="910.85" x2="305.07" y2="910.85" stroke="#aaa4a6" stroke-width="0.55"/>
<line x1="269.35" y1="909.20" x2="275.93" y2="909.20" stroke="#aaa4a6" stroke-width="0.55"/>
<line x1="311.65" y1="909.20" x2="305.07" y2="909.20" stroke="#aaa4a6" stroke-width="0.55"/>
<line x1="269.35" y1="907.55" x2="279.22" y2="907.55" stroke="#aaa4a6" stroke-width="0.55"/>
<line x1="311.65" y1="907.55" x2="301.78" y2="907.55" stroke="#aaa4a6" stroke-width="0.55"/>
<line x1="269.35" y1="905.90" x2="275.93" y2="905.90" stroke="#aaa4a6" stroke-width="0.55"/>
<line x1="311.65" y1="905.90" x2="305.07" y2="905.90" stroke="#aaa4a6" stroke-width="0.55"/>
<line x1="269.35" y1="904.25" x2="275.93" y2="904.25" stroke="#aaa4a6" stroke-width="0.55"/>
<line x1="311.65" y1="904.25" x2="305.07" y2="904.25" stroke="#aaa4a6" stroke-width="0.55"/>
<line x1="269.35" y1="902.60" x2="275.93" y2="902.60" stroke="#aaa4a6" stroke-width="0.55"/>
<line x1="311.65" y1="902.60" x2="305.07" y2="902.60" stroke="#aaa4a6" stroke-width="0.55"/>
<line x1="269.35" y1="900.95" x2="275.93" y2="900.95" stroke="#aaa4a6" stroke-width="0.55"/>
<line x1="311.65" y1="900.95" x2="305.07" y2="900.95" stroke="#aaa4a6" stroke-width="0.55"/>
<line x1="269.35" y1="899.30" x2="282.04" y2="899.30" stroke="#aaa4a6" stroke-width="0.55"/>
<line x1="311.65" y1="899.30" x2="298.96" y2="899.30" stroke="#aaa4a6" stroke-width="0.55"/>
<line x1="269.35" y1="897.65" x2="275.93" y2="897.65" stroke="#aaa4a6" stroke-width="0.55"/>
<line x1="311.65" y1="897.65" x2="305.07" y2="897.65" stroke="#aaa4a6" stroke-width="0.55"/>
<line x1="269.35" y1="896.00" x2="275.93" y2="896.00" stroke="#aaa4a6" stroke-width="0.55"/>
<line x1="311.65" y1="896.00" x2="305.07" y2="896.00" stroke="#aaa4a6" stroke-width="0.55"/>
<line x1="269.35" y1="894.35" x2="275.93" y2="894.35" stroke="#aaa4a6" stroke-width="0.55"/>
<line x1="311.65" y1="894.35" x2="305.07" y2="894.35" stroke="#aaa4a6" stroke-width="0.55"/>
<line x1="269.35" y1="892.70" x2="275.93" y2="892.70" stroke="#aaa4a6" stroke-width="0.55"/>
<line x1="311.65" y1="892.70" x2="305.07" y2="892.70" stroke="#aaa4a6" stroke-width="0.55"/>
<line x1="269.35" y1="891.05" x2="279.22" y2="891.05" stroke="#aaa4a6" stroke-width="0.55"/>
<line x1="311.65" y1="891.05" x2="301.78" y2="891.05" stroke="#aaa4a6" stroke-width="0.55"/>
<line x1="269.35" y1="889.40" x2="275.93" y2="889.40" stroke="#aaa4a6" stroke-width="0.55"/>
<line x1="311.65" y1="889.40" x2="305.07" y2="889.40" stroke="#aaa4a6" stroke-width="0.55"/>
<line x1="269.35" y1="887.75" x2="275.93" y2="887.75" stroke="#aaa4a6" stroke-width="0.55"/>
<line x1="311.65" y1="887.75" x2="305.07" y2="887.75" stroke="#aaa4a6" stroke-width="0.55"/>
<line x1="269.35" y1="886.10" x2="275.93" y2="886.10" stroke="#aaa4a6" stroke-width="0.55"/>
<line x1="311.65" y1="886.10" x2="305.07" y2="886.10" stroke="#aaa4a6" stroke-width="0.55"/>
<line x1="269.35" y1="884.45" x2="275.93" y2="884.45" stroke="#aaa4a6" stroke-width="0.55"/>
<line x1="311.65" y1="884.45" x2="305.07" y2="884.45" stroke="#aaa4a6" stroke-width="0.55"/>
<line x1="269.35" y1="882.80" x2="282.04" y2="882.80" stroke="#aaa4a6" stroke-width="0.55"/>
<line x1="311.65" y1="882.80" x2="298.96" y2="882.80" stroke="#aaa4a6" stroke-width="0.55"/>
<line x1="269.35" y1="881.15" x2="275.93" y2="881.15" stroke="#aaa4a6" stroke-width="0.55"/>
<line x1="311.65" y1="881.15" x2="305.07" y2="881.15" stroke="#aaa4a6" stroke-width="0.55"/>
<line x1="269.35" y1="879.50" x2="275.93" y2="879.50" stroke="#aaa4a6" stroke-width="0.55"/>
<line x1="311.65" y1="879.50" x2="305.07" y2="879.50" stroke="#aaa4a6" stroke-width="0.55"/>
<line x1="269.35" y1="877.85" x2="275.93" y2="877.85" stroke="#aaa4a6" stroke-width="0.55"/>
<line x1="311.65" y1="877.85" x2="305.07" y2="877.85" stroke="#aaa4a6" stroke-width="0.55"/>
<line x1="269.35" y1="876.20" x2="275.93" y2="876.20" stroke="#aaa4a6" stroke-width="0.55"/>
<line x1="311.65" y1="876.20" x2="305.07" y2="876.20" stroke="#aaa4a6" stroke-width="0.55"/>
<line x1="269.35" y1="874.55" x2="279.22" y2="874.55" stroke="#aaa4a6" stroke-width="0.55"/>
<line x1="311.65" y1="874.55" x2="301.78" y2="874.55" stroke="#aaa4a6" stroke-width="0.55"/>
<line x1="269.35" y1="872.90" x2="275.93" y2="872.90" stroke="#aaa4a6" stroke-width="0.55"/>
<line x1="311.65" y1="872.90" x2="305.07" y2="872.90" stroke="#aaa4a6" stroke-width="0.55"/>
<line x1="269.35" y1="871.25" x2="275.93" y2="871.25" stroke="#aaa4a6" stroke-width="0.55"/>
<line x1="311.65" y1="871.25" x2="305.07" y2="871.25" stroke="#aaa4a6" stroke-width="0.55"/>
<line x1="269.35" y1="869.60" x2="275.93" y2="869.60" stroke="#aaa4a6" stroke-width="0.55"/>
<line x1="311.65" y1="869.60" x2="305.07" y2="869.60" stroke="#aaa4a6" stroke-width="0.55"/>
<line x1="269.35" y1="867.95" x2="275.93" y2="867.95" stroke="#aaa4a6" stroke-width="0.55"/>
<line x1="311.65" y1="867.95" x2="305.07" y2="867.95" stroke="#aaa4a6" stroke-width="0.55"/>
<line x1="269.35" y1="866.30" x2="282.04" y2="866.30" stroke="#aaa4a6" stroke-width="0.55"/>
<line x1="311.65" y1="866.30" x2="298.96" y2="866.30" stroke="#aaa4a6" stroke-width="0.55"/>
<line x1="269.35" y1="864.65" x2="275.93" y2="864.65" stroke="#aaa4a6" stroke-width="0.55"/>
<line x1="311.65" y1="864.65" x2="305.07" y2="864.65" stroke="#aaa4a6" stroke-width="0.55"/>
<text transform="translate(290.50,982.40) rotate(-90) scale(0.8,1)" text-anchor="middle" dy="4.36" style="font-size:12.1px;font-family:'Liberation Sans',sans-serif;font-weight:normal;fill:#48425a">4</text>
<text transform="translate(290.50,965.90) rotate(-90) scale(0.8,1)" text-anchor="middle" dy="4.36" style="font-size:12.1px;font-family:'Liberation Sans',sans-serif;font-weight:normal;fill:#48425a">5</text>
<text transform="translate(290.50,949.40) rotate(-90) scale(0.8,1)" text-anchor="middle" dy="4.36" style="font-size:12.1px;font-family:'Liberation Sans',sans-serif;font-weight:normal;fill:#48425a">6</text>
<text transform="translate(290.50,932.90) rotate(-90) scale(0.8,1)" text-anchor="middle" dy="4.36" style="font-size:12.1px;font-family:'Liberation Sans',sans-serif;font-weight:normal;fill:#48425a">7</text>
<text transform="translate(290.50,916.40) rotate(-90) scale(0.8,1)" text-anchor="middle" dy="4.36" style="font-size:12.1px;font-family:'Liberation Sans',sans-serif;font-weight:normal;fill:#48425a">8</text>
<text transform="translate(290.50,899.90) rotate(-90) scale(0.8,1)" text-anchor="middle" dy="4.36" style="font-size:12.1px;font-family:'Liberation Sans',sans-serif;font-weight:normal;fill:#48425a">9</text>
<text transform="translate(290.50,883.40) rotate(-90) scale(0.8,1)" text-anchor="middle" dy="4.36" style="font-size:12.1px;font-family:'Liberation Sans',sans-serif;font-weight:bold;fill:#d82c50">10</text>
<text transform="translate(290.50,866.90) rotate(-90) scale(0.8,1)" text-anchor="middle" dy="4.36" style="font-size:12.1px;font-family:'Liberation Sans',sans-serif;font-weight:normal;fill:#48425a">11</text>
</g>
<rect x="384.00" y="863.00" width="54.90" height="112.70" fill="#575754"/>
<rect x="440.10" y="863.00" width="51.30" height="112.70" fill="#565653"/>
<rect x="493.20" y="863.00" width="53.20" height="112.70" fill="#696967"/>
<rect x="548.20" y="863.00" width="55.80" height="112.70" fill="url(#g3)"/>
<rect x="438.90" y="863.00" width="1.20" height="112.70" fill="#d0d0d0"/>
<rect x="491.40" y="863.00" width="1.80" height="112.70" fill="#d0d0d0"/>
<rect x="546.40" y="863.00" width="1.80" height="112.70" fill="#d0d0d0"/>
<rect x="384.00" y="863.00" width="220.00" height="0.8" fill="#ffffff" opacity="0.35"/>
<ellipse cx="406.40" cy="882.80" rx="4" ry="2.2" fill="#000" opacity="0.18"/>
<path d="M408.90 883.80 Q409.65 888.97 408.76 891.56 Q407.87 894.14 407.98 896.73 Q408.09 899.31 407.77 901.90 Q407.44 904.49 407.91 907.07 Q408.39 909.66 408.25 912.24 Q408.12 914.83 407.71 917.41 L407.30 920.00" fill="none" stroke="#ac9e84" stroke-width="0.85" stroke-linejoin="round" stroke-linecap="round"/>
<ellipse cx="407.75" cy="883.25" rx="1.69" ry="0.94" fill="#a4cc48" transform="rotate(129.9 407.75 883.25)"/>
<ellipse cx="406.59" cy="882.46" rx="2.18" ry="1.22" fill="#88b83c" transform="rotate(174.4 406.59 882.46)"/>
<ellipse cx="408.04" cy="880.90" rx="2.08" ry="1.16" fill="#a4cc48" transform="rotate(247.1 408.04 880.90)"/>
<ellipse cx="410.04" cy="881.29" rx="1.74" ry="0.98" fill="#88b83c" transform="rotate(307.9 410.04 881.29)"/>
<ellipse cx="410.29" cy="883.19" rx="1.79" ry="1.00" fill="#a4cc48" transform="rotate(403.1 410.29 883.19)"/>
<circle cx="408.90" cy="882.30" r="1.12" fill="#a4cc48"/>
<ellipse cx="421.30" cy="882.50" rx="4" ry="2.2" fill="#000" opacity="0.18"/>
<path d="M423.80 883.50 Q423.04 887.91 423.19 890.12 Q423.33 892.33 423.72 894.54 Q424.11 896.74 423.46 898.95 Q422.81 901.16 423.63 903.36 Q424.44 905.57 424.28 907.78 Q424.12 909.99 423.71 912.19 L423.30 914.40" fill="none" stroke="#ac9e84" stroke-width="0.85" stroke-linejoin="round" stroke-linecap="round"/>
<ellipse cx="425.50" cy="880.97" rx="2.13" ry="1.19" fill="#a4cc48" transform="rotate(318.6 425.50 880.97)"/>
<ellipse cx="425.78" cy="882.90" rx="2.22" ry="1.24" fill="#88b83c" transform="rotate(393.4 425.78 882.90)"/>
<ellipse cx="424.20" cy="883.18" rx="1.65" ry="0.92" fill="#a4cc48" transform="rotate(436.7 424.20 883.18)"/>
<ellipse cx="421.54" cy="881.67" rx="2.17" ry="1.22" fill="#88b83c" transform="rotate(552.0 421.54 881.67)"/>
<ellipse cx="422.78" cy="880.75" rx="1.96" ry="1.10" fill="#a4cc48" transform="rotate(600.8 422.78 880.75)"/>
<circle cx="423.80" cy="882.00" r="1.12" fill="#a4cc48"/>
<ellipse cx="429.70" cy="885.20" rx="4" ry="2.2" fill="#000" opacity="0.18"/>
<path d="M432.20 886.20 Q433.80 890.69 433.56 892.93 Q433.32 895.17 434.12 897.41 Q434.92 899.66 434.86 901.90 Q434.80 904.14 434.73 906.39 Q434.65 908.63 435.91 910.87 Q437.17 913.11 437.08 915.36 L437.00 917.60" fill="none" stroke="#ac9e84" stroke-width="0.85" stroke-linejoin="round" stroke-linecap="round"/>
<ellipse cx="431.81" cy="885.86" rx="1.63" ry="0.91" fill="#a4cc48" transform="rotate(103.1 431.81 885.86)"/>
<ellipse cx="430.52" cy="885.00" rx="1.63" ry="0.91" fill="#88b83c" transform="rotate(165.4 430.52 885.00)"/>
<ellipse cx="431.67" cy="883.19" rx="2.12" ry="1.19" fill="#a4cc48" transform="rotate(256.6 431.67 883.19)"/>
<ellipse cx="434.01" cy="884.44" rx="1.74" ry="0.97" fill="#88b83c" transform="rotate(348.4 434.01 884.44)"/>
<ellipse cx="433.58" cy="885.51" rx="1.70" ry="0.95" fill="#a4cc48" transform="rotate(400.5 433.58 885.51)"/>
<circle cx="432.20" cy="884.70" r="1.12" fill="#a4cc48"/>
<ellipse cx="454.10" cy="883.60" rx="4" ry="2.2" fill="#000" opacity="0.18"/>
<path d="M456.60 884.60 Q456.38 890.23 456.99 893.04 Q457.61 895.86 458.00 898.67 Q458.39 901.49 457.97 904.30 Q457.55 907.11 457.53 909.93 Q457.51 912.74 457.87 915.56 Q458.23 918.37 458.46 921.19 L458.70 924.00" fill="none" stroke="#ac9e84" stroke-width="0.85" stroke-linejoin="round" stroke-linecap="round"/>
<ellipse cx="454.86" cy="882.43" rx="1.87" ry="1.05" fill="#a4cc48" transform="rotate(209.1 454.86 882.43)"/>
<ellipse cx="456.95" cy="881.85" rx="1.74" ry="0.97" fill="#88b83c" transform="rotate(281.0 456.95 881.85)"/>
<ellipse cx="458.24" cy="883.22" rx="1.55" ry="0.87" fill="#a4cc48" transform="rotate(366.0 458.24 883.22)"/>
<ellipse cx="456.75" cy="884.72" rx="2.21" ry="1.24" fill="#88b83c" transform="rotate(446.4 456.75 884.72)"/>
<ellipse cx="455.38" cy="883.86" rx="1.55" ry="0.87" fill="#a4cc48" transform="rotate(497.8 455.38 883.86)"/>
<circle cx="456.60" cy="883.10" r="1.12" fill="#a4cc48"/>
<ellipse cx="468.20" cy="881.20" rx="4" ry="2.2" fill="#000" opacity="0.18"/>
<path d="M470.70 882.20 Q471.44 888.63 471.27 891.84 Q471.10 895.06 471.59 898.27 Q472.08 901.49 471.58 904.70 Q471.08 907.91 471.50 911.13 Q471.92 914.34 471.74 917.56 Q471.57 920.77 471.78 923.99 L472.00 927.20" fill="none" stroke="#ac9e84" stroke-width="0.85" stroke-linejoin="round" stroke-linecap="round"/>
<ellipse cx="468.78" cy="880.04" rx="2.01" ry="1.13" fill="#a4cc48" transform="rotate(206.5 468.78 880.04)"/>
<ellipse cx="470.04" cy="879.50" rx="1.75" ry="0.98" fill="#88b83c" transform="rotate(249.3 470.04 879.50)"/>
<ellipse cx="472.00" cy="879.96" rx="1.58" ry="0.89" fill="#a4cc48" transform="rotate(320.4 472.00 879.96)"/>
<ellipse cx="472.13" cy="881.29" rx="1.56" ry="0.88" fill="#88b83c" transform="rotate(390.8 472.13 881.29)"/>
<ellipse cx="469.85" cy="882.12" rx="2.10" ry="1.18" fill="#a4cc48" transform="rotate(472.2 469.85 882.12)"/>
<circle cx="470.70" cy="880.70" r="1.12" fill="#a4cc48"/>
<ellipse cx="481.90" cy="883.60" rx="4" ry="2.2" fill="#000" opacity="0.18"/>
<path d="M484.40 884.60 Q484.90 890.23 484.89 893.04 Q484.87 895.86 484.96 898.67 Q485.05 901.49 485.46 904.30 Q485.86 907.11 486.65 909.93 Q487.44 912.74 487.29 915.56 Q487.13 918.37 487.57 921.19 L488.00 924.00" fill="none" stroke="#ac9e84" stroke-width="0.85" stroke-linejoin="round" stroke-linecap="round"/>
<ellipse cx="484.31" cy="881.70" rx="1.91" ry="1.07" fill="#a4cc48" transform="rotate(267.5 484.31 881.70)"/>
<ellipse cx="486.15" cy="882.92" rx="1.66" ry="0.93" fill="#88b83c" transform="rotate(351.5 486.15 882.92)"/>
<ellipse cx="485.50" cy="884.34" rx="1.98" ry="1.11" fill="#a4cc48" transform="rotate(418.5 485.50 884.34)"/>
<ellipse cx="483.06" cy="884.01" rx="1.77" ry="0.99" fill="#88b83c" transform="rotate(495.3 483.06 884.01)"/>
<ellipse cx="483.12" cy="882.26" rx="1.66" ry="0.93" fill="#a4cc48" transform="rotate(583.5 483.12 882.26)"/>
<circle cx="484.40" cy="883.10" r="1.12" fill="#a4cc48"/>
<ellipse cx="499.40" cy="878.60" rx="4" ry="2.2" fill="#000" opacity="0.18"/>
<path d="M501.90 879.60 Q503.06 881.54 503.16 882.51 Q503.26 883.49 502.93 884.46 Q502.59 885.43 503.35 886.40 Q504.10 887.37 504.48 888.34 Q504.87 889.31 504.42 890.29 Q503.96 891.26 504.63 892.23 L505.30 893.20" fill="none" stroke="#ac9e84" stroke-width="0.85" stroke-linejoin="round" stroke-linecap="round"/>
<ellipse cx="501.61" cy="876.74" rx="1.88" ry="1.05" fill="#a4cc48" transform="rotate(261.6 501.61 876.74)"/>
<ellipse cx="503.51" cy="877.52" rx="1.71" ry="0.96" fill="#88b83c" transform="rotate(332.4 503.51 877.52)"/>
<ellipse cx="503.49" cy="879.17" rx="2.08" ry="1.17" fill="#a4cc48" transform="rotate(404.5 503.49 879.17)"/>
<ellipse cx="500.74" cy="879.37" rx="2.05" ry="1.15" fill="#88b83c" transform="rotate(482.1 500.74 879.37)"/>
<ellipse cx="499.97" cy="878.08" rx="1.81" ry="1.02" fill="#a4cc48" transform="rotate(540.8 499.97 878.08)"/>
<circle cx="501.90" cy="878.10" r="1.12" fill="#a4cc48"/>
<ellipse cx="514.50" cy="879.50" rx="4" ry="2.2" fill="#000" opacity="0.18"/>
<path d="M517.00 880.50 Q516.22 882.07 516.83 882.86 Q517.43 883.64 517.41 884.43 Q517.39 885.21 517.79 886.00 Q518.19 886.79 517.44 887.57 Q516.70 888.36 517.27 889.14 Q517.85 889.93 517.67 890.71 L517.50 891.50" fill="none" stroke="#ac9e84" stroke-width="0.85" stroke-linejoin="round" stroke-linecap="round"/>
<ellipse cx="517.56" cy="880.48" rx="2.09" ry="1.17" fill="#a4cc48" transform="rotate(75.5 517.56 880.48)"/>
<ellipse cx="515.61" cy="879.67" rx="1.59" ry="0.89" fill="#88b83c" transform="rotate(144.8 515.61 879.67)"/>
<ellipse cx="515.67" cy="877.98" rx="1.87" ry="1.04" fill="#a4cc48" transform="rotate(228.0 515.67 877.98)"/>
<ellipse cx="517.45" cy="877.79" rx="1.71" ry="0.96" fill="#88b83c" transform="rotate(284.2 517.45 877.79)"/>
<ellipse cx="519.00" cy="878.99" rx="1.88" ry="1.05" fill="#a4cc48" transform="rotate(359.5 519.00 878.99)"/>
<circle cx="517.00" cy="879.00" r="1.12" fill="#a4cc48"/>
<ellipse cx="525.80" cy="878.30" rx="4" ry="2.2" fill="#000" opacity="0.18"/>
<path d="M528.30 879.30 Q528.14 881.41 528.25 882.47 Q528.36 883.53 528.28 884.59 Q528.19 885.64 528.74 886.70 Q529.30 887.76 529.27 888.81 Q529.25 889.87 529.19 890.93 Q529.13 891.99 529.36 893.04 L529.60 894.10" fill="none" stroke="#ac9e84" stroke-width="0.85" stroke-linejoin="round" stroke-linecap="round"/>
<ellipse cx="530.08" cy="877.47" rx="1.73" ry="0.97" fill="#a4cc48" transform="rotate(344.7 530.08 877.47)"/>
<ellipse cx="529.36" cy="879.25" rx="2.22" ry="1.24" fill="#88b83c" transform="rotate(423.4 529.36 879.25)"/>
<ellipse cx="526.52" cy="878.54" rx="1.95" ry="1.09" fill="#a4cc48" transform="rotate(508.7 526.52 878.54)"/>
<ellipse cx="526.54" cy="877.34" rx="1.77" ry="0.99" fill="#88b83c" transform="rotate(561.0 526.54 877.34)"/>
<ellipse cx="528.41" cy="876.49" rx="1.79" ry="1.00" fill="#a4cc48" transform="rotate(633.2 528.41 876.49)"/>
<circle cx="528.30" cy="877.80" r="1.12" fill="#a4cc48"/>
<ellipse cx="553.10" cy="879.50" rx="4" ry="2.2" fill="#000" opacity="0.18"/>
<path d="M555.60 880.50 Q556.07 884.00 555.58 885.75 Q555.10 887.50 555.62 889.25 Q556.13 891.00 555.26 892.75 Q554.38 894.50 554.70 896.25 Q555.02 898.00 555.02 899.75 Q555.01 901.50 555.05 903.25 L555.10 905.00" fill="none" stroke="#ac9e84" stroke-width="0.85" stroke-linejoin="round" stroke-linecap="round"/>
<ellipse cx="554.10" cy="878.36" rx="1.66" ry="0.93" fill="#a4cc48" transform="rotate(212.1 554.10 878.36)"/>
<ellipse cx="556.91" cy="877.65" rx="2.22" ry="1.24" fill="#88b83c" transform="rotate(303.7 556.91 877.65)"/>
<ellipse cx="557.36" cy="879.63" rx="1.86" ry="1.04" fill="#a4cc48" transform="rotate(387.7 557.36 879.63)"/>
<ellipse cx="556.10" cy="880.33" rx="1.87" ry="1.05" fill="#88b83c" transform="rotate(435.4 556.10 880.33)"/>
<ellipse cx="553.61" cy="879.14" rx="1.88" ry="1.05" fill="#a4cc48" transform="rotate(534.1 553.61 879.14)"/>
<circle cx="555.60" cy="879.00" r="1.12" fill="#a4cc48"/>
<ellipse cx="564.90" cy="881.60" rx="4" ry="2.2" fill="#000" opacity="0.18"/>
<path d="M567.40 882.60 Q566.71 885.20 567.02 886.50 Q567.33 887.80 567.21 889.10 Q567.09 890.40 567.65 891.70 Q568.22 893.00 568.27 894.30 Q568.32 895.60 568.53 896.90 Q568.75 898.20 568.48 899.50 L568.20 900.80" fill="none" stroke="#ac9e84" stroke-width="0.85" stroke-linejoin="round" stroke-linecap="round"/>
<ellipse cx="569.17" cy="882.15" rx="2.19" ry="1.23" fill="#a4cc48" transform="rotate(40.8 569.17 882.15)"/>
<ellipse cx="566.91" cy="882.30" rx="1.70" ry="0.95" fill="#88b83c" transform="rotate(105.7 566.91 882.30)"/>
<ellipse cx="565.39" cy="881.22" rx="1.89" ry="1.06" fill="#a4cc48" transform="rotate(174.9 565.39 881.22)"/>
<ellipse cx="567.28" cy="879.85" rx="1.70" ry="0.95" fill="#88b83c" transform="rotate(266.2 567.28 879.85)"/>
<ellipse cx="569.70" cy="880.84" rx="2.19" ry="1.22" fill="#a4cc48" transform="rotate(350.6 569.70 880.84)"/>
<circle cx="567.40" cy="881.10" r="1.12" fill="#a4cc48"/>
<ellipse cx="575.80" cy="881.60" rx="4" ry="2.2" fill="#000" opacity="0.18"/>
<path d="M578.30 882.60 Q579.14 885.56 579.27 887.04 Q579.41 888.51 579.31 889.99 Q579.21 891.47 579.19 892.95 Q579.18 894.43 579.31 895.91 Q579.44 897.39 578.76 898.86 Q578.07 900.34 578.59 901.82 L579.10 903.30" fill="none" stroke="#ac9e84" stroke-width="0.85" stroke-linejoin="round" stroke-linecap="round"/>
<ellipse cx="576.10" cy="881.34" rx="2.08" ry="1.17" fill="#a4cc48" transform="rotate(171.1 576.10 881.34)"/>
<ellipse cx="578.40" cy="879.58" rx="2.08" ry="1.16" fill="#88b83c" transform="rotate(272.5 578.40 879.58)"/>
<ellipse cx="579.89" cy="880.49" rx="1.70" ry="0.95" fill="#a4cc48" transform="rotate(330.8 579.89 880.49)"/>
<ellipse cx="579.60" cy="882.25" rx="1.98" ry="1.11" fill="#88b83c" transform="rotate(412.0 579.60 882.25)"/>
<ellipse cx="576.77" cy="882.04" rx="1.93" ry="1.08" fill="#a4cc48" transform="rotate(498.1 576.77 882.04)"/>
<circle cx="578.30" cy="881.10" r="1.12" fill="#a4cc48"/>
<text transform="translate(419.00,970.00) scale(1,1.15)" text-anchor="middle" style="font-size:6.4px;font-family:'Liberation Serif';fill:#eeeeee">WT</text>
<text transform="translate(467.80,970.00) scale(1,1.15)" text-anchor="middle" style="font-size:6.4px;font-family:'Liberation Serif';fill:#eeeeee">Mutant</text>
<text transform="translate(522.00,970.00) scale(1,1.15)" text-anchor="middle" style="font-size:6.4px;font-family:'Liberation Serif';fill:#eeeeee"><tspan font-style="italic">PlARF2</tspan>-OE</text>
<text transform="translate(572.40,970.00) scale(1,1.15)" text-anchor="middle" style="font-size:6.4px;font-family:'Liberation Serif';fill:#eeeeee"><tspan font-style="italic">PlARF2</tspan>-FC</text>
<clipPath id="rc604863"><rect x="604.00" y="863.00" width="46.00" height="112.70"/></clipPath><g clip-path="url(#rc604863)">
<rect x="604.00" y="863.00" width="46.00" height="112.70" fill="#ebe8e8"/>
<rect x="604.00" y="863.00" width="4.60" height="112.70" fill="#d6d2d3"/>
<rect x="644.94" y="863.00" width="5.06" height="112.70" fill="#d6d2d3"/>
<line x1="606.30" y1="974.32" x2="612.74" y2="974.32" stroke="#aaa4a6" stroke-width="0.55"/>
<line x1="647.70" y1="974.32" x2="641.26" y2="974.32" stroke="#aaa4a6" stroke-width="0.55"/>
<line x1="606.30" y1="972.66" x2="612.74" y2="972.66" stroke="#aaa4a6" stroke-width="0.55"/>
<line x1="647.70" y1="972.66" x2="641.26" y2="972.66" stroke="#aaa4a6" stroke-width="0.55"/>
<line x1="606.30" y1="971.00" x2="615.96" y2="971.00" stroke="#aaa4a6" stroke-width="0.55"/>
<line x1="647.70" y1="971.00" x2="638.04" y2="971.00" stroke="#aaa4a6" stroke-width="0.55"/>
<line x1="606.30" y1="969.34" x2="612.74" y2="969.34" stroke="#aaa4a6" stroke-width="0.55"/>
<line x1="647.70" y1="969.34" x2="641.26" y2="969.34" stroke="#aaa4a6" stroke-width="0.55"/>
<line x1="606.30" y1="967.68" x2="612.74" y2="967.68" stroke="#aaa4a6" stroke-width="0.55"/>
<line x1="647.70" y1="967.68" x2="641.26" y2="967.68" stroke="#aaa4a6" stroke-width="0.55"/>
<line x1="606.30" y1="966.02" x2="612.74" y2="966.02" stroke="#aaa4a6" stroke-width="0.55"/>
<line x1="647.70" y1="966.02" x2="641.26" y2="966.02" stroke="#aaa4a6" stroke-width="0.55"/>
<line x1="606.30" y1="964.36" x2="612.74" y2="964.36" stroke="#aaa4a6" stroke-width="0.55"/>
<line x1="647.70" y1="964.36" x2="641.26" y2="964.36" stroke="#aaa4a6" stroke-width="0.55"/>
<line x1="606.30" y1="962.70" x2="618.72" y2="962.70" stroke="#aaa4a6" stroke-width="0.55"/>
<line x1="647.70" y1="962.70" x2="635.28" y2="962.70" stroke="#aaa4a6" stroke-width="0.55"/>
<line x1="606.30" y1="961.04" x2="612.74" y2="961.04" stroke="#aaa4a6" stroke-width="0.55"/>
<line x1="647.70" y1="961.04" x2="641.26" y2="961.04" stroke="#aaa4a6" stroke-width="0.55"/>
<line x1="606.30" y1="959.38" x2="612.74" y2="959.38" stroke="#aaa4a6" stroke-width="0.55"/>
<line x1="647.70" y1="959.38" x2="641.26" y2="959.38" stroke="#aaa4a6" stroke-width="0.55"/>
<line x1="606.30" y1="957.72" x2="612.74" y2="957.72" stroke="#aaa4a6" stroke-width="0.55"/>
<line x1="647.70" y1="957.72" x2="641.26" y2="957.72" stroke="#aaa4a6" stroke-width="0.55"/>
<line x1="606.30" y1="956.06" x2="612.74" y2="956.06" stroke="#aaa4a6" stroke-width="0.55"/>
<line x1="647.70" y1="956.06" x2="641.26" y2="956.06" stroke="#aaa4a6" stroke-width="0.55"/>
<line x1="606.30" y1="954.40" x2="615.96" y2="954.40" stroke="#aaa4a6" stroke-width="0.55"/>
<line x1="647.70" y1="954.40" x2="638.04" y2="954.40" stroke="#aaa4a6" stroke-width="0.55"/>
<line x1="606.30" y1="952.74" x2="612.74" y2="952.74" stroke="#aaa4a6" stroke-width="0.55"/>
<line x1="647.70" y1="952.74" x2="641.26" y2="952.74" stroke="#aaa4a6" stroke-width="0.55"/>
<line x1="606.30" y1="951.08" x2="612.74" y2="951.08" stroke="#aaa4a6" stroke-width="0.55"/>
<line x1="647.70" y1="951.08" x2="641.26" y2="951.08" stroke="#aaa4a6" stroke-width="0.55"/>
<line x1="606.30" y1="949.42" x2="612.74" y2="949.42" stroke="#aaa4a6" stroke-width="0.55"/>
<line x1="647.70" y1="949.42" x2="641.26" y2="949.42" stroke="#aaa4a6" stroke-width="0.55"/>
<line x1="606.30" y1="947.76" x2="612.74" y2="947.76" stroke="#aaa4a6" stroke-width="0.55"/>
<line x1="647.70" y1="947.76" x2="641.26" y2="947.76" stroke="#aaa4a6" stroke-width="0.55"/>
<line x1="606.30" y1="946.10" x2="618.72" y2="946.10" stroke="#aaa4a6" stroke-width="0.55"/>
<line x1="647.70" y1="946.10" x2="635.28" y2="946.10" stroke="#aaa4a6" stroke-width="0.55"/>
<line x1="606.30" y1="944.44" x2="612.74" y2="944.44" stroke="#aaa4a6" stroke-width="0.55"/>
<line x1="647.70" y1="944.44" x2="641.26" y2="944.44" stroke="#aaa4a6" stroke-width="0.55"/>
<line x1="606.30" y1="942.78" x2="612.74" y2="942.78" stroke="#aaa4a6" stroke-width="0.55"/>
<line x1="647.70" y1="942.78" x2="641.26" y2="942.78" stroke="#aaa4a6" stroke-width="0.55"/>
<line x1="606.30" y1="941.12" x2="612.74" y2="941.12" stroke="#aaa4a6" stroke-width="0.55"/>
<line x1="647.70" y1="941.12" x2="641.26" y2="941.12" stroke="#aaa4a6" stroke-width="0.55"/>
<line x1="606.30" y1="939.46" x2="612.74" y2="939.46" stroke="#aaa4a6" stroke-width="0.55"/>
<line x1="647.70" y1="939.46" x2="641.26" y2="939.46" stroke="#aaa4a6" stroke-width="0.55"/>
<line x1="606.30" y1="937.80" x2="615.96" y2="937.80" stroke="#aaa4a6" stroke-width="0.55"/>
<line x1="647.70" y1="937.80" x2="638.04" y2="937.80" stroke="#aaa4a6" stroke-width="0.55"/>
<line x1="606.30" y1="936.14" x2="612.74" y2="936.14" stroke="#aaa4a6" stroke-width="0.55"/>
<line x1="647.70" y1="936.14" x2="641.26" y2="936.14" stroke="#aaa4a6" stroke-width="0.55"/>
<line x1="606.30" y1="934.48" x2="612.74" y2="934.48" stroke="#aaa4a6" stroke-width="0.55"/>
<line x1="647.70" y1="934.48" x2="641.26" y2="934.48" stroke="#aaa4a6" stroke-width="0.55"/>
<line x1="606.30" y1="932.82" x2="612.74" y2="932.82" stroke="#aaa4a6" stroke-width="0.55"/>
<line x1="647.70" y1="932.82" x2="641.26" y2="932.82" stroke="#aaa4a6" stroke-width="0.55"/>
<line x1="606.30" y1="931.16" x2="612.74" y2="931.16" stroke="#aaa4a6" stroke-width="0.55"/>
<line x1="647.70" y1="931.16" x2="641.26" y2="931.16" stroke="#aaa4a6" stroke-width="0.55"/>
<line x1="606.30" y1="929.50" x2="618.72" y2="929.50" stroke="#aaa4a6" stroke-width="0.55"/>
<line x1="647.70" y1="929.50" x2="635.28" y2="929.50" stroke="#aaa4a6" stroke-width="0.55"/>
<line x1="606.30" y1="927.84" x2="612.74" y2="927.84" stroke="#aaa4a6" stroke-width="0.55"/>
<line x1="647.70" y1="927.84" x2="641.26" y2="927.84" stroke="#aaa4a6" stroke-width="0.55"/>
<line x1="606.30" y1="926.18" x2="612.74" y2="926.18" stroke="#aaa4a6" stroke-width="0.55"/>
<line x1="647.70" y1="926.18" x2="641.26" y2="926.18" stroke="#aaa4a6" stroke-width="0.55"/>
<line x1="606.30" y1="924.52" x2="612.74" y2="924.52" stroke="#aaa4a6" stroke-width="0.55"/>
<line x1="647.70" y1="924.52" x2="641.26" y2="924.52" stroke="#aaa4a6" stroke-width="0.55"/>
<line x1="606.30" y1="922.86" x2="612.74" y2="922.86" stroke="#aaa4a6" stroke-width="0.55"/>
<line x1="647.70" y1="922.86" x2="641.26" y2="922.86" stroke="#aaa4a6" stroke-width="0.55"/>
<line x1="606.30" y1="921.20" x2="615.96" y2="921.20" stroke="#aaa4a6" stroke-width="0.55"/>
<line x1="647.70" y1="921.20" x2="638.04" y2="921.20" stroke="#aaa4a6" stroke-width="0.55"/>
<line x1="606.30" y1="919.54" x2="612.74" y2="919.54" stroke="#aaa4a6" stroke-width="0.55"/>
<line x1="647.70" y1="919.54" x2="641.26" y2="919.54" stroke="#aaa4a6" stroke-width="0.55"/>
<line x1="606.30" y1="917.88" x2="612.74" y2="917.88" stroke="#aaa4a6" stroke-width="0.55"/>
<line x1="647.70" y1="917.88" x2="641.26" y2="917.88" stroke="#aaa4a6" stroke-width="0.55"/>
<line x1="606.30" y1="916.22" x2="612.74" y2="916.22" stroke="#aaa4a6" stroke-width="0.55"/>
<line x1="647.70" y1="916.22" x2="641.26" y2="916.22" stroke="#aaa4a6" stroke-width="0.55"/>
<line x1="606.30" y1="914.56" x2="612.74" y2="914.56" stroke="#aaa4a6" stroke-width="0.55"/>
<line x1="647.70" y1="914.56" x2="641.26" y2="914.56" stroke="#aaa4a6" stroke-width="0.55"/>
<line x1="606.30" y1="912.90" x2="618.72" y2="912.90" stroke="#aaa4a6" stroke-width="0.55"/>
<line x1="647.70" y1="912.90" x2="635.28" y2="912.90" stroke="#aaa4a6" stroke-width="0.55"/>
<line x1="606.30" y1="911.24" x2="612.74" y2="911.24" stroke="#aaa4a6" stroke-width="0.55"/>
<line x1="647.70" y1="911.24" x2="641.26" y2="911.24" stroke="#aaa4a6" stroke-width="0.55"/>
<line x1="606.30" y1="909.58" x2="612.74" y2="909.58" stroke="#aaa4a6" stroke-width="0.55"/>
<line x1="647.70" y1="909.58" x2="641.26" y2="909.58" stroke="#aaa4a6" stroke-width="0.55"/>
<line x1="606.30" y1="907.92" x2="612.74" y2="907.92" stroke="#aaa4a6" stroke-width="0.55"/>
<line x1="647.70" y1="907.92" x2="641.26" y2="907.92" stroke="#aaa4a6" stroke-width="0.55"/>
<line x1="606.30" y1="906.26" x2="612.74" y2="906.26" stroke="#aaa4a6" stroke-width="0.55"/>
<line x1="647.70" y1="906.26" x2="641.26" y2="906.26" stroke="#aaa4a6" stroke-width="0.55"/>
<line x1="606.30" y1="904.60" x2="615.96" y2="904.60" stroke="#aaa4a6" stroke-width="0.55"/>
<line x1="647.70" y1="904.60" x2="638.04" y2="904.60" stroke="#aaa4a6" stroke-width="0.55"/>
<line x1="606.30" y1="902.94" x2="612.74" y2="902.94" stroke="#aaa4a6" stroke-width="0.55"/>
<line x1="647.70" y1="902.94" x2="641.26" y2="902.94" stroke="#aaa4a6" stroke-width="0.55"/>
<line x1="606.30" y1="901.28" x2="612.74" y2="901.28" stroke="#aaa4a6" stroke-width="0.55"/>
<line x1="647.70" y1="901.28" x2="641.26" y2="901.28" stroke="#aaa4a6" stroke-width="0.55"/>
<line x1="606.30" y1="899.62" x2="612.74" y2="899.62" stroke="#aaa4a6" stroke-width="0.55"/>
<line x1="647.70" y1="899.62" x2="641.26" y2="899.62" stroke="#aaa4a6" stroke-width="0.55"/>
<line x1="606.30" y1="897.96" x2="612.74" y2="897.96" stroke="#aaa4a6" stroke-width="0.55"/>
<line x1="647.70" y1="897.96" x2="641.26" y2="897.96" stroke="#aaa4a6" stroke-width="0.55"/>
<line x1="606.30" y1="896.30" x2="618.72" y2="896.30" stroke="#aaa4a6" stroke-width="0.55"/>
<line x1="647.70" y1="896.30" x2="635.28" y2="896.30" stroke="#aaa4a6" stroke-width="0.55"/>
<line x1="606.30" y1="894.64" x2="612.74" y2="894.64" stroke="#aaa4a6" stroke-width="0.55"/>
<line x1="647.70" y1="894.64" x2="641.26" y2="894.64" stroke="#aaa4a6" stroke-width="0.55"/>
<line x1="606.30" y1="892.98" x2="612.74" y2="892.98" stroke="#aaa4a6" stroke-width="0.55"/>
<line x1="647.70" y1="892.98" x2="641.26" y2="892.98" stroke="#aaa4a6" stroke-width="0.55"/>
<line x1="606.30" y1="891.32" x2="612.74" y2="891.32" stroke="#aaa4a6" stroke-width="0.55"/>
<line x1="647.70" y1="891.32" x2="641.26" y2="891.32" stroke="#aaa4a6" stroke-width="0.55"/>
<line x1="606.30" y1="889.66" x2="612.74" y2="889.66" stroke="#aaa4a6" stroke-width="0.55"/>
<line x1="647.70" y1="889.66" x2="641.26" y2="889.66" stroke="#aaa4a6" stroke-width="0.55"/>
<line x1="606.30" y1="888.00" x2="615.96" y2="888.00" stroke="#aaa4a6" stroke-width="0.55"/>
<line x1="647.70" y1="888.00" x2="638.04" y2="888.00" stroke="#aaa4a6" stroke-width="0.55"/>
<line x1="606.30" y1="886.34" x2="612.74" y2="886.34" stroke="#aaa4a6" stroke-width="0.55"/>
<line x1="647.70" y1="886.34" x2="641.26" y2="886.34" stroke="#aaa4a6" stroke-width="0.55"/>
<line x1="606.30" y1="884.68" x2="612.74" y2="884.68" stroke="#aaa4a6" stroke-width="0.55"/>
<line x1="647.70" y1="884.68" x2="641.26" y2="884.68" stroke="#aaa4a6" stroke-width="0.55"/>
<line x1="606.30" y1="883.02" x2="612.74" y2="883.02" stroke="#aaa4a6" stroke-width="0.55"/>
<line x1="647.70" y1="883.02" x2="641.26" y2="883.02" stroke="#aaa4a6" stroke-width="0.55"/>
<line x1="606.30" y1="881.36" x2="612.74" y2="881.36" stroke="#aaa4a6" stroke-width="0.55"/>
<line x1="647.70" y1="881.36" x2="641.26" y2="881.36" stroke="#aaa4a6" stroke-width="0.55"/>
<line x1="606.30" y1="879.70" x2="618.72" y2="879.70" stroke="#aaa4a6" stroke-width="0.55"/>
<line x1="647.70" y1="879.70" x2="635.28" y2="879.70" stroke="#aaa4a6" stroke-width="0.55"/>
<line x1="606.30" y1="878.04" x2="612.74" y2="878.04" stroke="#aaa4a6" stroke-width="0.55"/>
<line x1="647.70" y1="878.04" x2="641.26" y2="878.04" stroke="#aaa4a6" stroke-width="0.55"/>
<line x1="606.30" y1="876.38" x2="612.74" y2="876.38" stroke="#aaa4a6" stroke-width="0.55"/>
<line x1="647.70" y1="876.38" x2="641.26" y2="876.38" stroke="#aaa4a6" stroke-width="0.55"/>
<line x1="606.30" y1="874.72" x2="612.74" y2="874.72" stroke="#aaa4a6" stroke-width="0.55"/>
<line x1="647.70" y1="874.72" x2="641.26" y2="874.72" stroke="#aaa4a6" stroke-width="0.55"/>
<line x1="606.30" y1="873.06" x2="612.74" y2="873.06" stroke="#aaa4a6" stroke-width="0.55"/>
<line x1="647.70" y1="873.06" x2="641.26" y2="873.06" stroke="#aaa4a6" stroke-width="0.55"/>
<line x1="606.30" y1="871.40" x2="615.96" y2="871.40" stroke="#aaa4a6" stroke-width="0.55"/>
<line x1="647.70" y1="871.40" x2="638.04" y2="871.40" stroke="#aaa4a6" stroke-width="0.55"/>
<line x1="606.30" y1="869.74" x2="612.74" y2="869.74" stroke="#aaa4a6" stroke-width="0.55"/>
<line x1="647.70" y1="869.74" x2="641.26" y2="869.74" stroke="#aaa4a6" stroke-width="0.55"/>
<line x1="606.30" y1="868.08" x2="612.74" y2="868.08" stroke="#aaa4a6" stroke-width="0.55"/>
<line x1="647.70" y1="868.08" x2="641.26" y2="868.08" stroke="#aaa4a6" stroke-width="0.55"/>
<line x1="606.30" y1="866.42" x2="612.74" y2="866.42" stroke="#aaa4a6" stroke-width="0.55"/>
<line x1="647.70" y1="866.42" x2="641.26" y2="866.42" stroke="#aaa4a6" stroke-width="0.55"/>
<line x1="606.30" y1="864.76" x2="612.74" y2="864.76" stroke="#aaa4a6" stroke-width="0.55"/>
<line x1="647.70" y1="864.76" x2="641.26" y2="864.76" stroke="#aaa4a6" stroke-width="0.55"/>
<text transform="translate(628.00,979.90) rotate(-90) scale(0.8,1)" text-anchor="middle" dy="4.38" style="font-size:12.173333333333336px;font-family:'Liberation Sans',sans-serif;font-weight:normal;fill:#48425a">4</text>
<text transform="translate(628.00,963.30) rotate(-90) scale(0.8,1)" text-anchor="middle" dy="4.38" style="font-size:12.173333333333336px;font-family:'Liberation Sans',sans-serif;font-weight:normal;fill:#48425a">5</text>
<text transform="translate(628.00,946.70) rotate(-90) scale(0.8,1)" text-anchor="middle" dy="4.38" style="font-size:12.173333333333336px;font-family:'Liberation Sans',sans-serif;font-weight:normal;fill:#48425a">6</text>
<text transform="translate(628.00,930.10) rotate(-90) scale(0.8,1)" text-anchor="middle" dy="4.38" style="font-size:12.173333333333336px;font-family:'Liberation Sans',sans-serif;font-weight:normal;fill:#48425a">7</text>
<text transform="translate(628.00,913.50) rotate(-90) scale(0.8,1)" text-anchor="middle" dy="4.38" style="font-size:12.173333333333336px;font-family:'Liberation Sans',sans-serif;font-weight:normal;fill:#48425a">8</text>
<text transform="translate(628.00,896.90) rotate(-90) scale(0.8,1)" text-anchor="middle" dy="4.38" style="font-size:12.173333333333336px;font-family:'Liberation Sans',sans-serif;font-weight:normal;fill:#48425a">9</text>
<text transform="translate(628.00,880.30) rotate(-90) scale(0.8,1)" text-anchor="middle" dy="4.38" style="font-size:12.173333333333336px;font-family:'Liberation Sans',sans-serif;font-weight:bold;fill:#d82c50">10</text>
<text transform="translate(628.00,863.70) rotate(-90) scale(0.8,1)" text-anchor="middle" dy="4.38" style="font-size:12.173333333333336px;font-family:'Liberation Sans',sans-serif;font-weight:normal;fill:#48425a">11</text>
</g>
<rect x="312.9" y="863" width="1.3" height="119" fill="#8c8cb4" opacity="0.8"/>
<rect x="267.3" y="863" width="12" height="21" fill="#f0eeec" opacity="0.85"/>
<ellipse cx="275" cy="876" rx="3.5" ry="6" fill="#c8bca8" opacity="0.5"/>
<rect x="604.3" y="863.2" width="12" height="20" fill="#f0eeec" opacity="0.85"/>
<ellipse cx="612" cy="874" rx="3.5" ry="6" fill="#c8bca8" opacity="0.5"/>
</svg></body></html>
